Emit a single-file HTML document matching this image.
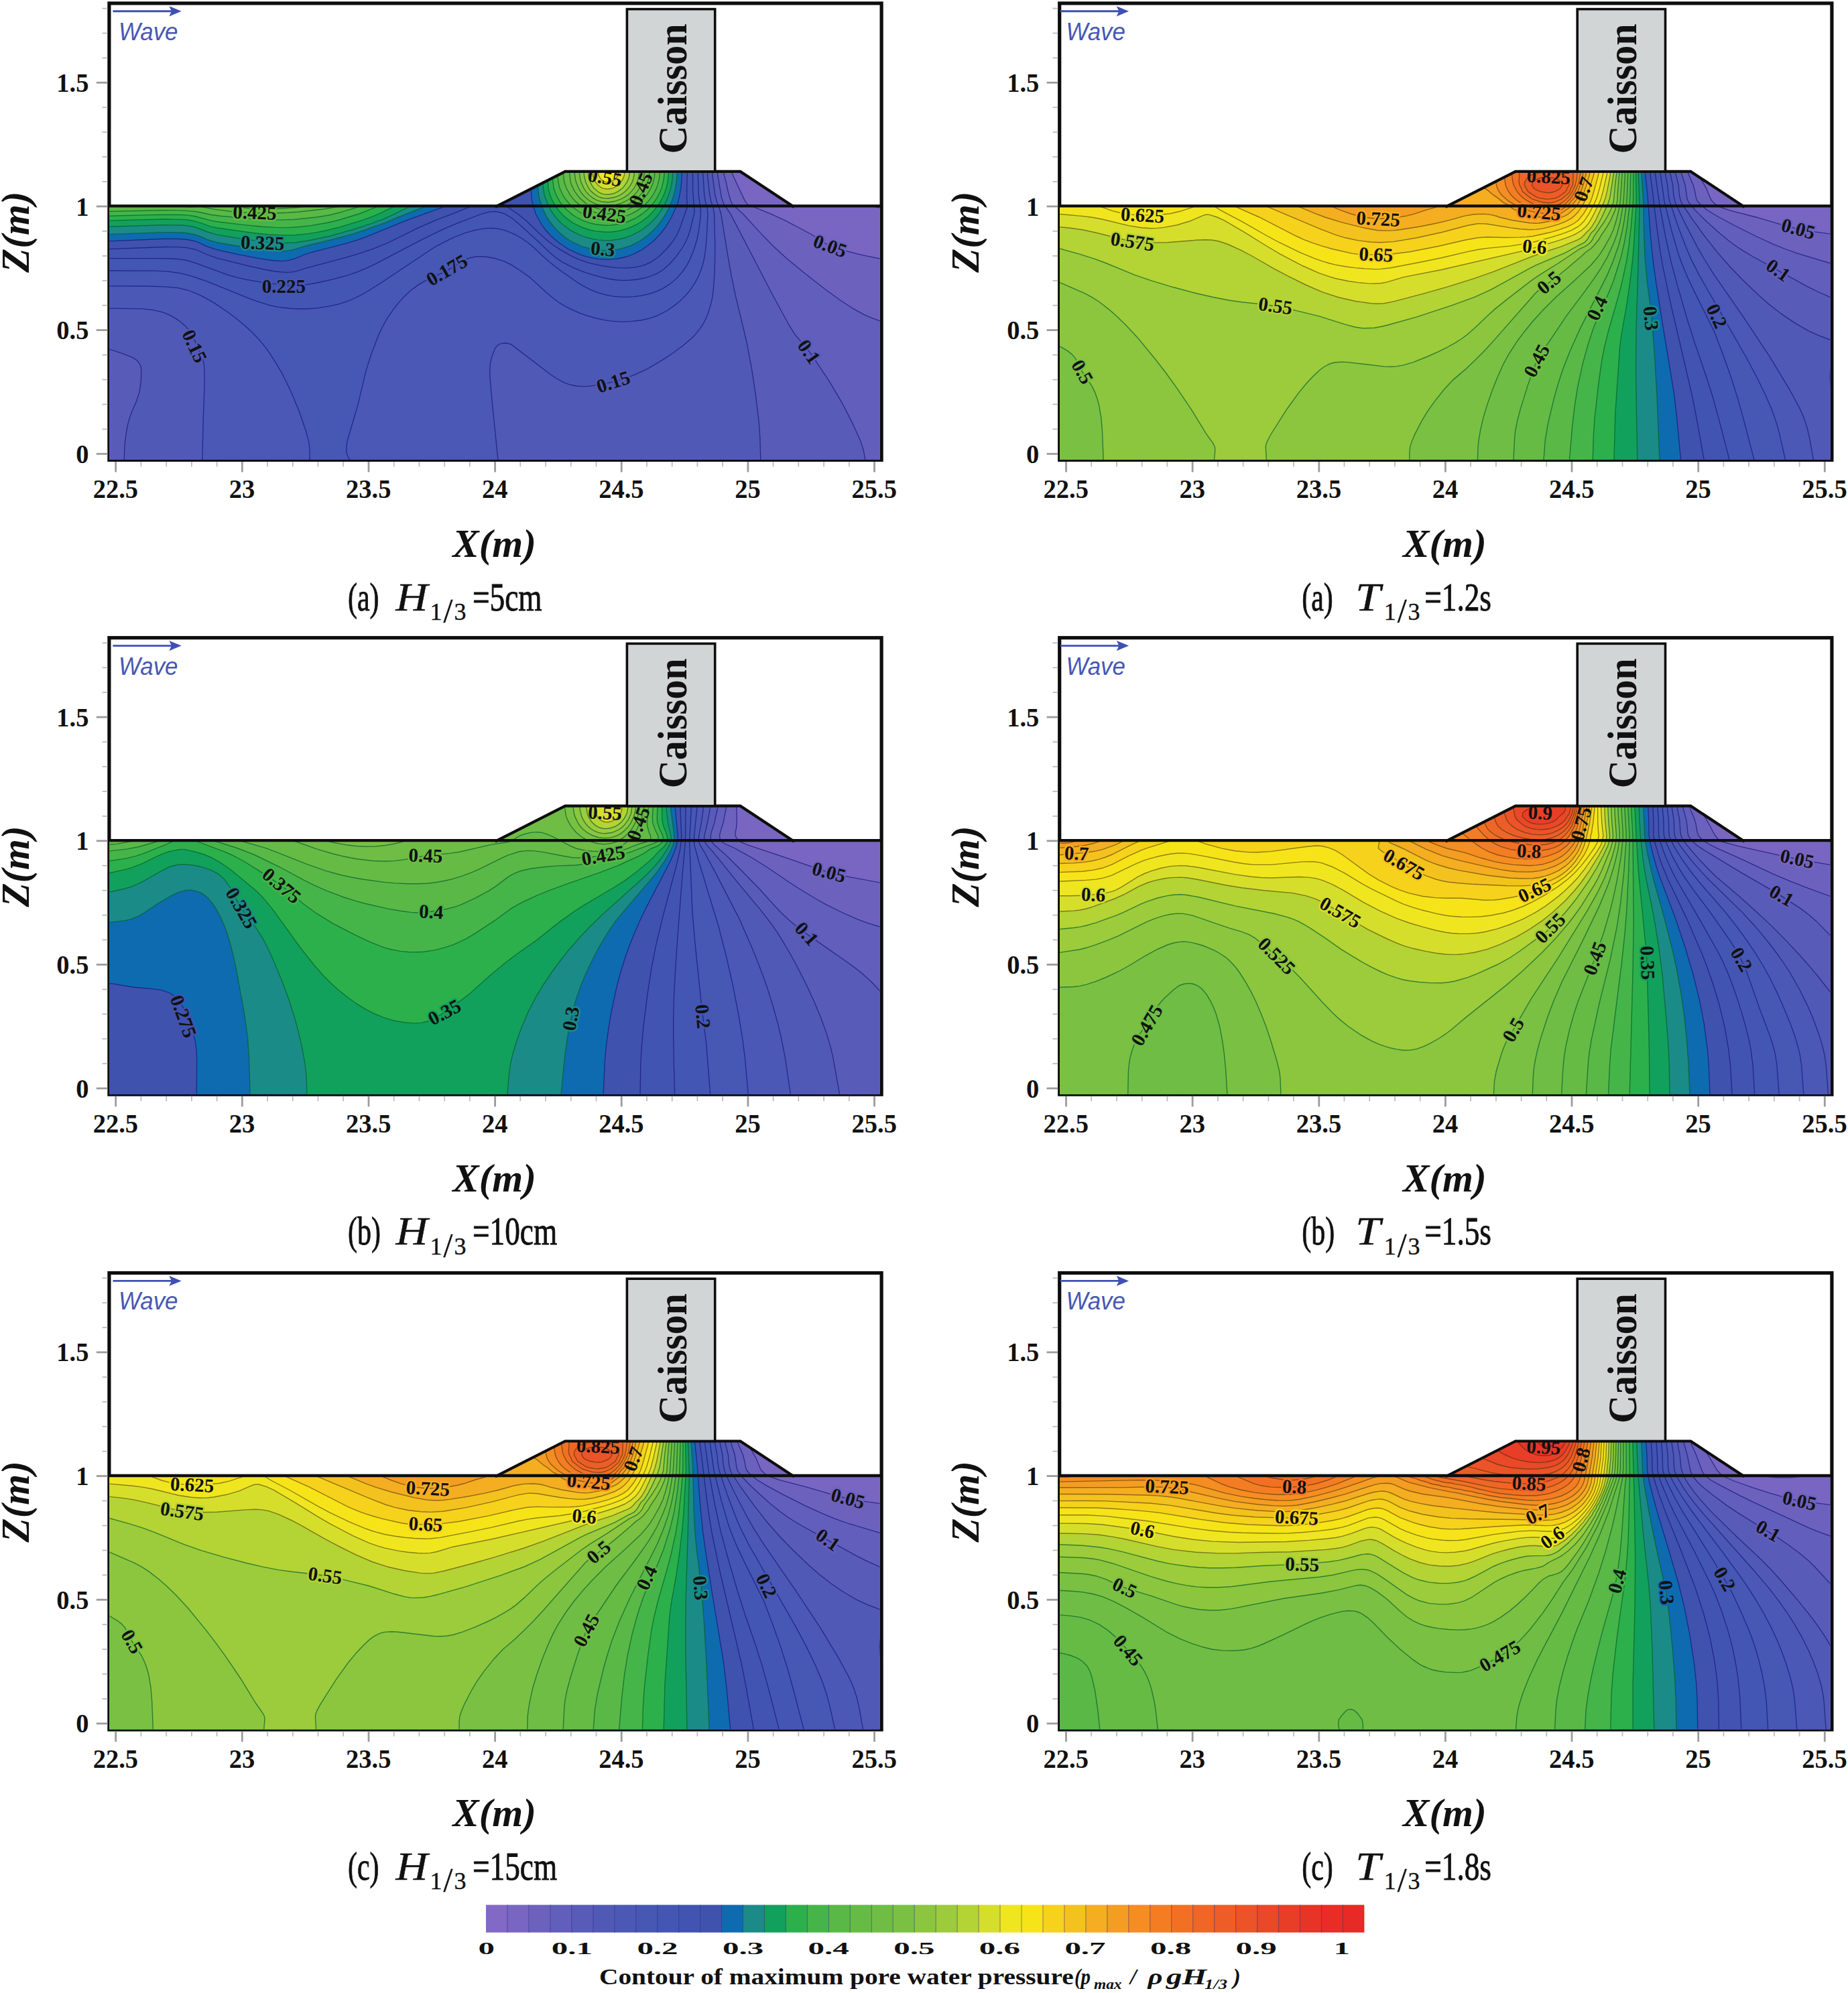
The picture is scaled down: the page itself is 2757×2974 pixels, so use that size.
<!DOCTYPE html><html><head><meta charset="utf-8"><title>Contour of maximum pore water pressure</title>
<style>
html,body{margin:0;padding:0;background:#fff}
svg{display:block}
text{font-family:"Liberation Serif",serif;fill:#111}
.tk{font-weight:bold;font-size:41px}
.ax{font-weight:bold;font-style:italic;font-size:59px}
.cai{font-weight:bold;font-size:62px}
.wv{font-family:"Liberation Sans",sans-serif;font-style:italic;font-size:36px;fill:#4657b3}
.cl{font-weight:bold;font-size:29px;fill:#111;paint-order:stroke;stroke-width:5px;stroke-linejoin:round}
.cap{font-size:60px;stroke:#111;stroke-width:0.9px}
.capi{font-size:60px;font-style:italic;stroke:#111;stroke-width:0.5px}
.caps{font-size:36px;letter-spacing:4px;stroke:#111;stroke-width:0.4px}
.cbt{font-weight:bold;font-size:24.5px}
.cbl{font-weight:bold;font-size:34px}
.cbi{font-style:italic}
.cbs{font-weight:bold;font-style:italic;font-size:20px}
</style></head><body>
<svg width="2757" height="2974" viewBox="0 0 2757 2974">
<rect width="2757" height="2974" fill="#fff"/>
<g transform="translate(0,0)">
<rect x="162.9" y="4.9" width="1152.2" height="681.5" fill="#fff" stroke="#0d0d0d" stroke-width="5.2"/>
<clipPath id="c0"><path d="M163.4 307.4L741.7 307.4L843.2 255.9L1104.5 255.9L1181.8 307.4L1312.6 307.4L1312.6 686L163.4 686Z"/></clipPath>
<g clip-path="url(#c0)">
<rect x="163.4" y="253.9" width="1149.2" height="434.1" fill="#8169c5"/>
<path d="M159.5 690.2L1317.7 690.2L1317.7 311L1298.4 307.3L1283.9 306.1L1240.5 306.9L1216.4 306.2L1192.2 303.5L1172.9 299.8L1163.3 296.1L1158.5 292.4L1131.1 266.9L1124.7 261.7L1120.8 257.4L1119.3 252.6L159.5 252.6L159.5 690.2Z" fill="#7866c2"/>
<path d="M159.5 690.2L1317.7 690.2L1317.7 386.9L1293.6 382.2L1279.1 378.9L1251.2 371.5L1240.5 367.9L1228.9 362L1215.1 352.5L1206.8 347.7L1170.6 328.7L1149.9 319.2L1115 305L1110.2 297.4L1093.6 262.1L1091.9 257.4L1092.3 252.6L159.5 252.6L159.5 690.2Z" fill="#6c62be"/>
<path d="M159.5 690.2L1317.7 690.2L1317.7 480.8L1298.4 473.6L1288.8 469.4L1274.3 461.4L1255 449L1230.8 431.5L1197.1 405L1172.9 384.9L1153.6 367.2L1134.3 347.4L1108.5 319.2L1092.8 304.9L1090.3 300.2L1086.2 285.9L1083.2 271.6L1080.6 262.1L1079.9 257.4L1080.1 252.6L159.5 252.6L159.5 690.2Z" fill="#625ebb"/>
<path d="M159.5 690.2L1291.6 690.2L1288.1 671.2L1283.4 656.9L1270.3 628.4L1255.5 599.8L1238.7 571.3L1213.6 533.3L1203.3 519L1186.6 500L1177.8 486.2L1153.6 441.7L1089.8 319.2L1080.2 304.9L1076.7 295.4L1075.7 290.7L1070.9 262.1L1070.3 257.4L1070.5 252.6L159.5 252.6L159.5 690.2Z" fill="#595bb8"/>
<path d="M185 690.2L1134.9 690.2L1133.8 652.2L1132.1 628.4L1127.5 590.3L1121.8 552.3L1113.8 509.5L1097.7 442.9L1090.9 410.3L1086.1 383.2L1075.7 319.2L1072.9 309.7L1069.1 300.2L1066.8 290.7L1062.9 262.1L1062.5 252.6L159.5 252.6L159.5 520L169.1 522.9L188.5 529.7L197.2 533.3L202.9 536.7L204.5 538L208.2 542.8L210.1 547.5L210.7 552.3L210 571.3L207.7 585.6L203.1 599.8L196.8 614.1L193.3 623.6L190.7 633.1L188.8 642.7L186.2 661.7L185 690.2Z" fill="#5159b6"/>
<path d="M301.7 690.2L743.4 690.2L734.2 599.8L731.3 566.6L730.7 552.3L731.4 542.8L733.8 532.2L739 519L743.4 514.2L748.3 512.6L753.1 512L757.9 512.5L762.9 514.2L820.6 558.3L830.3 564.8L839.9 570.1L849.6 574L859.3 576L868.9 576.6L878.6 576.3L897.9 573.6L912.3 570.3L926.8 566.3L946.1 559.7L965.4 550.7L989.6 536.4L1004 526.8L1018.5 516.2L1033 503.7L1037.8 498.6L1044.4 490.4L1047.7 485.7L1052.9 476.2L1057.1 465.6L1061 452.4L1062.9 442.9L1064.2 433.4L1066.2 404.8L1066.9 366.8L1065.5 319.2L1064 309.7L1060.7 300.2L1058.8 290.7L1055.7 262.1L1055.3 252.6L159.5 252.6L159.5 460.1L212.6 460.9L227.1 462.4L241.5 465.7L246.4 467.3L255.6 471.4L265.7 477.6L275.5 485.7L280 490.4L283.5 495.2L288.8 504.7L301.6 533.3L303.1 538L304.8 547.5L305.2 571.3L303.3 623.6L301.7 690.2Z" fill="#4b58b5"/>
<path d="M463.2 690.2L522 690.2L521.5 685.5L518.9 680.7L517.2 676L516.7 671.2L516.8 666.4L518.5 656.9L532.5 609.4L543.8 561.8L549.1 542.8L557.3 519L562.9 504.7L569.3 490.4L574.3 480.9L583.3 466.7L594.1 452.4L607.5 438.1L618.8 428.6L625.9 423.8L632.4 420.1L664.8 404.8L673.5 400.1L690.3 389.6L698.1 385.8L704.8 383.8L709.6 383L719.3 382.6L724.1 383L739.6 385.8L753.7 390.6L762.7 395.1L777.7 404.8L790.9 414.3L816.7 438.1L828.4 447.6L835.3 452.4L849.6 460.4L863.7 466.7L878.6 471.9L893 475.9L907.5 478.6L922 479.9L941.3 479.7L955.8 478L970.2 474.8L979.9 471.4L994.4 464L1004 457.6L1008.9 454L1018.5 445.4L1028.2 434.9L1033 428.3L1037.8 420.6L1043.3 409.6L1047.5 398.3L1050.6 385.8L1052.3 375.7L1053.7 362L1056 319.2L1054.9 309.7L1052.2 300.2L1050.7 290.7L1048.4 252.6L159.5 252.6L159.5 426.8L217.4 427L246.4 427.8L265.7 429.7L280.1 433L293.3 438.1L303.2 442.9L320.1 452.4L341.2 466.7L353.6 476.2L365 485.7L375.4 495.2L384.6 504.7L392.7 514.2L399.9 523.7L412.4 542.8L420.6 557L427.9 571.3L436.6 590.3L446.3 614.1L456.3 642.7L461.1 661.7L462.1 671.2L461.9 685.5L463.2 690.2Z" fill="#4657b4"/>
<path d="M409.3 457.1L420.1 459L434.6 460.5L449.1 461L463.5 460.7L478 459.2L492.5 456.7L507 453.4L516.6 450.3L526.3 446.4L535.9 441.7L555.2 430.6L613.1 392.6L644.3 371.5L660.7 362L680.7 352.7L695.2 347.3L710.2 343L719.3 341.5L729 340.5L738.6 340.6L753.1 343.7L762.7 347.4L772.4 352.1L786.9 361.5L796.5 369.6L811 383.3L820.6 391.7L835.1 403.1L844.8 410L854.4 416.9L868.9 426.1L878.6 431.2L888.2 435.3L897.9 438.4L907.5 440.8L917.2 442.3L931.6 443.3L941.3 443L955.8 441.4L965.4 439.4L975.1 436.5L984.7 432.5L994.4 427.2L1004 420.2L1013.7 411L1018.8 404.8L1025.1 395.3L1029.9 385.8L1035.6 371.5L1039.9 357.3L1042 347.7L1045.1 324L1045.6 314.4L1042.2 290.7L1041.2 252.6L159.5 252.6L159.5 404L212.6 403.9L236.7 404.3L256 405.7L270.5 408.1L285 411.8L304.3 418.2L381.5 448.9L396 453.8L409.3 457.1Z" fill="#4356b3"/>
<path d="M409.8 423.8L434.6 426.4L444.2 426.3L453.9 425.3L473.2 422L492.5 417.9L511.8 412.9L526.3 408.4L540.7 402.9L555.2 396.2L638.9 352.5L661.4 341.8L685.5 331.9L719.3 319L729 316.4L738.6 315.7L743.4 316.3L748.3 317.6L753.1 319.4L761.4 324L767.8 328.7L778.7 338.2L804.7 362L819.4 376.3L830.3 385.4L839.9 391.7L856.6 400.1L868.9 405.1L888.2 411.3L902.7 415.1L917.2 417.5L926.8 418.3L941.3 418L955.8 416.2L965.4 414L975.1 410.7L984.7 405.7L989.6 402.3L997.6 395.3L1006.4 385.8L1013.7 376.3L1019.8 366.8L1024.7 357.3L1029.8 343L1035.5 319.2L1036 314.4L1033.7 285.9L1033.5 252.6L159.5 252.6L159.5 385.7L236.7 385.7L256 386L270.5 387.2L280.1 389L289.8 391.9L337.7 409.6L352.5 413.8L381.5 419.8L409.8 423.8Z" fill="#4154b1"/>
<path d="M409.2 404.8L424.9 406.4L434.6 406.1L439.4 405.4L458.7 399.5L516.6 384.1L540.7 376.8L556.1 371.5L569.7 366.2L589.6 357.3L622.8 340.7L637.3 334L685.5 314.9L704.8 306.5L719.3 301.3L729 299.4L733.8 299.1L738.6 299.4L743.4 300.6L748.3 302.9L750.5 304.9L753.1 306.2L772.3 319.2L784.4 328.7L804 347.7L815.8 358.3L825.5 365.8L835.1 372.1L854.4 383.1L864.1 387.3L878.6 392.3L902.7 397.5L917.2 399.2L931.6 400L941.3 399.7L955.8 397.2L962 395.3L972.1 390.6L979.1 385.8L984.7 381.3L994.4 371.7L999.2 366L1004 359.8L1008.9 352.5L1013.7 342.1L1025.1 309.7L1025.4 304.9L1024.8 300.2L1024.6 285.9L1025.4 252.6L159.5 252.6L159.5 371.7L246.4 368.5L265.7 368.6L280.1 369.8L289.8 371.8L313.9 381.9L328.4 386.5L376.7 398.3L409.2 404.8Z" fill="#3f52ad"/>
<path d="M387.4 385.8L405.6 388.5L415.3 389.5L424.9 389.4L429.7 388.7L439.4 386.1L453.9 380L463.5 376.8L502.1 367L531.1 358.8L545.6 353.7L564.9 346.2L607.1 328.7L656.6 310.7L670.9 304.9L689.7 295.4L722.8 276.4L733.8 270.9L743.4 267.4L748.3 266.2L757.9 265L762.7 264.9L772.4 266.1L777.2 267.4L785.5 271.6L790.3 276.4L792.3 281.1L793.2 295.4L794.9 304.9L799.3 319.2L807.1 333.5L813.8 343L822.4 352.5L833.4 362L849.6 372.6L864.1 379.3L878.6 383.9L893 386.6L902.7 387.2L917.2 386.7L926.8 385L936.5 382.5L946.1 378.7L955.8 373.7L965.4 367.3L975.1 359.4L979.9 354.6L986.3 347.7L993.5 338.2L1001.8 324L1010.5 304.9L1013.1 295.4L1015.7 281.1L1016.7 271.6L1017.7 252.6L159.5 252.6L159.5 360.1L246.4 356.4L265.7 356.4L277.7 357.3L285 358.5L294.6 361.2L309.1 367.8L323.6 372.7L357.4 380.1L387.4 385.8Z" fill="#0e6bb0"/>
<path d="M384.9 371.5L415.3 374.6L424.9 374.6L434.6 373.2L456.7 366.8L482.8 360.7L511.8 353.3L540.7 344.5L574.5 332.3L594.2 324L642.1 305.3L666.2 292.3L700 270.7L714.5 262.5L729 256.5L738.6 253.9L746.6 252.6L159.5 252.6L159.5 349.8L236.7 346.9L256 346.6L275.3 347.3L289.8 349.7L299.4 353L309.1 357.3L323.6 361.6L357.4 367.5L384.9 371.5ZM882 371.5L893 373.2L902.7 373.8L917.2 372.9L926.8 371.1L941.3 366.3L950.9 361.6L960.6 355.5L970.2 347.8L979.9 338L987.2 328.7L994.4 317.2L1000.3 304.9L1005.3 290.7L1007.7 281.1L1009.2 271.6L1010.5 252.6L764.9 252.6L777.2 255.2L786.9 259.3L791.7 262.2L796.5 266.3L800.6 271.6L802.4 276.4L803.1 285.9L804.5 295.4L808.9 309.7L813.3 319.2L818.9 328.7L825.5 337.6L830.3 343L839.9 351.8L844.8 355.4L854.4 361.5L868.9 367.9L882 371.5Z" fill="#1b8b88"/>
<path d="M412.3 362L424.9 362.5L439.4 362L463.5 358.4L492.5 352.2L502.1 349.3L509.4 347.7L516.6 345.2L526.3 342.9L531.1 340.9L540.7 338.3L545.6 336.2L555.2 333.4L560 331.2L569.7 327.8L589 319.4L593.8 316.7L632.4 298L652.2 285.9L687.3 262.1L704.2 252.6L159.5 252.6L159.5 338.4L241.5 335.7L260.8 335.7L275.3 336.3L289.8 338.7L313.9 347.7L328.4 351L376.7 358.5L396 360.7L412.3 362ZM887.7 357.3L897.9 358.5L907.5 358.8L917.2 358L931.6 355L941.3 351.6L950.9 347L960.6 341L970.2 333.1L978.9 324L984.7 316.5L989.6 308.8L994.4 299.4L999.2 286.3L1001.7 276.4L1003.1 266.9L1003.9 252.6L794.4 252.6L801.3 258.2L804.7 262.1L807.8 266.9L809.7 271.6L811.2 285.9L812.2 290.7L815.2 300.2L817.2 304.9L822.2 314.4L830.3 325.6L839.9 335.2L844.8 339.1L854.4 345.4L868.9 352.2L878.6 355.3L887.7 357.3Z" fill="#12a15c"/>
<path d="M378.4 347.7L400.8 350L420.1 351L439.4 350.8L453.9 349.5L473.2 346.6L492.5 342.6L507 338.9L535.9 330.2L553.7 324L565.2 319.2L613.5 295.4L632.4 284.1L666.2 260.4L678.2 252.6L159.5 252.6L159.5 329.2L246.4 327L275.3 327.6L284.3 328.7L289.8 329.9L299.4 332.7L313.9 337.9L323.6 340L352.5 344.4L378.4 347.7ZM879.7 343L893 345.6L902.7 346.3L912.3 346L922 344.8L931.6 342.4L941.3 339L950.9 334.4L960.6 328.1L970.2 320L975.5 314.4L982.7 304.9L988.2 295.4L992.2 285.9L995.1 276.4L996.8 266.9L997.6 252.6L808.2 252.6L811.9 257.4L814.6 262.1L816.4 266.9L817.4 271.6L818.1 281.1L820.5 290.7L822.4 295.4L827.1 304.9L833.8 314.4L839.9 321.1L844.8 325.4L854.4 332.3L859.3 335L868.9 339.5L879.7 343Z" fill="#2cb04c"/>
<path d="M391.5 338.2L410.4 339.4L424.9 339.7L444.2 338.8L458.7 337.2L478 334.3L497.3 330.4L516.6 325.1L535.9 319L560 309.6L603.5 287.8L622 276.4L655.5 252.6L159.5 252.6L159.5 322.3L241.5 320.3L275.3 320.7L289.8 322.5L313.9 328.9L323.6 330.8L362.2 335.4L391.5 338.2ZM882.6 333.5L893 335.5L902.7 336.3L912.3 336L922 334.7L931.6 332.3L941.3 328.8L950.9 323.9L960.6 317.3L969 309.7L975.1 302.7L980 295.4L984.7 286.3L986.8 281.1L989.6 271.3L990.8 262.1L991.2 252.6L819.2 252.6L821.7 257.4L823.4 262.1L824.4 266.9L825.5 277.3L827.7 285.9L831.9 295.4L838.1 304.9L846.8 314.4L852.5 319.2L859.3 323.8L868.9 328.8L873.7 330.8L882.6 333.5Z" fill="#46b549"/>
<path d="M347.4 324L386.3 326.9L405.6 327.9L424.9 328.1L439.4 327.5L458.7 325.7L478 323.3L492.5 320.7L516.6 314.4L535.9 308.5L545.6 305.2L556.7 300.2L584 285.9L598.7 277.3L614.4 266.9L634.2 252.6L159.5 252.6L159.5 315.6L241.5 313.9L270.5 314.1L289.8 315.3L318.8 321L347.4 324ZM882 324L893 326.5L902.7 327.3L912.3 327.1L922 325.7L931.6 323.2L941.3 319.4L946.1 317L955.8 310.8L960.6 306.8L967.3 300.2L974.3 290.7L977 285.9L979.9 279.5L982.4 271.6L984 262.1L984.4 252.6L829.2 252.6L831.9 262.1L832.9 271.6L835.1 281.1L839.5 290.7L844.8 298.7L850.1 304.9L855.3 309.7L861.6 314.4L873.7 321L882 324Z" fill="#5ab847"/>
<path d="M336.2 314.4L352.5 316.1L371.8 317.4L405.6 318L424.9 317.5L444.2 316.2L468.4 313.6L482.8 312L502.1 308.7L511.8 307.5L520.3 304.9L535.9 298.8L545.6 294.5L560 287L586.1 271.6L613.5 252.6L159.5 252.6L159.5 308L246.4 307.2L260.8 307.4L285 308.7L294.6 308L299.4 308.4L318.8 312.1L336.2 314.4ZM880.7 314.4L888.2 317L893 318.1L902.7 318.9L912.3 318.7L922 317.3L926.8 316.1L936.5 312.7L946.1 307.7L955.8 300.6L960.6 295.9L965.4 290.1L970.2 282.3L973 276.4L975.8 266.9L976.5 262.1L976.9 252.6L839 252.6L840.1 257.4L841.8 271.6L843.2 276.4L847.5 285.9L850.4 290.7L854 295.4L858.3 300.2L863.7 304.9L873.7 311.5L880.7 314.4Z" fill="#66bb45"/>
<path d="M357 309.7L371.8 310.9L396 311.9L410.4 311.7L429.7 310.6L444.2 309.5L463.5 307.1L507 298.8L521.4 294.3L531.1 290.2L545.6 282.9L569.7 268.5L592.8 252.6L159.5 252.6L159.5 300L246.4 300.3L280.1 301.5L299.4 301.2L309.1 302.4L338.1 307.4L357 309.7ZM886.6 309.7L893 311.6L902.7 312.9L907.5 312.9L917.2 311.9L922 310.9L931.6 307.7L937.6 304.9L945.2 300.2L951 295.4L955.6 290.7L959.3 285.9L962.3 281.1L966.4 271.6L967.7 266.9L968.5 262.1L969.1 252.6L848.3 252.6L849.5 257.4L851.2 271.6L852.8 276.4L857.5 285.9L864.1 294.7L869.9 300.2L878.6 306.1L886.6 309.7Z" fill="#6fbd45"/>
<path d="M377.7 304.9L400.8 306.1L420.1 305L439.4 303.3L463.5 299.7L497.3 291.6L514.7 285.9L531.1 278.3L550.9 266.9L572.1 252.6L159.5 252.6L159.5 291.5L299.4 294.2L313.9 295.8L352.5 302.2L377.7 304.9ZM890.5 304.9L897.9 306.8L902.7 307.3L907.5 307.4L917.2 306.2L922.3 304.9L931.6 301.2L941 295.4L946.4 290.7L950.6 285.9L956.5 276.4L959.9 266.9L961.4 252.6L856.5 252.6L858.3 266.9L859.4 271.6L861.1 276.4L866.1 285.9L869.7 290.7L874.4 295.4L878.6 298.8L883.4 301.8L890.5 304.9Z" fill="#7ac043"/>
<path d="M894.9 300.2L902.7 301.6L907.5 301.7L917.2 300.3L926.8 296.9L931.6 294.3L936.7 290.7L941.9 285.9L945.7 281.1L948.6 276.4L950.8 271.6L953.2 262.1L953.9 252.6L863.9 252.6L865.6 266.9L866.8 271.6L868.7 276.4L873.7 285.2L878.6 290.6L883.4 294.7L888.2 297.7L894.9 300.2ZM357.1 295.4L386.3 298.6L405.6 299L434.6 296.5L444.2 295.1L458.7 292.3L487.7 284.5L497.8 281.1L509.7 276.4L528.4 266.9L550.8 252.6L159.5 252.6L159.5 282.7L299.4 287L318.8 289.1L357.1 295.4Z" fill="#8cc63f"/>
<path d="M899.4 295.4L907.5 296L917.2 294.3L922 292.6L925.9 290.7L932.6 285.9L937.3 281.1L943.2 271.6L945.9 262.1L946.5 252.6L870.7 252.6L871.5 262.1L873.6 271.6L878.4 281.1L882.3 285.9L888.2 290.9L893 293.6L899.4 295.4ZM387.3 290.7L405.6 290.9L424.9 289.4L444.2 286.3L463.5 281.6L480.2 276.4L497.3 269.6L512.5 262.1L528.4 252.6L159.5 252.6L159.5 273.5L198.1 275.3L280.1 278.2L299.4 279.3L323.6 282L367 288.6L387.3 290.7Z" fill="#9ccb3c"/>
<path d="M891.9 285.9L897.9 289.1L902.7 290.1L907.5 290.2L912.3 289.5L917.2 288.1L922 285.8L928.3 281.1L932.4 276.4L935.4 271.6L937.6 266.9L938.8 262.1L939.4 257.4L939.3 252.6L877.4 252.6L878 262.1L878.8 266.9L880.5 271.6L883.4 277.1L886.3 281.1L891.9 285.9ZM381.3 281.1L396 281.8L410.4 281.3L424.9 279.7L442.9 276.4L458.7 272.1L473.8 266.9L487.7 261L503.9 252.6L159.5 252.6L159.5 263.8L198.1 266.1L294.6 270.7L318.8 273.1L362.2 279.1L381.3 281.1Z" fill="#b4d334"/>
<path d="M900.5 281.1L902.7 281.8L907.5 282L912.3 281.3L917.2 279.4L922 276.2L926.4 271.6L929.4 266.9L931.2 262.1L931.6 259.5L931.9 257.4L931.6 252.6L884.7 252.6L884.4 257.4L884.9 262.1L886.3 266.9L888.2 271L893 277.1L897.9 280.3L900.5 281.1ZM341.8 266.9L367 269.8L386.3 271.1L400.8 271.1L415.3 270L429.7 267.7L444.2 264.2L458.7 259.5L475.3 252.6L159.5 252.6L159.5 253.6L183.6 255.3L294.6 261.9L318.8 264.1L341.8 266.9Z" fill="#d6de2c"/>
<path d="M905.4 271.6L907.5 271.8L912.3 270.7L918.3 266.9L922 261.9L923 257.4L922.1 252.6L893.5 252.6L892.4 257.4L893 261.7L896 266.9L897.9 268.8L902.7 271.4L905.4 271.6ZM349.3 257.4L376.7 259.3L396 259.3L415.3 257.4L424.9 255.6L436.9 252.6L299.4 252.6L349.3 257.4Z" fill="#f0e620"/>
<path d="M1317.7 311L1298.4 307.3L1283.9 306.1L1240.5 306.9L1216.4 306.2L1192.2 303.5L1172.9 299.8L1163.3 296.1L1158.5 292.4L1131.1 266.9L1124.7 261.7L1120.8 257.4L1119.3 252.6M1317.7 386.9L1293.6 382.2L1279.1 378.9L1251.2 371.5L1240.5 367.9L1228.9 362L1215.1 352.5L1206.8 347.7L1170.6 328.7L1149.9 319.2L1115 305L1110.2 297.4L1093.6 262.1L1091.9 257.4L1092.3 252.6M1317.7 480.8L1298.4 473.6L1288.8 469.4L1274.3 461.4L1255 449L1230.8 431.5L1197.1 405L1172.9 384.9L1153.6 367.2L1134.3 347.4L1108.5 319.2L1092.8 304.9L1090.3 300.2L1086.2 285.9L1083.2 271.6L1080.6 262.1L1079.9 257.4L1080.1 252.6M1291.6 690.2L1288.1 671.2L1283.4 656.9L1270.3 628.4L1255.5 599.8L1238.7 571.3L1213.6 533.3L1203.3 519L1186.6 500L1177.8 486.2L1153.6 441.7L1089.8 319.2L1080.2 304.9L1076.7 295.4L1075.7 290.7L1070.9 262.1L1070.3 257.4L1070.5 252.6M1134.9 690.2L1133.8 652.2L1132.1 628.4L1127.5 590.3L1121.8 552.3L1113.8 509.5L1097.7 442.9L1090.9 410.3L1086.1 383.2L1075.7 319.2L1072.9 309.7L1069.1 300.2L1066.8 290.7L1062.9 262.1L1062.5 252.6M159.5 520L183.6 527.9L198.1 533.7L204.5 538L208.2 542.8L210.1 547.5L210.7 552.3L210.4 566.6L209.4 576.1L207.7 585.6L203.1 599.8L196.8 614.1L193.3 623.6L190.7 633.1L188.8 642.7L186.2 661.7L185 690.2M743.4 690.2L734.2 599.8L731.3 566.6L730.7 552.3L731.4 542.8L733.8 532.2L739 519L743.4 514.2L748.3 512.6L753.1 512L757.9 512.5L762.9 514.2L820.6 558.3L830.3 564.8L839.9 570.1L849.6 574L859.3 576L868.9 576.6L878.6 576.3L897.9 573.6L912.3 570.3L926.8 566.3L946.1 559.7L965.4 550.7L989.6 536.4L1004 526.8L1018.5 516.2L1033 503.7L1037.8 498.6L1044.4 490.4L1047.7 485.7L1052.9 476.2L1057.1 465.6L1061 452.4L1062.9 442.9L1064.2 433.4L1066.2 404.8L1066.9 366.8L1065.5 319.2L1064 309.7L1060.7 300.2L1058.8 290.7L1055.7 262.1L1055.3 252.6M159.5 460.1L212.6 460.9L227.1 462.4L241.5 465.7L246.4 467.3L255.6 471.4L265.7 477.6L275.5 485.7L280 490.4L283.5 495.2L288.8 504.7L301.6 533.3L303.1 538L304.8 547.5L305.2 571.3L303.3 623.6L301.7 690.2M522 690.2L521.5 685.5L518.9 680.7L517.2 676L516.7 671.2L517.5 661.7L519.8 652.2L533.8 604.6L546.3 552.3L553.9 528.5L564.9 500L571.7 485.7L577.1 476.2L586.7 461.9L594.1 452.4L602.6 442.9L612.8 433.4L622.8 425.9L632.4 420.1L664.8 404.8L695.2 387.1L700 385.1L709.6 383L719.3 382.6L724.1 383L739.6 385.8L753.1 390.3L762.7 395.1L777.7 404.8L790.9 414.3L816.7 438.1L828.4 447.6L835.1 452.2L843.3 457.1L852.7 461.9L864.1 466.8L873.7 470.4L888.2 474.7L902.7 477.8L912.3 479.2L926.8 480.1L941.3 479.7L955.8 478L970.2 474.8L979.9 471.4L994.4 464L1004 457.6L1013.7 449.9L1023.3 440.5L1029.3 433.4L1037.8 420.6L1042.6 411.1L1047.5 398.3L1050.6 385.8L1052.8 371.5L1054.4 352.5L1056 319.2L1054.9 309.7L1052.2 300.2L1050.7 290.7L1048.4 252.6M159.5 426.8L217.4 427L246.4 427.8L265.7 429.7L280.1 433L293.3 438.1L303.2 442.9L320.1 452.4L341.2 466.7L353.6 476.2L365 485.7L375.4 495.2L384.6 504.7L392.7 514.2L399.9 523.7L412.4 542.8L420.6 557L427.9 571.3L436.6 590.3L446.3 614.1L456.3 642.7L461.1 661.7L462.1 671.2L461.9 685.5L463.2 690.2M159.5 404L231.9 404.1L251.2 405.2L265.7 407.1L275.3 409.1L285 411.8L306.9 419.1L371.8 445.3L386.3 450.6L400.8 455.2L415.3 458.3L434.6 460.5L453.9 461L473.2 459.8L492.5 456.7L507 453.4L521.4 448.5L535.9 441.7L550.4 433.5L569.7 421.3L644.3 371.5L652 366.8L670.4 357.3L681.2 352.5L693.8 347.7L709.6 343.1L724.1 340.9L733.8 340.3L743.4 341.4L753.1 343.7L767.6 349.6L777.2 355L787.5 362L796.5 369.6L811 383.3L820.6 391.7L835.1 403.1L859.3 420L868.9 426.1L878.6 431.2L888.2 435.3L897.9 438.4L907.5 440.8L917.2 442.3L926.8 443.1L936.5 443.2L946.1 442.7L955.8 441.4L970.2 438.1L979.9 434.7L989.6 430.1L999.2 423.9L1008.9 415.9L1018.5 405.2L1025.1 395.3L1029.9 385.8L1035.6 371.5L1039.9 357.3L1042.6 343.7L1045.1 324L1045.6 314.4L1042.2 290.7L1041.2 252.6M159.5 385.7L236.7 385.7L256 386L270.5 387.2L280.1 389L289.8 391.9L338.1 409.7L352.5 413.8L367 417.1L396 422.1L429.7 426.2L439.4 426.5L453.9 425.3L473.2 422L497.3 416.7L516.6 411.5L531.1 406.7L545.6 400.7L560 393.8L629.7 357.3L661.4 341.8L685.5 331.9L719.3 319L729 316.4L738.6 315.7L743.4 316.3L748.3 317.6L753.1 319.4L761.4 324L767.8 328.7L778.7 338.2L804.7 362L819.4 376.3L830.3 385.4L839.9 391.7L854.4 399.1L868.9 405.1L883.4 409.9L897.9 413.9L907.5 416L917.2 417.5L926.8 418.3L936.5 418.3L950.9 417L960.6 415.2L970.2 412.5L979.9 408.4L989.6 402.3L999.2 393.7L1008.9 382.7L1018.5 369L1023.3 360.3L1026.7 352.5L1029.8 343L1035.5 319.2L1036 314.4L1033.7 285.9L1033.5 252.6M159.5 371.7L246.4 368.5L265.7 368.6L280.1 369.8L289.8 371.8L294.6 373.5L309.1 380L323.6 385.1L371.8 397.2L396 402.5L410.4 405L424.9 406.4L434.6 406.1L441.8 404.8L458.7 399.5L516.6 384.1L535.9 378.3L555.2 371.9L579.4 362L622.8 340.7L650.1 328.7L680.7 316.9L714.5 302.8L724.1 300.2L733.8 299.1L738.6 299.4L743.4 300.6L748.3 302.9L750.5 304.9L753.1 306.2L772.3 319.2L784.4 328.7L804 347.7L815.8 358.3L825.5 365.8L835.1 372.1L854.4 383.1L864.1 387.3L878.6 392.3L897.9 396.7L912.3 398.8L922 399.6L936.5 399.9L946.1 399.1L955.8 397.2L962 395.3L972.1 390.6L979.1 385.8L985 381L994.5 371.5L1002.4 362L1008.9 352.5L1013.7 342.1L1025.1 309.7L1025.4 304.9L1024.8 300.2L1024.6 285.9L1025.4 252.6M159.5 360.1L241.5 356.5L260.8 356.3L275.3 357L285 358.5L294.6 361.2L309.1 367.8L323.6 372.7L357.4 380.1L386.3 385.6L405.6 388.5L420.1 389.6L429.7 388.7L439.4 386.1L453.9 380L463.5 376.8L516.6 363.1L531.1 358.8L545.6 353.7L607.1 328.7L656.6 310.7L670.9 304.9L689.7 295.4L722.8 276.4L733.8 270.9L743.4 267.4L748.3 266.2L757.9 265L762.7 264.9L772.4 266.1L777.2 267.4L785.5 271.6L790.3 276.4L792.3 281.1L793.2 295.4L794.9 304.9L799.3 319.2L807.1 333.5L813.8 343L822.4 352.5L833.4 362L847.6 371.5L859.3 377.2L868.9 381.1L878.6 383.9L893 386.6L907.5 387.2L917.2 386.7L926.8 385L936.5 382.5L946.1 378.7L955.8 373.7L965.4 367.3L975.1 359.4L984.7 349.5L993.5 338.2L1001.8 324L1010.5 304.9L1013.1 295.4L1015.7 281.1L1016.7 271.6L1017.7 252.6" fill="none" stroke="#181a7c" stroke-width="1.3" stroke-opacity="0.75"/>
<path d="M159.5 349.8L236.7 346.9L256 346.6L275.3 347.3L289.8 349.7L299.4 353L309.1 357.3L313.9 359L323.6 361.6L333.2 363.5L371.8 369.7L400.8 373.4L420.1 374.8L429.7 374.1L439.4 372.1L456.7 366.8L492.5 358.3L526.3 349.1L540.7 344.5L574.5 332.3L594.2 324L642.9 304.9L666.2 292.3L700 270.7L715.2 262.1L729 256.5L738.6 253.9L746.6 252.6M764.9 252.6L777.2 255.2L786.9 259.3L791.7 262.2L796.5 266.3L800.6 271.6L802.4 276.4L803.1 285.9L804.5 295.4L807.3 304.9L811 314.4L815.8 323.8L820.6 331.3L826.1 338.2L835.1 347.6L844.8 355.4L854.4 361.5L868.9 367.9L883.4 371.8L893 373.2L902.7 373.8L912.3 373.4L922 372.1L931.6 369.7L941.3 366.3L955.8 358.8L964.7 352.5L975.1 343.3L979.9 338L987.2 328.7L993.3 319.2L998.2 309.7L1002.2 300.2L1005.3 290.7L1007.7 281.1L1009.2 271.6L1010.5 252.6M159.5 338.4L241.5 335.7L270.5 336L280.1 336.9L289.8 338.7L299.4 342L309.1 346L323.6 350.1L352.5 355L381.5 359.1L405.6 361.6L424.9 362.5L439.4 362L458.7 359.2L492.5 352.2L502.1 349.3L509.4 347.7L516.6 345.2L526 343L531.1 340.9L540.7 338.3L545.6 336.2L555.2 333.4L560 331.2L569.7 327.8L589.4 319.2L593.8 316.7L628.4 300.2L637.1 295.4L652.2 285.9L687.3 262.1L704.2 252.6M794.4 252.6L801.3 258.2L804.7 262.1L807.8 266.9L809.7 271.6L811.2 285.9L812.2 290.7L817.2 304.9L820.6 311.8L825.3 319.2L830.3 325.6L835.1 330.8L839.9 335.2L849.6 342.5L854.4 345.4L864.1 350.3L873.7 353.9L883.4 356.5L893 358.1L902.7 358.8L912.3 358.5L922 357.3L931.6 355L941.3 351.6L950.9 347L960.6 341L970.2 333.1L975.1 328.3L979.9 322.8L986.1 314.4L991.6 304.9L996 295.4L999.3 285.9L1001.7 276.4L1003.1 266.9L1003.9 252.6M159.5 329.2L246.4 327L275.3 327.6L284.3 328.7L289.8 329.9L299.4 332.7L313.9 337.9L323.6 340L376.7 347.5L400.8 350L420.1 351L439.4 350.8L458.7 348.9L473.2 346.6L487.7 343.7L507 338.9L540.7 328.6L555.2 323.4L565.2 319.2L604.2 300.2L622 290.7L636.9 281.1L663.8 262.1L678.2 252.6M808.2 252.6L811.9 257.4L814.6 262.1L815.8 265.2L817.4 271.6L818.1 281.1L819.1 285.9L820.6 291.1L824.5 300.2L830.3 309.8L835.1 316L839.9 321.1L844.8 325.4L854.4 332.3L859.3 335L868.9 339.5L878.6 342.7L888.2 344.9L902.7 346.3L912.3 346L922 344.8L931.6 342.4L941.3 339L950.9 334.4L955.8 331.5L965.4 324.4L970.2 320L975.5 314.4L982.7 304.9L985.6 300.2L990.4 290.7L993.8 281.1L996.1 271.6L997.2 262.1L997.6 252.6M159.5 322.3L236.7 320.4L270.5 320.5L280.1 321.1L289.8 322.5L313.9 328.9L323.6 330.8L362.2 335.4L391.1 338.2L410.4 339.4L429.7 339.6L444.2 338.8L463.5 336.6L487.7 332.5L504.1 328.7L535.9 319L559.8 309.7L593.8 293L608.3 285.1L622.8 275.9L655.5 252.6M819.2 252.6L821.7 257.4L823.4 262.1L824.4 266.9L826.2 281.1L829.6 290.7L835.1 300.8L839.9 307.3L844.8 312.5L854.4 320.6L859.6 324L868.9 328.8L878.6 332.4L888.2 334.8L902.7 336.3L912.3 336L922 334.7L936.5 330.8L946.1 326.5L950.9 323.9L958 319.2L965.4 313.2L970.2 308.4L976.9 300.2L980 295.4L984.9 285.9L986.8 281.1L989.6 271.3L990.8 262.1L991.2 252.6M159.5 315.6L246.4 313.8L265.7 313.9L280.1 314.6L294.6 316L313.9 320.2L328.4 322.2L367 325.6L405.6 327.9L420.1 328.1L439.4 327.5L473.2 324L492.5 320.7L511.8 315.7L540.7 307L550.4 303.1L575.2 290.7L593.8 280.3L608.3 271.1L634.2 252.6M829.2 252.6L831.9 262.1L832.9 271.6L835.1 281.1L839.5 290.7L842.4 295.4L850.1 304.9L855.3 309.7L864.1 316L869.9 319.2L878.6 322.9L893 326.5L907.5 327.3L922 325.7L929.1 324L936.5 321.4L941.8 319.2L950.9 314.1L957.2 309.7L962.6 304.9L967.3 300.2L971.1 295.4L975.1 289.4L979.2 281.1L981 276.4L983.4 266.9L984.4 257.4L984.4 252.6M159.5 308L246.4 307.2L260.8 307.4L285 308.7L294.6 308L299.4 308.4L318.8 312.1L342.9 315.2L367 317.1L391.1 318L410.4 318L429.7 317.3L444.2 316.2L482.8 312L502.1 308.7L511.8 307.5L520.3 304.9L540.7 296.7L560 287L578.5 276.4L593.4 266.9L613.5 252.6M839 252.6L840.1 257.4L841.8 271.6L844.8 280.3L850.4 290.7L854 295.4L858.3 300.2L863.7 304.9L868.9 308.6L878.6 313.7L888.2 317L893 318.1L907.5 319L922 317.3L926.8 316.1L936.5 312.7L946.1 307.7L956.2 300.2L961.1 295.4L965.4 290.1L970.2 282.3L973 276.4L975.8 266.9L976.5 262.1L976.9 252.6M159.5 300L246.4 300.3L280.1 301.5L299.4 301.2L309.1 302.4L338.1 307.4L352.5 309.2L371.8 310.9L391.1 311.8L410.4 311.7L444.2 309.5L463.5 307.1L500.5 300.2L511.8 297.6L521.4 294.3L539.9 285.9L557 276.4L572.3 266.9L592.8 252.6M848.3 252.6L849.5 257.4L851.2 271.6L852.8 276.4L857.5 285.9L864.7 295.4L873.7 303.1L883.4 308.5L893 311.6L897.9 312.5L907.5 312.9L917.2 311.9L922 310.9L931.6 307.7L941.3 302.8L951 295.4L955.6 290.7L959.3 285.9L964.6 276.4L967.7 266.9L968.5 262.1L969.1 252.6M159.5 291.5L299.4 294.2L313.9 295.8L352.5 302.2L377.7 304.9L400.8 306.1L429.7 304.2L449.1 302.1L463.5 299.7L497.3 291.6L511.8 287L525.5 281.1L540.7 273L558.3 262.1L572.1 252.6M856.5 252.6L858.3 266.9L859.4 271.6L863.3 281.1L866.1 285.9L869.7 290.7L874.4 295.4L878.6 298.8L883.4 301.8L888.2 304.1L897.9 306.8L907.5 307.4L917.2 306.2L926.8 303.4L936.5 298.5L941.3 295.2L946.4 290.7L950.6 285.9L953.9 281.1L958.5 271.6L960.7 262.1L961.4 252.6M159.5 282.7L299.4 287L313.9 288.5L357.1 295.4L376.7 297.7L396 299.1L415.3 298.4L439.4 295.8L453.9 293.3L473.2 288.7L492.5 283L507 277.6L519.6 271.6L535.9 262.4L550.8 252.6M863.9 252.6L865.6 266.9L866.8 271.6L871.1 281.1L874.2 285.9L878.6 290.6L883.4 294.7L888.2 297.7L893 299.7L897.9 301L907.5 301.7L917.2 300.3L926.8 296.9L931.6 294.3L936.5 290.9L941.9 285.9L946.1 280.4L950.8 271.6L953.2 262.1L953.9 252.6M159.5 273.5L193.3 275.2L294.6 279L318.8 281.4L357.4 287.3L376.7 289.8L396 291L410.4 290.7L424.9 289.4L444.2 286.3L458.7 282.9L473.2 278.7L487.7 273.6L502.1 267.4L512.5 262.1L528.4 252.6M870.7 252.6L871.5 262.1L873.6 271.6L878.4 281.1L882.3 285.9L888.2 290.9L893 293.6L897.9 295.2L902.7 295.9L907.5 296L917.2 294.3L922 292.6L926.8 290.1L931.6 286.7L936.5 282.1L941.3 275.1L943.2 271.6L944.8 266.9L945.9 262.1L946.5 252.6M159.5 263.8L198.1 266.1L294.6 270.7L318.8 273.1L376.7 280.7L391.1 281.7L405.6 281.6L415.3 280.9L429.7 279L444.2 276.1L458.7 272.1L473.2 267.1L482.8 263.1L495.1 257.4L503.9 252.6M877.4 252.6L877.4 257.4L878.8 266.9L880.5 271.6L882.9 276.4L886.3 281.1L893 286.7L897.9 289.1L902.7 290.1L907.5 290.2L912.3 289.5L917.2 288.1L921.7 285.9L928.3 281.1L931.6 277.4L935.4 271.6L937.6 266.9L938.8 262.1L939.4 257.4L939.3 252.6" fill="none" stroke="#06602a" stroke-width="1.4" stroke-opacity="0.7"/>
<path d="M159.5 253.6L202.9 256.6L289.8 261.5L318.8 264.1L371.8 270.2L396 271.2L415.3 270L434.6 266.6L453.9 261.2L464.3 257.4L475.3 252.6M884.7 252.6L884.4 257.4L884.9 262.1L886.3 266.9L888.6 271.6L893 277.1L897.9 280.3L902.7 281.8L907.5 282L912.3 281.3L917.2 279.4L922 276.2L926.4 271.6L929.4 266.9L931.2 262.1L931.9 257.4L931.6 252.6M299.4 252.6L362.2 258.5L386.3 259.5L400.8 259L410.4 258.1L424.9 255.6L436.9 252.6M893.5 252.6L892.4 257.4L893 261.7L896 266.9L897.9 268.8L902.7 271.4L907.5 271.8L912.3 270.7L917.2 267.9L921.9 262.1L923 257.4L922.1 252.6" fill="none" stroke="#3a2c08" stroke-width="1.4" stroke-opacity="0.55"/>
<text class="cl" transform="translate(380,317.3) rotate(2)" text-anchor="middle" y="9.5" stroke="#66bb45">0.425</text>
<text class="cl" transform="translate(391.7,362.7) rotate(2)" text-anchor="middle" y="9.5" stroke="#1b8b88">0.325</text>
<text class="cl" transform="translate(423.3,427.3) rotate(0)" text-anchor="middle" y="9.5" stroke="#4356b3">0.225</text>
<text class="cl" transform="translate(666.7,403.3) rotate(-30)" text-anchor="middle" y="9.5" stroke="#4657b4">0.175</text>
<text class="cl" transform="translate(290,516.7) rotate(65)" text-anchor="middle" y="9.5" stroke="#5159b6">0.15</text>
<text class="cl" transform="translate(901.7,319.3) rotate(8)" text-anchor="middle" y="9.5" stroke="#5ab847">0.425</text>
<text class="cl" transform="translate(899.3,371.7) rotate(5)" text-anchor="middle" y="9.5" stroke="#1b8b88">0.3</text>
<text class="cl" transform="translate(915,570) rotate(-18)" text-anchor="middle" y="9.5" stroke="#5159b6">0.15</text>
<text class="cl" transform="translate(1206.7,525) rotate(55)" text-anchor="middle" y="9.5" stroke="#595bb8">0.1</text>
<text class="cl" transform="translate(1238.3,367.3) rotate(20)" text-anchor="middle" y="9.5" stroke="#6c62be">0.05</text>
<text class="cl" transform="translate(902.5,265) rotate(10)" text-anchor="middle" y="9.5" stroke="none">0.55</text>
<text class="cl" transform="translate(956.2,282.5) rotate(-68)" text-anchor="middle" y="9.5" stroke="none">0.45</text>
</g>
<path d="M162.9 307.4H1315.1" stroke="#0d0d0d" stroke-width="4.3" fill="none"/>
<path d="M738.7 308.9L843.2 255.9L1104.5 255.9L1184.8 308.9" stroke="#0d0d0d" stroke-width="4.2" fill="none" stroke-linejoin="miter"/>
<rect x="935.4" y="13.6" width="131.3" height="242.3" fill="#d2d5d5" stroke="#0d0d0d" stroke-width="3.6"/>
<text class="cai" transform="translate(1023.5,132.5) rotate(-90)" text-anchor="middle" textLength="194" lengthAdjust="spacingAndGlyphs">Caisson</text>
<path d="M143.8 677.3H160.4" stroke="#9c9c9c" stroke-width="2.8"/><path d="M152.6 640.4H160.4" stroke="#bdbdbd" stroke-width="1.8"/><path d="M152.6 603.4H160.4" stroke="#bdbdbd" stroke-width="1.8"/><path d="M152.6 566.5H160.4" stroke="#bdbdbd" stroke-width="1.8"/><path d="M152.6 529.6H160.4" stroke="#bdbdbd" stroke-width="1.8"/><path d="M143.8 492.6H160.4" stroke="#9c9c9c" stroke-width="2.8"/><path d="M152.6 455.7H160.4" stroke="#bdbdbd" stroke-width="1.8"/><path d="M152.6 418.8H160.4" stroke="#bdbdbd" stroke-width="1.8"/><path d="M152.6 381.9H160.4" stroke="#bdbdbd" stroke-width="1.8"/><path d="M152.6 344.9H160.4" stroke="#bdbdbd" stroke-width="1.8"/><path d="M143.8 308H160.4" stroke="#9c9c9c" stroke-width="2.8"/><path d="M152.6 271.1H160.4" stroke="#bdbdbd" stroke-width="1.8"/><path d="M152.6 234.1H160.4" stroke="#bdbdbd" stroke-width="1.8"/><path d="M152.6 197.2H160.4" stroke="#bdbdbd" stroke-width="1.8"/><path d="M152.6 160.3H160.4" stroke="#bdbdbd" stroke-width="1.8"/><path d="M143.8 123.3H160.4" stroke="#9c9c9c" stroke-width="2.8"/><path d="M152.6 86.4H160.4" stroke="#bdbdbd" stroke-width="1.8"/><path d="M152.6 49.5H160.4" stroke="#bdbdbd" stroke-width="1.8"/><path d="M152.6 12.6H160.4" stroke="#bdbdbd" stroke-width="1.8"/><path d="M172.7 689V704.5" stroke="#9c9c9c" stroke-width="2.8"/><path d="M210.4 689V696.5" stroke="#bdbdbd" stroke-width="1.8"/><path d="M248.2 689V696.5" stroke="#bdbdbd" stroke-width="1.8"/><path d="M285.9 689V696.5" stroke="#bdbdbd" stroke-width="1.8"/><path d="M323.6 689V696.5" stroke="#bdbdbd" stroke-width="1.8"/><path d="M361.3 689V704.5" stroke="#9c9c9c" stroke-width="2.8"/><path d="M399.1 689V696.5" stroke="#bdbdbd" stroke-width="1.8"/><path d="M436.8 689V696.5" stroke="#bdbdbd" stroke-width="1.8"/><path d="M474.5 689V696.5" stroke="#bdbdbd" stroke-width="1.8"/><path d="M512.2 689V696.5" stroke="#bdbdbd" stroke-width="1.8"/><path d="M550 689V704.5" stroke="#9c9c9c" stroke-width="2.8"/><path d="M587.7 689V696.5" stroke="#bdbdbd" stroke-width="1.8"/><path d="M625.4 689V696.5" stroke="#bdbdbd" stroke-width="1.8"/><path d="M663.2 689V696.5" stroke="#bdbdbd" stroke-width="1.8"/><path d="M700.9 689V696.5" stroke="#bdbdbd" stroke-width="1.8"/><path d="M738.6 689V704.5" stroke="#9c9c9c" stroke-width="2.8"/><path d="M776.3 689V696.5" stroke="#bdbdbd" stroke-width="1.8"/><path d="M814.1 689V696.5" stroke="#bdbdbd" stroke-width="1.8"/><path d="M851.8 689V696.5" stroke="#bdbdbd" stroke-width="1.8"/><path d="M889.5 689V696.5" stroke="#bdbdbd" stroke-width="1.8"/><path d="M927.2 689V704.5" stroke="#9c9c9c" stroke-width="2.8"/><path d="M965 689V696.5" stroke="#bdbdbd" stroke-width="1.8"/><path d="M1002.7 689V696.5" stroke="#bdbdbd" stroke-width="1.8"/><path d="M1040.4 689V696.5" stroke="#bdbdbd" stroke-width="1.8"/><path d="M1078.1 689V696.5" stroke="#bdbdbd" stroke-width="1.8"/><path d="M1115.9 689V704.5" stroke="#9c9c9c" stroke-width="2.8"/><path d="M1153.6 689V696.5" stroke="#bdbdbd" stroke-width="1.8"/><path d="M1191.3 689V696.5" stroke="#bdbdbd" stroke-width="1.8"/><path d="M1229.1 689V696.5" stroke="#bdbdbd" stroke-width="1.8"/><path d="M1266.8 689V696.5" stroke="#bdbdbd" stroke-width="1.8"/><path d="M1304.5 689V704.5" stroke="#9c9c9c" stroke-width="2.8"/>
<text class="tk" transform="translate(132.5,690.8) scale(0.94,1)" text-anchor="end">0</text>
<text class="tk" transform="translate(132.5,506.1) scale(0.94,1)" text-anchor="end">0.5</text>
<text class="tk" transform="translate(132.5,321.5) scale(0.94,1)" text-anchor="end">1</text>
<text class="tk" transform="translate(132.5,136.8) scale(0.94,1)" text-anchor="end">1.5</text>
<text class="tk" transform="translate(172.4,743.4) scale(0.94,1)" text-anchor="middle">22.5</text>
<text class="tk" transform="translate(361,743.4) scale(0.94,1)" text-anchor="middle">23</text>
<text class="tk" transform="translate(549.7,743.4) scale(0.94,1)" text-anchor="middle">23.5</text>
<text class="tk" transform="translate(738.3,743.4) scale(0.94,1)" text-anchor="middle">24</text>
<text class="tk" transform="translate(926.9,743.4) scale(0.94,1)" text-anchor="middle">24.5</text>
<text class="tk" transform="translate(1115.6,743.4) scale(0.94,1)" text-anchor="middle">25</text>
<text class="tk" transform="translate(1304.2,743.4) scale(0.94,1)" text-anchor="middle">25.5</text>
<text class="ax" x="737.6" y="830.9" text-anchor="middle">X(m)</text>
<text class="ax" transform="translate(42.5,346.2) rotate(-90)" text-anchor="middle">Z(m)</text>
<path d="M168.4 16.8H259.4" stroke="#3f50b2" stroke-width="2.9" fill="none"/><path d="M270.7 16.8L252.4 9.2L255.9 16.8L252.4 24.4Z" fill="#3f50b2"/>
<text class="wv" x="177" y="59.8" textLength="88.5" lengthAdjust="spacingAndGlyphs">Wave</text>
</g>
<g transform="translate(519,910.6)"><text class="cap" transform="translate(0,0) scale(0.70,1)">(a)</text><text class="capi" transform="translate(71.4,0) scale(1.1,1)">H</text><text class="caps" x="122.5" y="14.2">1<tspan style="font-size:50px" dy="3" dx="-2">/</tspan><tspan dy="-3" dx="-2">3</tspan></text><text class="cap" transform="translate(186,0) scale(0.755,1)">=5cm</text></g>
<g transform="translate(1417.8,0)">
<rect x="162.9" y="4.9" width="1152.2" height="681.5" fill="#fff" stroke="#0d0d0d" stroke-width="5.2"/>
<clipPath id="c1"><path d="M163.4 307.4L741.7 307.4L843.2 255.9L1104.5 255.9L1181.8 307.4L1312.6 307.4L1312.6 686L163.4 686Z"/></clipPath>
<g clip-path="url(#c1)">
<rect x="163.4" y="253.9" width="1149.2" height="434.1" fill="#8169c5"/>
<path d="M159.5 690.2L1317.7 690.2L1317.7 309.1L1303.2 306.6L1293.6 305.8L1250.2 306.5L1226 305.6L1197.1 303.1L1179 300.2L1171.2 295.4L1163.1 285.9L1139.2 261L1136.1 257.4L1133.5 252.6L159.5 252.6L159.5 690.2Z" fill="#7866c2"/>
<path d="M159.5 690.2L1317.7 690.2L1317.7 349.7L1283.9 345.1L1259.8 340.4L1240.5 335.3L1201.9 324L1163.3 314.1L1148.8 309.1L1141.5 304.9L1136.5 300.2L1134.3 296.9L1127.8 281.1L1122.4 271.6L1113.4 257.4L1112.4 252.6L159.5 252.6L159.5 690.2Z" fill="#6c62be"/>
<path d="M159.5 690.2L1317.7 690.2L1317.7 394.3L1264.6 378.4L1245.3 371.5L1226 363.6L1201.9 352.5L1168.1 335.5L1144 322.5L1129.5 313.7L1119.9 306L1114.6 300.2L1112.6 295.4L1110.9 285.9L1108.4 276.4L1100.5 257.8L1099.8 252.6L159.5 252.6L159.5 690.2Z" fill="#625ebb"/>
<path d="M159.5 690.2L1317.7 690.2L1317.7 445.7L1293.6 435L1279.1 427.8L1197.1 382.7L1182.6 374.1L1172.9 367.7L1163.3 360.7L1148.8 348.9L1129.5 331.7L1115 317.6L1105.4 307.1L1100.6 300.2L1099 295.4L1096.3 276.4L1090.9 259.6L1089.8 252.6L159.5 252.6L159.5 690.2Z" fill="#595bb8"/>
<path d="M159.5 690.2L1317.7 690.2L1317.7 596.5L1313.3 576.1L1312.2 561.8L1312.9 553.4L1314 547.5L1317.7 535.7L1317.7 508.9L1293.6 499.8L1279.1 493.1L1259.8 481.9L1240.5 468.9L1221.2 453.9L1206.7 441.2L1182.6 418.2L1163.3 398.2L1144 376.2L1124.7 351.6L1105.4 324.9L1092.2 304.9L1089.9 300.2L1088.5 295.4L1087.6 290.7L1086.4 276.4L1081.6 257.4L1081.2 252.6L159.5 252.6L159.5 690.2Z" fill="#5159b6"/>
<path d="M159.5 690.2L1288.4 690.2L1281.5 652.2L1278.2 637.9L1273.4 623.6L1267.2 609.4L1251.8 580.8L1223.1 533.3L1185.3 476.2L1139.2 409.6L1124.7 386.5L1115 369.6L1095.7 332.6L1086.1 312.5L1081.2 301.2L1079 290.7L1077.9 276.4L1074.8 262.1L1073.4 252.6L159.5 252.6L159.5 690.2Z" fill="#4b58b5"/>
<path d="M159.5 690.2L1246.6 690.2L1237 647.4L1233.1 633.1L1226.6 614.1L1216.5 590.3L1202.6 561.8L1187.4 533.3L1116.7 409.6L1105.4 387.1L1098.6 371.5L1086.1 339L1073 300.2L1071.3 290.7L1069.9 276.4L1067.2 262.1L1066 252.6L159.5 252.6L159.5 690.2Z" fill="#4657b4"/>
<path d="M159.5 690.2L1200.2 690.2L1184.1 628.4L1174.9 595.1L1164.3 561.8L1152.5 528.5L1139.9 495.2L1111.5 438.1L1100.5 415.3L1090.9 392.3L1086.1 378.7L1076.4 345.6L1065.1 300.2L1058.5 252.6L159.5 252.6L159.5 690.2Z" fill="#4356b3"/>
<path d="M159.5 690.2L1163.3 690.2L1146.1 623.6L1136.8 590.3L1127.7 561.8L1110.2 510.6L1100.5 480.2L1086.1 430.9L1075.2 390.6L1066.8 352.2L1058 304.9L1051.4 257.4L1051.2 252.6L159.5 252.6L159.5 690.2Z" fill="#4154b1"/>
<path d="M159.5 690.2L1125.1 690.2L1113.2 623.6L1106.7 590.3L1074.5 452.4L1062.5 395.3L1058.5 371.5L1053.9 338.2L1046.5 276.4L1044.4 262.1L1044 252.6L159.5 252.6L159.5 690.2Z" fill="#3f52ad"/>
<path d="M159.5 690.2L1090.1 690.2L1083.9 623.6L1079.4 585.6L1061.9 479.4L1053.2 423.8L1048.5 390.6L1044.7 352.5L1040.1 290.7L1037.1 262.1L1036.8 257.4L1037.3 252.6L159.5 252.6L159.5 690.2Z" fill="#0e6bb0"/>
<path d="M159.5 690.2L1058.3 690.2L1054.1 590.3L1050.2 523.7L1046.8 480.9L1044.3 457.1L1039.4 419.1L1036.3 385.8L1035.1 357.3L1033.6 295.4L1031 257.4L1031.6 252.6L159.5 252.6L159.5 690.2Z" fill="#1b8b88"/>
<path d="M159.5 690.2L1025 690.2L1022.8 566.6L1022.8 533.3L1023.2 490.4L1026.2 395.3L1028.3 304.9L1026.5 257.4L1027 252.6L159.5 252.6L159.5 690.2Z" fill="#12a15c"/>
<path d="M159.5 690.2L990.1 690.2L991.9 618.9L998.7 519L1001 500L1008.7 457.1L1013.6 423.8L1017.5 390.6L1019.6 366.8L1023.5 300.2L1022.7 262.1L1022.9 252.6L159.5 252.6L159.5 690.2Z" fill="#2cb04c"/>
<path d="M159.5 690.2L958.3 690.2L959.4 652.2L961.3 623.6L967.2 571.3L971.9 538L975.6 519L981.4 495.2L996.4 442.9L1001.4 423.8L1008.6 390.6L1012.3 366.8L1016 333.5L1018.7 300.2L1019 252.6L159.5 252.6L159.5 690.2Z" fill="#46b549"/>
<path d="M159.5 690.2L923.3 690.2L927.7 637.9L931.6 604.6L936.1 576.1L943.4 542.8L951.3 514.2L959.1 490.4L964.9 476.2L981.7 438.1L989.6 418.5L999.9 385.8L1005.6 362L1009.6 338.2L1013.5 304.9L1014.2 290.7L1015.1 252.6L159.5 252.6L159.5 690.2Z" fill="#5ab847"/>
<path d="M159.5 690.2L884.9 690.2L887.4 656.9L891.4 633.1L900.4 595.1L905.7 576.1L913.3 552.3L924.5 523.7L939.5 490.4L980.4 409.6L989.6 387.6L996.8 366.8L1000.7 352.5L1002.8 343L1005.4 328.7L1008.6 304.9L1009.4 295.4L1011 252.6L159.5 252.6L159.5 690.2Z" fill="#66bb45"/>
<path d="M159.5 690.2L840 690.2L841.9 652.2L843 642.7L845.7 628.4L850.8 609.4L861.1 576.1L869.3 552.3L875.2 538L877.6 533.3L883.5 523.7L893 510.4L919.1 471.4L946.1 435.4L960.6 415.3L970.2 401L979.9 384.2L989.9 362L994.4 349.8L998.8 333.5L1003.7 304.9L1004.6 295.4L1006.9 252.6L159.5 252.6L159.5 690.2Z" fill="#6fbd45"/>
<path d="M159.5 690.2L786.5 690.2L787.2 666.4L788.3 656.9L790.7 642.7L795 623.6L800.7 604.6L809.1 580.8L816.7 561.8L825.3 542.8L833.1 528.5L844.8 510.4L856.1 495.2L868.9 479.5L883.4 463.6L903.9 442.9L931.6 418.2L955.8 395.5L965.4 384.3L970.2 377.7L975.1 369.9L984.7 352.8L986.7 347.7L989.2 343L990.4 338.2L992.2 333.5L996 319.2L999 304.9L999.5 300.2L1002.7 252.6L159.5 252.6L159.5 690.2Z" fill="#7ac043"/>
<path d="M228.5 690.2L685.1 690.2L685 676L685.9 666.4L689.1 656.9L693.3 647.4L703.1 628.4L711.7 614.1L721.7 599.8L736.9 580.8L750.2 566.6L767.6 551.9L782 538.2L796.5 523.7L811 507.9L872.4 438.1L878.6 432.4L897.9 418.2L917.2 403L941.3 382.5L948 376.3L955.8 370.7L959.9 366.8L967.6 357.3L970.1 352.5L979.7 338.2L984.7 329.6L991.4 314.4L994.9 300.2L996 281.1L998.5 252.6L159.5 252.6L159.5 514.6L175.1 523.7L181.2 528.5L185.6 533.3L188.5 538L195.3 552.3L211.2 576.1L215.8 585.6L219.2 595.1L221.8 604.6L225 623.6L226.6 642.7L228.5 690.2Z" fill="#8cc63f"/>
<path d="M393.3 690.2L471.8 690.2L470.4 666.4L471.5 661.7L473.2 657.5L478 648.5L492.5 625.2L512.9 595.1L523.9 580.8L532 571.3L540.9 561.8L551 552.3L557.3 547.5L564.9 543.5L569.7 541.8L574.5 540.8L584.2 540.1L593.8 540.6L637.3 545.9L651.7 547.1L661.4 547L675.9 544.9L685.5 542.2L695.2 538.9L709.6 533L729 524.4L748.7 514.2L757.9 508.7L767.6 502L782 489.8L801.1 471.4L811.7 461.9L829.3 447.6L864.1 420.7L880 409.6L907.5 392.5L938.8 371.5L946.1 368.2L950.9 365.3L954.6 362L958.3 357.3L960.6 352L970.6 338.2L979.7 324L984.7 314.4L986.6 309.7L989.6 300.2L991.7 276.4L994.2 257.4L994.2 252.6L159.5 252.6L159.5 419.9L201.3 438.1L212.6 444.3L222.2 450.5L236.9 461.9L247.8 471.4L262.5 485.7L280.1 504.7L307.4 538L322 557L335.8 576.1L358.5 609.4L381.8 647.4L392 661.7L394.4 666.4L395 671.2L393.3 690.2Z" fill="#9ccb3c"/>
<path d="M594.2 485.7L608.3 488.9L618 489.8L627.6 489.6L642.1 487.5L695.2 473.1L724.1 463.8L762.7 450.7L782 443.4L801.3 434.7L873.7 395.6L884.9 390.6L917.2 377.3L936.5 366.5L945.9 362L950.4 357.3L956 347.7L961 343L967 333.5L972 324L980.8 304.9L983.8 295.4L984.7 290.7L989.6 258.8L989.8 252.6L159.5 252.6L159.5 370L193.3 379.3L212.6 385.3L226.9 390.6L265.7 406.5L285 413.8L313.9 423.2L347.7 432.7L386.3 442.2L413 447.6L434.6 450.7L473.2 454.9L487.7 457.2L502.1 460.1L550.4 471.9L594.2 485.7Z" fill="#b4d334"/>
<path d="M624.3 452.4L632.4 453.1L642.1 453.2L656.6 451.1L706 438.1L753.1 424.6L782 415.4L801.3 408.7L872.2 381L885.2 376.3L912.3 367.6L922 363.9L937.1 357.3L941.3 354.8L943.7 352.5L947.9 347.7L953.1 343L957 338.2L962.7 328.7L973.7 304.9L977.3 295.4L979.9 284.7L984.3 262.1L985 257.4L985 252.6L159.5 252.6L159.5 338.4L178.8 340.3L197.9 343L217.4 347.3L260.8 358L275.3 360.5L285 361.5L299.4 362.1L323.6 361.7L367 358.3L381.5 357.7L391.1 358.3L400.8 360L415.3 365L434.6 373.9L449.1 381.5L492.5 406.1L521.4 420.8L545.6 432L564.9 439.3L584.2 444.9L603.5 449.2L624.3 452.4Z" fill="#d6de2c"/>
<path d="M591.8 419.1L608.3 421.6L622.8 422.9L637.3 423.2L646.9 422.1L675.9 413.6L733.8 402.2L854.4 374.4L873.7 369.1L902.7 360.4L926.8 352L936.5 347.3L946.1 340.1L951.9 333.5L957.7 324L969.3 300.2L971 295.4L974.8 281.1L979 262.1L979.9 257.4L980 252.6L159.5 252.6L159.5 319.2L198.1 322.6L212.6 324.5L227.1 327.2L265.7 336.6L285 339.7L299.4 340.7L309.1 340.4L318.8 339.4L338.1 335.7L357.4 330L376.7 321.6L381.5 320.3L386.3 320.4L397.8 324L408.2 328.7L440.5 347.7L482.8 373.8L502.1 384.6L526.3 397L545.6 405.7L560 411.2L574.5 415.5L591.8 419.1Z" fill="#f0e620"/>
<path d="M608 400.1L627.6 401.4L637.3 401.6L646.9 401L656.6 399.8L724.1 386.6L786.9 372.5L801.3 370.4L835.1 367.1L859.3 363.4L873.7 360.2L897.9 353.7L912.3 349.2L922 345.7L931.6 341.2L936.5 338.2L941.3 334.3L946.4 328.7L952.7 319.2L960.6 304.2L964.3 295.4L969.8 276.4L974.3 257.4L974.5 252.6L159.5 252.6L159.5 296.9L198.1 302.4L212.6 305.1L222.2 307.6L240.9 314.4L256 318.3L270.5 320.2L285 321L309.1 320.7L328.4 318.7L342.9 315.3L376.7 304.2L381.5 303.6L386.3 304.2L391.1 306.2L404.3 314.4L434.6 330.4L482.8 357.7L500.5 366.8L526.3 378.7L545.6 386.5L564.9 392.7L584.2 396.9L608 400.1Z" fill="#f6e418"/>
<path d="M589.9 376.3L608.3 379.6L618 380.3L642.1 380L666.2 378.3L685.5 375.7L708.2 371.5L731.7 366.8L767.6 358.3L786.9 354.7L801.3 353.8L830.3 354.5L859.3 353.6L878.6 350.7L893 347.3L908.2 343L922 337.9L931.6 332.6L936.8 328.7L944.6 319.2L950.4 309.7L955.8 299.2L960 285.9L966.5 262.1L968.1 252.6L159.5 252.6L159.5 271.2L202.9 279.3L251.2 289.4L265.7 291.1L318.8 294.1L333.2 293.9L362.2 291.3L371.8 290.8L381.5 291.3L391.1 293.1L400.8 296.4L424.9 308.1L460.7 324L479.8 333.5L506.9 347.7L526.8 357.3L538.8 362L555.2 367.4L574.5 372.7L589.9 376.3Z" fill="#f7d21c"/>
<path d="M599.5 357.3L613.1 359.6L632.4 361.5L646.9 361.7L661.4 360.6L685.5 356.8L714.5 350.9L738.6 345.4L767.6 337.5L786.9 333.8L791.7 333.6L801.3 334.2L835.1 339.9L849.6 341.8L864.1 342.8L878.6 341.9L897.9 337.6L912.3 332.9L922 328.5L928.9 324L933.8 319.2L937.9 314.4L944.1 304.9L948.9 295.4L959.5 262.1L961.6 252.6L210 252.6L241.5 258.6L270.5 263.2L309.1 267.7L367 272.6L381.5 274.6L396 277.8L405.6 280.7L420.1 286.1L564.9 346.9L581.1 352.5L599.5 357.3Z" fill="#f4c21e"/>
<path d="M632.4 343L642.1 344.1L656.6 344.3L666.2 343.4L680.7 341.4L699.7 338.2L723.5 333.5L744 328.7L767.6 322.1L777.2 320.4L786.9 319.5L796.5 319.4L806.2 320.4L815.8 322.7L818.6 324L838.7 328.7L864.1 332.8L873.7 333.3L878.6 333L888.2 331.5L897.9 329.3L907.5 326.3L917.2 322.1L922.2 319.2L932.5 309.7L939.2 300.2L941.7 295.4L945.7 285.9L949 276.4L953.1 262.1L955.2 252.6L376.9 252.6L391.1 256L405.6 260.1L429.7 268.6L453.9 278.8L516.6 307.2L545.6 319.2L558.6 324L579.3 330.5L598.7 335.7L618 340.3L632.4 343Z" fill="#f5ad22"/>
<path d="M616.6 324L632.4 326.2L642.1 326.5L651.7 326.2L666.2 324.6L680.7 322.1L690.3 319.8L709.6 313.4L723.5 309.7L729 305.8L733.8 296.6L738.6 290.4L743.4 285.7L748.3 282L753.1 279.1L762.7 275.2L772.4 273.5L777.2 273.4L782 274L786.9 275.2L791.7 277.2L801.3 283.6L809.7 290.7L816.6 295.4L825.5 302.6L830.6 304.9L839.9 312.1L845.4 314.4L849.6 316.9L864.1 321.7L873.7 323.3L883.4 323.9L897.9 322.6L902.7 321.4L912.3 317.7L917.2 314.6L926.8 307.1L932.5 300.2L936 295.4L940.7 285.9L944.1 276.4L945.5 271.6L946.3 266.9L947.9 262.1L949.3 252.6L452 252.6L478 264.8L529.8 290.7L561 304.9L584.2 314.4L593.8 317.9L603.5 320.8L616.6 324Z" fill="#f49d22"/>
<path d="M861.7 314.4L873.7 317.2L883.4 318.4L893 318.3L897.9 317.8L902.7 316.8L909.3 314.4L912.3 312.7L922 305.8L926.1 300.2L931 295.4L933.3 290.7L936.2 285.9L941.5 271.6L943.5 262.1L944.4 252.6L792.9 252.6L801.3 257.3L806.2 261L811 266L813.7 271.6L816 281.1L818.7 285.9L822.1 290.7L830.3 298.1L832.9 300.2L839.9 304.2L844.8 307.5L849.6 310L861.7 314.4ZM618.5 300.2L632.4 301.8L646.9 301.1L656.6 299.3L671 294.8L680 290.7L687.7 285.9L695.2 279.9L708.6 266.9L714.2 262.1L720.8 257.4L729.1 252.6L516.4 252.6L551.4 271.6L579.6 285.9L602 295.4L618.5 300.2Z" fill="#f58d22"/>
<path d="M865.8 309.7L873.7 311.7L883.4 313.4L893 313.8L897.9 313.4L902.7 312.4L907.5 310.6L917.1 304.9L926.2 295.4L932 285.9L936.2 276.4L937.6 271.6L940.1 257.4L939.8 252.6L819.9 252.6L825.5 262.1L826.9 266.9L828.4 276.4L830.3 281.1L832.8 285.9L836.3 290.7L840.9 295.4L849.6 301.9L854.5 304.9L865.8 309.7Z" fill="#f47d23"/>
<path d="M871.8 304.9L883.4 307.9L893 308.6L897.9 308.3L902.7 307.1L907.5 305.4L912.3 302.7L917.2 299L922 294.3L926.8 288L932.4 276.4L934.4 266.9L935.5 257.4L934.5 252.6L835.3 252.6L837.9 262.1L839.1 271.6L840.5 276.4L845.5 285.9L849.7 290.7L854.4 295.1L859.3 298.7L864.1 301.6L871.8 304.9Z" fill="#f27024"/>
<path d="M877 300.2L883.4 302L888.2 302.7L897.9 302.4L902.7 301.2L912.3 296.8L922 288.5L924 285.9L925.6 281.1L928.5 276.4L929 271.6L929.2 257.4L926.8 252.7L849.9 252.6L848.6 257.4L849 262.1L848.2 271.6L849.3 276.4L851.9 281.1L853.5 285.9L865.6 295.4L868.9 297.4L877 300.2Z" fill="#ef6626"/>
<path d="M878.4 295.4L888.2 297L893 297.1L902.7 295.7L907.5 293.6L918.4 285.9L920.2 281.1L923.1 276.4L922.8 271.6L922 269.4L917.2 262.1L912.3 259.7L907.5 258.9L897.9 257.5L888.2 257.1L883.4 257.3L873.7 259L868.9 260.4L864.1 262.7L859.7 266.9L856.9 271.6L856.5 276.4L861.8 285.9L873.7 293.7L878.4 295.4Z" fill="#ee5d27"/>
<path d="M880.2 285.9L888.2 287.3L893 287.7L897.9 287L902.7 285.3L907.5 283L910 281.1L912.3 277.6L912.9 276.4L911.6 271.6L905.2 266.9L897.9 265.2L888.2 264.4L883.4 264.8L875.7 266.9L868.5 271.6L867.6 276.4L870.7 281.1L873.7 283.2L880.2 285.9Z" fill="#ec5328"/>
<path d="M1317.7 309.1L1303.2 306.6L1293.6 305.8L1250.2 306.5L1226 305.6L1197.1 303.1L1179 300.2L1171.2 295.4L1163.1 285.9L1139.2 261L1136.1 257.4L1133.5 252.6M1317.7 349.7L1283.9 345.1L1259.8 340.4L1240.5 335.3L1201.9 324L1163.3 314.1L1148.8 309.1L1141.5 304.9L1136.5 300.2L1134.3 296.9L1127.8 281.1L1122.4 271.6L1113.4 257.4L1112.4 252.6M1317.7 394.3L1264.6 378.4L1245.3 371.5L1226 363.6L1201.9 352.5L1168.1 335.5L1144 322.5L1129.5 313.7L1119.9 306L1114.6 300.2L1112.6 295.4L1110.9 285.9L1108.4 276.4L1100.5 257.8L1099.8 252.6M1317.7 445.7L1293.6 435L1279.1 427.8L1197.1 382.7L1182.6 374.1L1172.9 367.7L1163.3 360.7L1148.8 348.9L1129.5 331.7L1115 317.6L1105.4 307.1L1100.6 300.2L1099 295.4L1096.3 276.4L1090.9 259.6L1089.8 252.6M1317.7 596.5L1313.3 576.1L1312.2 561.8L1312.9 553.4L1314 547.5L1317.7 535.7M1317.7 508.9L1293.6 499.8L1279.1 493.1L1259.8 481.9L1240.5 468.9L1221.2 453.9L1206.7 441.2L1182.6 418.2L1163.3 398.2L1144 376.2L1124.7 351.6L1105.4 324.9L1092.2 304.9L1089.9 300.2L1088.5 295.4L1087.6 290.7L1086.4 276.4L1081.6 257.4L1081.2 252.6M1288.4 690.2L1281.5 652.2L1278.2 637.9L1273.4 623.6L1267.2 609.4L1251.8 580.8L1223.1 533.3L1185.3 476.2L1139.2 409.6L1124.7 386.5L1115 369.6L1095.7 332.6L1086.1 312.5L1081.2 301.2L1079 290.7L1077.9 276.4L1074.8 262.1L1073.4 252.6M1246.6 690.2L1237 647.4L1233.1 633.1L1226.6 614.1L1216.5 590.3L1202.6 561.8L1187.4 533.3L1116.7 409.6L1105.4 387.1L1098.6 371.5L1086.1 339L1073 300.2L1071.3 290.7L1069.9 276.4L1067.2 262.1L1066 252.6M1200.2 690.2L1184.1 628.4L1174.9 595.1L1164.3 561.8L1152.5 528.5L1139.9 495.2L1111.5 438.1L1100.5 415.3L1090.9 392.3L1086.1 378.7L1076.4 345.6L1065.1 300.2L1058.5 252.6M1163.3 690.2L1146.1 623.6L1136.8 590.3L1127.7 561.8L1110.2 510.6L1100.5 480.2L1086.1 430.9L1075.2 390.6L1066.8 352.2L1058 304.9L1051.4 257.4L1051.2 252.6M1125.1 690.2L1113.2 623.6L1106.7 590.3L1074.5 452.4L1062.5 395.3L1058.5 371.5L1053.9 338.2L1046.5 276.4L1044.4 262.1L1044 252.6M1090.1 690.2L1083.9 623.6L1079.4 585.6L1061.9 479.4L1053.2 423.8L1048.5 390.6L1044.7 352.5L1040.1 290.7L1037.1 262.1L1036.8 257.4L1037.3 252.6" fill="none" stroke="#181a7c" stroke-width="1.3" stroke-opacity="0.75"/>
<path d="M1058.3 690.2L1054.1 590.3L1050.2 523.7L1046.8 480.9L1044.3 457.1L1039.4 419.1L1036.3 385.8L1035.1 357.3L1033.6 295.4L1031 257.4L1031.6 252.6M1025 690.2L1022.8 566.6L1022.8 533.3L1023.2 490.4L1026.2 395.3L1028.3 304.9L1026.5 257.4L1027 252.6M990.1 690.2L991.9 618.9L998.7 519L1001 500L1008.7 457.1L1013.6 423.8L1017.5 390.6L1019.6 366.8L1023.5 300.2L1022.7 262.1L1022.9 252.6M958.3 690.2L959.4 652.2L961.3 623.6L967.2 571.3L971.9 538L975.6 519L981.4 495.2L996.4 442.9L1001.4 423.8L1008.6 390.6L1012.3 366.8L1016 333.5L1018.7 300.2L1019 252.6M923.3 690.2L927.7 637.9L931.6 604.6L936.1 576.1L943.4 542.8L951.3 514.2L959.1 490.4L964.9 476.2L981.7 438.1L989.6 418.5L999.9 385.8L1005.6 362L1009.6 338.2L1013.5 304.9L1014.2 290.7L1015.1 252.6M884.9 690.2L887.4 656.9L891.4 633.1L900.4 595.1L905.7 576.1L913.3 552.3L924.5 523.7L939.5 490.4L980.4 409.6L989.6 387.6L996.8 366.8L1000.7 352.5L1002.8 343L1005.4 328.7L1008.6 304.9L1009.4 295.4L1011 252.6M840 690.2L841.9 652.2L843 642.7L845.7 628.4L850.8 609.4L861.1 576.1L869.3 552.3L875.2 538L877.6 533.3L883.5 523.7L893 510.4L919.1 471.4L946.1 435.4L960.6 415.3L970.2 401L979.9 384.2L989.9 362L994.4 349.8L998.8 333.5L1003.7 304.9L1004.6 295.4L1006.9 252.6M786.5 690.2L787.2 666.4L788.3 656.9L790.7 642.7L795 623.6L800.7 604.6L809.1 580.8L816.7 561.8L825.3 542.8L833.1 528.5L844.8 510.4L856.1 495.2L868.9 479.5L883.4 463.6L903.9 442.9L931.6 418.2L955.8 395.5L965.4 384.3L970.2 377.7L975.1 369.9L984.7 352.8L986.7 347.7L989.2 343L990.4 338.2L992.2 333.5L996 319.2L999 304.9L999.5 300.2L1002.7 252.6M685.1 690.2L685 676L685.9 666.4L689.1 656.9L693.3 647.4L703.1 628.4L711.7 614.1L721.7 599.8L736.9 580.8L750.2 566.6L767.6 551.9L782 538.2L796.5 523.7L811 507.9L872.4 438.1L878.6 432.4L897.9 418.2L917.2 403L941.3 382.5L948 376.3L955.8 370.7L959.9 366.8L967.6 357.3L970.1 352.5L979.7 338.2L984.7 329.6L991.4 314.4L994.9 300.2L996 281.1L998.5 252.6M159.5 514.6L175.1 523.7L181.2 528.5L185.6 533.3L188.5 538L195.3 552.3L211.2 576.1L215.8 585.6L219.2 595.1L221.8 604.6L225 623.6L226.6 642.7L228.5 690.2M471.8 690.2L470.4 666.4L471.5 661.7L473.2 657.5L478 648.5L502.1 610.5L520.1 585.6L532 571.3L540.9 561.8L551 552.3L557.3 547.5L564.9 543.5L569.7 541.8L574.5 540.8L584.2 540.1L593.8 540.6L646.9 546.9L656.6 547.2L666.2 546.6L675.9 544.9L690.3 540.6L709.6 533L729 524.4L739.9 519L753.1 511.6L762.7 505.5L770.2 500L782 489.8L801.1 471.4L811.7 461.9L829.3 447.6L866.2 419.1L880 409.6L907.5 392.5L938.8 371.5L946.1 368.2L950.9 365.3L954.6 362L958.3 357.3L960.3 352.5L973.8 333.5L979.7 324L984.7 314.4L986.6 309.7L989.6 300.2L991.7 276.4L994.2 257.4L994.2 252.6M159.5 419.9L201.3 438.1L212.6 444.3L222.2 450.5L236.9 461.9L247.8 471.4L262.5 485.7L280.1 504.7L307.4 538L322 557L335.8 576.1L358.5 609.4L381.8 647.4L392 661.7L394.4 666.4L395 671.2L393.3 690.2M159.5 370L193.3 379.3L214 385.8L231.9 392.5L275.3 410.3L299.4 418.7L333.2 428.8L367 437.7L391.1 443.3L415.3 448L434.6 450.7L473.2 454.9L487.7 457.2L502.1 460.1L550.4 471.9L589 484.2L603.5 488L613.1 489.5L618 489.8L632.4 489.2L642.1 487.5L651.7 485.2L695.2 473.1L748.3 455.7L782 443.4L806.2 432.3L864.9 400.1L874.3 395.3L917.2 377.3L936.5 366.5L945.9 362L950.4 357.3L956 347.7L961 343L967 333.5L972 324L980.8 304.9L983.8 295.4L984.7 290.7L989.6 258.8L989.8 252.6" fill="none" stroke="#06602a" stroke-width="1.4" stroke-opacity="0.7"/>
<path d="M159.5 338.4L178.8 340.3L197.9 343L217.4 347.3L260.8 358L275.3 360.5L285 361.5L299.4 362.1L323.6 361.7L367 358.3L381.5 357.7L391.1 358.3L400.8 360L415.3 365L434.6 373.9L449.1 381.5L482.8 400.8L502.1 411.1L531.1 425.5L555.2 435.9L579.3 443.7L603.5 449.2L627.6 452.8L637.3 453.3L646.9 452.8L661.4 449.9L706 438.1L739.6 428.6L782 415.4L811 405.1L872.2 381L885.2 376.3L912.3 367.6L936.5 357.6L941.3 354.8L946.1 350.1L947.9 347.7L953.1 343L957 338.2L962.7 328.7L973.7 304.9L977.3 295.4L979.9 284.7L984.3 262.1L985 257.4L985 252.6M159.5 319.2L198.1 322.6L212.6 324.5L227.1 327.2L265.7 336.6L285 339.7L299.4 340.7L309.1 340.4L318.8 339.4L338.1 335.7L357.4 330L376.7 321.6L381.5 320.3L386.3 320.4L397.8 324L408.2 328.7L440.5 347.7L473.2 368L492.5 379.3L526.3 397L550.4 407.7L564.9 412.7L574.5 415.5L593.8 419.5L608.3 421.6L622.8 422.9L632.4 423.3L642.1 422.8L651.7 420.9L675.9 413.6L733.8 402.2L854.4 374.4L873.7 369.1L907.5 358.9L922 353.9L931.6 349.9L941.3 344L948 338.2L950.9 334.8L955.1 328.7L960.2 319.2L969.3 300.2L971 295.4L974.8 281.1L979 262.1L979.9 257.4L980 252.6M159.5 296.9L198.1 302.4L212.6 305.1L222.2 307.6L240.9 314.4L256 318.3L270.5 320.2L285 321L309.1 320.7L328.4 318.7L342.9 315.3L376.7 304.2L381.5 303.6L386.3 304.2L391.1 306.2L404.3 314.4L434.6 330.4L473.4 352.5L491.1 362L521.4 376.6L543.7 385.8L555.2 389.9L564.9 392.7L574.5 395.1L589 397.7L603.5 399.6L618 400.9L632.4 401.6L642.1 401.4L656.6 399.8L704.8 390.5L733.8 384.5L772.4 375.4L786.9 372.5L801.3 370.4L835.1 367.1L859.3 363.4L873.7 360.2L897.9 353.7L912.3 349.2L926.8 343.7L936.5 338.2L941.3 334.3L946.1 329.1L952.7 319.2L960.2 304.9L964.3 295.4L968.5 281.1L974.3 257.4L974.5 252.6M159.5 271.2L202.9 279.3L246.4 288.6L260.8 290.7L318.8 294.1L333.2 293.9L362.2 291.3L371.8 290.8L381.5 291.3L391.1 293.1L400.8 296.4L424.9 308.1L460.7 324L516.4 352.5L526.8 357.3L540.7 362.7L555.2 367.4L569.7 371.5L598.7 378.1L613.1 380.1L637.3 380.1L661.4 378.8L685.5 375.7L729 367.3L767.6 358.3L786.9 354.7L801.3 353.8L825.5 354.5L849.6 354.1L859.3 353.6L868.9 352.5L893 347.3L907.5 343.2L921.3 338.2L930.3 333.5L936.8 328.7L944.6 319.2L950.4 309.7L955.4 300.2L958.6 290.7L966.5 262.1L968.1 252.6M210 252.6L241.5 258.6L270.5 263.2L309.1 267.7L367 272.6L381.5 274.6L396 277.8L405.6 280.7L420.1 286.1L550.4 341.1L574.5 350.4L589 354.8L608.3 358.9L627.6 361.2L642.1 361.8L661.4 360.6L695.2 355L733.8 346.5L772.4 336.3L786.9 333.8L791.7 333.6L801.3 334.2L835.1 339.9L849.6 341.8L864.1 342.8L873.7 342.4L883.4 341.1L897.9 337.6L907.5 334.6L917.2 330.9L926.8 325.6L931.6 321.5L936.5 316.3L941.1 309.7L944.1 304.9L948.9 295.4L959.5 262.1L961.6 252.6M376.9 252.6L391.1 256L405.6 260.1L429.7 268.6L453.9 278.8L516.6 307.2L545.6 319.2L560 324.5L584.2 331.9L618 340.3L637.3 343.7L651.7 344.4L661.4 343.9L671 342.8L699.7 338.2L723.5 333.5L743.4 328.9L767.6 322.1L782 319.8L796.5 319.4L806.2 320.4L815.8 322.7L818.6 324L838.7 328.7L864.1 332.8L873.7 333.3L878.6 333L893 330.5L902.7 327.9L917.2 322.1L922 319.3L931.6 310.7L936.5 304.1L941.7 295.4L945.7 285.9L949 276.4L953.1 262.1L955.2 252.6M452 252.6L478 264.8L539.7 295.4L561 304.9L584.2 314.4L598.7 319.5L616.6 324L632.4 326.2L642.1 326.5L661.4 325.2L680.7 322.1L692.4 319.2L709.6 313.4L724.1 309.4L729 305.8L733.8 296.6L738.4 290.7L743.4 285.7L748.3 282L753.1 279.1L759.1 276.4L767.6 274.1L772.4 273.5L782 274L786.9 275.2L791.7 277.2L801.3 283.6L809.7 290.7L816.6 295.4L825.5 302.6L830.6 304.9L839.9 312.1L845.4 314.4L849.6 316.9L864.1 321.7L868.9 322.7L878.6 323.8L888.2 323.7L897.9 322.6L902.7 321.4L912.3 317.7L923.8 309.7L928.7 304.9L936 295.4L940.7 285.9L944.1 276.4L945.5 271.6L946.3 266.9L947.9 262.1L949.3 252.6M516.4 252.6L560.4 276.4L579.6 285.9L593.8 292.2L603.5 295.9L618 300.1L627.6 301.5L637.3 301.9L646.9 301.1L656.6 299.3L669.4 295.4L680 290.7L687.7 285.9L693.7 281.1L708.6 266.9L714.5 261.9L720.8 257.4L729.1 252.6M792.9 252.6L801.3 257.3L806.2 261L811 266L813.7 271.6L816 281.1L818.7 285.9L822.1 290.7L832.9 300.2L849 309.7L859.3 313.7L873.7 317.2L883.4 318.4L888.2 318.5L897.9 317.8L907.5 315.3L912.3 312.7L922.9 304.9L926.1 300.2L931 295.4L933.3 290.7L936.2 285.9L941.5 271.6L943.5 262.1L944.4 252.6M819.9 252.6L825.5 262.1L826.9 266.9L828.4 276.4L830.3 281.1L832.8 285.9L836.3 290.7L840.9 295.4L847 300.2L854.4 304.9L865.8 309.7L873.7 311.7L883.4 313.4L893 313.8L902.7 312.4L907.5 310.6L912.3 308L917.2 304.8L926.8 294.6L932 285.9L936.2 276.4L937.6 271.6L939.4 262.1L940.1 257.4L939.8 252.6M835.3 252.6L837.9 262.1L839.1 271.6L840.5 276.4L845.5 285.9L849.7 290.7L854.4 295.1L859.3 298.7L868.9 303.8L873.7 305.6L883.4 307.9L893 308.6L897.9 308.3L902.7 307.1L908.4 304.9L912.3 302.7L917.2 299L922 294.3L924.9 290.7L928.1 285.9L932.4 276.4L934.4 266.9L935.5 257.4L934.5 252.6M849.9 252.6L848.6 257.4L849 262.1L848.2 271.6L849.3 276.4L851.9 281.1L853.5 285.9L865.6 295.4L868.9 297.4L883.4 302L893 302.8L897.9 302.4L902.7 301.2L912.3 296.8L922 288.5L924 285.9L925.6 281.1L928.5 276.4L929 271.6L929.2 257.4L926.8 252.6M878.4 295.4L888.2 297L893 297.1L902.7 295.7L907.5 293.6L918.4 285.9L920.2 281.1L923.1 276.4L922.8 271.6L922 269.4L917.2 262.1L912.3 259.7L907.5 258.9L897.9 257.5L888.2 257.1L883.4 257.3L873.7 259L868.9 260.4L864.1 262.7L859.7 266.9L856.9 271.6L856.5 276.4L861.8 285.9L873.7 293.7L878.4 295.4M880.2 285.9L888.2 287.3L893 287.7L897.9 287L902.7 285.3L907.5 283L910 281.1L912.3 277.6L912.9 276.4L911.6 271.6L905.2 266.9L897.9 265.2L888.2 264.4L883.4 264.8L875.7 266.9L868.5 271.6L867.6 276.4L870.7 281.1L873.7 283.2L880.2 285.9" fill="none" stroke="#3a2c08" stroke-width="1.4" stroke-opacity="0.55"/>
<text class="cl" transform="translate(286.7,321.3) rotate(3)" text-anchor="middle" y="9.5" stroke="#f0e620">0.625</text>
<text class="cl" transform="translate(271.7,360.7) rotate(8)" text-anchor="middle" y="9.5" stroke="#b4d334">0.575</text>
<text class="cl" transform="translate(638.3,326.7) rotate(3)" text-anchor="middle" y="9.5" stroke="#f5ad22">0.725</text>
<text class="cl" transform="translate(635,380) rotate(3)" text-anchor="middle" y="9.5" stroke="#f7d21c">0.65</text>
<text class="cl" transform="translate(485,456.7) rotate(8)" text-anchor="middle" y="9.5" stroke="#b4d334">0.55</text>
<text class="cl" transform="translate(196.7,555) rotate(60)" text-anchor="middle" y="9.5" stroke="#7ac043">0.5</text>
<text class="cl" transform="translate(878.3,316.7) rotate(5)" text-anchor="middle" y="9.5" stroke="#f58d22">0.725</text>
<text class="cl" transform="translate(871.7,368.3) rotate(5)" text-anchor="middle" y="9.5" stroke="#f0e620">0.6</text>
<text class="cl" transform="translate(893.3,421.7) rotate(-40)" text-anchor="middle" y="9.5" stroke="#7ac043">0.5</text>
<text class="cl" transform="translate(965,460) rotate(-65)" text-anchor="middle" y="9.5" stroke="#5ab847">0.4</text>
<text class="cl" transform="translate(1045,475) rotate(85)" text-anchor="middle" y="9.5" stroke="#1b8b88">0.3</text>
<text class="cl" transform="translate(1143.3,471.7) rotate(65)" text-anchor="middle" y="9.5" stroke="#4657b4">0.2</text>
<text class="cl" transform="translate(1235,403.3) rotate(35)" text-anchor="middle" y="9.5" stroke="#625ebb">0.1</text>
<text class="cl" transform="translate(1265,341.7) rotate(15)" text-anchor="middle" y="9.5" stroke="#6c62be">0.05</text>
<text class="cl" transform="translate(875,538.3) rotate(-62)" text-anchor="middle" y="9.5" stroke="#6fbd45">0.45</text>
<text class="cl" transform="translate(892.5,263.8) rotate(3)" text-anchor="middle" y="9.5" stroke="none">0.825</text>
<text class="cl" transform="translate(945,282.5) rotate(-70)" text-anchor="middle" y="9.5" stroke="none">0.7</text>
</g>
<path d="M162.9 307.4H1315.1" stroke="#0d0d0d" stroke-width="4.3" fill="none"/>
<path d="M738.7 308.9L843.2 255.9L1104.5 255.9L1184.8 308.9" stroke="#0d0d0d" stroke-width="4.2" fill="none" stroke-linejoin="miter"/>
<rect x="935.4" y="13.6" width="131.3" height="242.3" fill="#d2d5d5" stroke="#0d0d0d" stroke-width="3.6"/>
<text class="cai" transform="translate(1023.5,132.5) rotate(-90)" text-anchor="middle" textLength="194" lengthAdjust="spacingAndGlyphs">Caisson</text>
<path d="M143.8 677.3H160.4" stroke="#9c9c9c" stroke-width="2.8"/><path d="M152.6 640.4H160.4" stroke="#bdbdbd" stroke-width="1.8"/><path d="M152.6 603.4H160.4" stroke="#bdbdbd" stroke-width="1.8"/><path d="M152.6 566.5H160.4" stroke="#bdbdbd" stroke-width="1.8"/><path d="M152.6 529.6H160.4" stroke="#bdbdbd" stroke-width="1.8"/><path d="M143.8 492.6H160.4" stroke="#9c9c9c" stroke-width="2.8"/><path d="M152.6 455.7H160.4" stroke="#bdbdbd" stroke-width="1.8"/><path d="M152.6 418.8H160.4" stroke="#bdbdbd" stroke-width="1.8"/><path d="M152.6 381.9H160.4" stroke="#bdbdbd" stroke-width="1.8"/><path d="M152.6 344.9H160.4" stroke="#bdbdbd" stroke-width="1.8"/><path d="M143.8 308H160.4" stroke="#9c9c9c" stroke-width="2.8"/><path d="M152.6 271.1H160.4" stroke="#bdbdbd" stroke-width="1.8"/><path d="M152.6 234.1H160.4" stroke="#bdbdbd" stroke-width="1.8"/><path d="M152.6 197.2H160.4" stroke="#bdbdbd" stroke-width="1.8"/><path d="M152.6 160.3H160.4" stroke="#bdbdbd" stroke-width="1.8"/><path d="M143.8 123.3H160.4" stroke="#9c9c9c" stroke-width="2.8"/><path d="M152.6 86.4H160.4" stroke="#bdbdbd" stroke-width="1.8"/><path d="M152.6 49.5H160.4" stroke="#bdbdbd" stroke-width="1.8"/><path d="M152.6 12.6H160.4" stroke="#bdbdbd" stroke-width="1.8"/><path d="M172.7 689V704.5" stroke="#9c9c9c" stroke-width="2.8"/><path d="M210.4 689V696.5" stroke="#bdbdbd" stroke-width="1.8"/><path d="M248.2 689V696.5" stroke="#bdbdbd" stroke-width="1.8"/><path d="M285.9 689V696.5" stroke="#bdbdbd" stroke-width="1.8"/><path d="M323.6 689V696.5" stroke="#bdbdbd" stroke-width="1.8"/><path d="M361.3 689V704.5" stroke="#9c9c9c" stroke-width="2.8"/><path d="M399.1 689V696.5" stroke="#bdbdbd" stroke-width="1.8"/><path d="M436.8 689V696.5" stroke="#bdbdbd" stroke-width="1.8"/><path d="M474.5 689V696.5" stroke="#bdbdbd" stroke-width="1.8"/><path d="M512.2 689V696.5" stroke="#bdbdbd" stroke-width="1.8"/><path d="M550 689V704.5" stroke="#9c9c9c" stroke-width="2.8"/><path d="M587.7 689V696.5" stroke="#bdbdbd" stroke-width="1.8"/><path d="M625.4 689V696.5" stroke="#bdbdbd" stroke-width="1.8"/><path d="M663.2 689V696.5" stroke="#bdbdbd" stroke-width="1.8"/><path d="M700.9 689V696.5" stroke="#bdbdbd" stroke-width="1.8"/><path d="M738.6 689V704.5" stroke="#9c9c9c" stroke-width="2.8"/><path d="M776.3 689V696.5" stroke="#bdbdbd" stroke-width="1.8"/><path d="M814.1 689V696.5" stroke="#bdbdbd" stroke-width="1.8"/><path d="M851.8 689V696.5" stroke="#bdbdbd" stroke-width="1.8"/><path d="M889.5 689V696.5" stroke="#bdbdbd" stroke-width="1.8"/><path d="M927.2 689V704.5" stroke="#9c9c9c" stroke-width="2.8"/><path d="M965 689V696.5" stroke="#bdbdbd" stroke-width="1.8"/><path d="M1002.7 689V696.5" stroke="#bdbdbd" stroke-width="1.8"/><path d="M1040.4 689V696.5" stroke="#bdbdbd" stroke-width="1.8"/><path d="M1078.1 689V696.5" stroke="#bdbdbd" stroke-width="1.8"/><path d="M1115.9 689V704.5" stroke="#9c9c9c" stroke-width="2.8"/><path d="M1153.6 689V696.5" stroke="#bdbdbd" stroke-width="1.8"/><path d="M1191.3 689V696.5" stroke="#bdbdbd" stroke-width="1.8"/><path d="M1229.1 689V696.5" stroke="#bdbdbd" stroke-width="1.8"/><path d="M1266.8 689V696.5" stroke="#bdbdbd" stroke-width="1.8"/><path d="M1304.5 689V704.5" stroke="#9c9c9c" stroke-width="2.8"/>
<text class="tk" transform="translate(132.5,690.8) scale(0.94,1)" text-anchor="end">0</text>
<text class="tk" transform="translate(132.5,506.1) scale(0.94,1)" text-anchor="end">0.5</text>
<text class="tk" transform="translate(132.5,321.5) scale(0.94,1)" text-anchor="end">1</text>
<text class="tk" transform="translate(132.5,136.8) scale(0.94,1)" text-anchor="end">1.5</text>
<text class="tk" transform="translate(172.4,743.4) scale(0.94,1)" text-anchor="middle">22.5</text>
<text class="tk" transform="translate(361,743.4) scale(0.94,1)" text-anchor="middle">23</text>
<text class="tk" transform="translate(549.7,743.4) scale(0.94,1)" text-anchor="middle">23.5</text>
<text class="tk" transform="translate(738.3,743.4) scale(0.94,1)" text-anchor="middle">24</text>
<text class="tk" transform="translate(926.9,743.4) scale(0.94,1)" text-anchor="middle">24.5</text>
<text class="tk" transform="translate(1115.6,743.4) scale(0.94,1)" text-anchor="middle">25</text>
<text class="tk" transform="translate(1304.2,743.4) scale(0.94,1)" text-anchor="middle">25.5</text>
<text class="ax" x="737.6" y="830.9" text-anchor="middle">X(m)</text>
<text class="ax" transform="translate(42.5,346.2) rotate(-90)" text-anchor="middle">Z(m)</text>
<path d="M164 16.8H255" stroke="#3f50b2" stroke-width="2.9" fill="none"/><path d="M266.3 16.8L248 9.2L251.5 16.8L248 24.4Z" fill="#3f50b2"/>
<text class="wv" x="172.6" y="59.8" textLength="88.5" lengthAdjust="spacingAndGlyphs">Wave</text>
</g>
<g transform="translate(1936.8,910.6)"><text class="cap" transform="translate(5.4,0) scale(0.70,1)">(a)</text><text class="capi" transform="translate(85.5,0) scale(1.12,1)">T</text><text class="caps" x="127.9" y="14.2">1<tspan style="font-size:50px" dy="3" dx="-2">/</tspan><tspan dy="-3" dx="-2">3</tspan></text><text class="cap" transform="translate(188.4,0) scale(0.755,1)">=1.2s</text></g>
<g transform="translate(0,946.8)">
<rect x="162.9" y="4.9" width="1152.2" height="681.5" fill="#fff" stroke="#0d0d0d" stroke-width="5.2"/>
<clipPath id="c2"><path d="M163.4 307.4L741.7 307.4L843.2 255.9L1104.5 255.9L1181.8 307.4L1312.6 307.4L1312.6 686L163.4 686Z"/></clipPath>
<g clip-path="url(#c2)">
<rect x="163.4" y="253.9" width="1149.2" height="434.1" fill="#8169c5"/>
<path d="M159.5 690.2L1317.7 690.2L1317.7 303.6L1303.2 301.7L1288.8 301.5L1245.3 305.7L1221.2 306.4L1206.7 305.7L1197.1 304.7L1187.4 303L1177.8 300.7L1172.9 298.6L1168 295.4L1163.3 290.3L1143.6 271.6L1138.4 266.9L1132.1 262.1L1128.4 257.4L1128.2 252.6L159.5 252.6L159.5 690.2Z" fill="#7866c2"/>
<path d="M159.5 690.2L1317.7 690.2L1317.7 371.2L1264.6 361.4L1250.2 358.3L1235.7 354.6L1216.4 348.4L1173.8 333.5L1116.2 314.4L1105.4 309.8L1099.8 304.9L1097.1 300.2L1097.1 295.4L1098.2 290.7L1099.3 281.1L1098.8 257.4L1099.9 252.6L159.5 252.6L159.5 690.2Z" fill="#6c62be"/>
<path d="M159.5 690.2L1317.7 690.2L1317.7 437.6L1293.6 430.3L1279.1 424.9L1255 414.2L1230.8 402.1L1216.4 393.9L1192.2 379.2L1177.8 369.9L1145 347.7L1122.3 333.5L1096.9 319.2L1081.2 312.2L1077.3 309.7L1074.2 304.9L1073.5 300.2L1074.5 295.4L1079 281.1L1084.6 252.6L159.5 252.6L159.5 690.2Z" fill="#625ebb"/>
<path d="M159.5 690.2L1317.7 690.2L1317.7 537.3L1300.6 519L1285 504.7L1266.1 490.4L1206.7 449.1L1187.4 434.6L1177.8 426.7L1168.1 417.8L1158.5 408L1134.1 381L1106.5 352.5L1082.5 328.7L1066.2 314.4L1061.9 309.3L1060.4 304.9L1060.1 300.2L1061.2 295.4L1065.8 281.1L1072 252.6L159.5 252.6L159.5 690.2Z" fill="#595bb8"/>
<path d="M159.5 690.2L1253.4 690.2L1242.2 628.4L1238.7 614.1L1233 595.1L1224.4 571.3L1214.5 547.5L1203.5 523.7L1189.1 495.2L1178.7 476.2L1167.5 457.1L1158.5 442.9L1148.4 428.6L1133.5 409.6L1105.4 376.1L1063.4 324L1054.6 314.4L1051.7 309.7L1050.7 304.9L1050.8 300.2L1055.4 281.1L1060.7 252.6L159.5 252.6L159.5 690.2Z" fill="#5159b6"/>
<path d="M159.5 690.2L1180 690.2L1171.6 633.1L1165.1 599.8L1160.5 580.8L1153.9 557L1146.6 533.3L1140.1 514.2L1131.2 490.4L1121.6 466.7L1102.7 423.8L1068.4 357.3L1050.4 324L1044.5 314.4L1042.9 309.7L1042.5 304.9L1042.7 300.2L1046.3 281.1L1050.4 252.6L159.5 252.6L159.5 690.2Z" fill="#4b58b5"/>
<path d="M159.5 690.2L1116.7 690.2L1111.5 633.1L1108 604.6L1101.8 566.6L1092.4 519L1082.5 476.2L1071.4 433.4L1042.6 338.9L1036 314.4L1035.4 309.7L1035.6 300.2L1040.6 252.6L159.5 252.6L159.5 690.2Z" fill="#4657b4"/>
<path d="M159.5 690.2L1060 690.2L1053.6 609.4L1046.9 557L1036.6 457.1L1032.9 414.3L1028.6 309.7L1031.6 252.6L159.5 252.6L159.5 690.2Z" fill="#4356b3"/>
<path d="M159.5 690.2L1006.7 690.2L1005.3 637.9L1004.7 599.8L1004.7 571.3L1005.4 542.8L1007.4 504.7L1010.2 461.9L1017 371.5L1022 314.4L1022.6 300.2L1023.2 252.6L159.5 252.6L159.5 690.2Z" fill="#4154b1"/>
<path d="M159.5 690.2L955 690.2L955.8 642.7L957 618.9L959.9 585.6L965.8 538L972.4 495.2L979.1 461.9L988.2 423.8L1008.9 345.6L1014 324L1016.2 309.7L1016.7 300.2L1015 262.1L1015.1 252.6L159.5 252.6L159.5 690.2Z" fill="#3f52ad"/>
<path d="M293.2 690.2L900 690.2L902.2 637.9L904.9 609.4L908.2 585.6L911.4 566.6L915.2 547.5L920.6 523.7L927 500L933 480.9L939.9 461.9L947.7 442.9L956.1 423.8L963 409.6L1000.1 338.2L1004.3 328.7L1008.9 316.3L1011.1 304.9L1011.1 300.2L1007.2 257.4L1007.4 252.6L159.5 252.6L159.5 520.1L169.1 521.3L198.1 526.2L231.9 529.4L241.5 530.9L251.2 534.2L256 536.7L260.8 540.5L265.7 545.5L270.5 552.1L273.5 557L280.1 570.5L288.2 595.1L291.7 609.4L292.9 618.9L293.7 633.1L293.2 690.2Z" fill="#0e6bb0"/>
<path d="M373.4 690.2L836.6 690.2L842.7 628.4L848.2 590.3L851.1 576.1L855.8 557L861.5 538L866.6 523.7L874.5 504.7L886 480.9L896.4 461.9L908 442.9L917.8 428.6L925.3 419.1L970.2 366.6L979.9 354.8L991.6 338.2L999.6 324L1004 314.4L1006.1 304.9L1005.3 295.4L1000.2 257.4L1000.3 252.6L159.5 252.6L159.5 430.2L183.6 427.3L193.3 425.3L198.1 423.8L207.8 419.5L212.6 416.7L237.9 400.1L256 389.5L263.7 385.8L270.5 383.2L275.3 382L280.1 381.4L285 381.4L294.6 383.3L299.4 385.3L304.3 388.3L309.1 392.3L316 400.1L322.5 409.6L328.4 420.4L333.2 430.8L337.8 442.9L342.3 457.1L347.4 476.2L354.5 509.5L364.7 566.6L368.2 590.3L370.6 614.1L371.8 637.9L373.4 690.2Z" fill="#1b8b88"/>
<path d="M458.5 690.2L756.6 690.2L759.3 656.9L761.2 642.7L764.3 628.4L769.8 609.4L778.4 585.6L788.7 561.8L798.5 542.8L809.9 523.7L822.7 504.7L836.6 485.7L847.9 471.4L864.5 452.4L877.9 438.1L897.3 419.1L960.6 362.3L970.2 352.8L979.9 342.2L986.7 333.5L994.4 322.1L998.8 314.4L1000.6 309.7L1001.2 304.9L1000.9 300.2L996.6 281.1L994.2 262.1L993.8 252.6L159.5 252.6L159.5 385.2L183.6 379.9L198.1 375.6L212.6 368.9L236.7 355.1L251.2 347.7L260.8 344.3L270.5 343.1L280.1 343.3L294.6 345.4L304.3 347.8L313.9 351.4L323.6 356.1L328.4 359.6L335.9 366.8L339.4 371.5L342.5 376.3L355.3 400.1L361 409.6L382.2 438.1L388.5 447.6L393.9 457.1L401.2 471.4L409.8 490.4L423.3 523.7L431.9 547.5L438 566.6L444.6 590.3L450.1 614.1L453.8 633.1L456 647.4L457.2 661.7L457.9 685.5L458.5 690.2Z" fill="#12a15c"/>
<path d="M587.7 576.1L598.7 578.4L608.3 579.6L618 580.1L627.6 579.6L637.3 577.5L642.1 575.8L646.9 573.5L656.6 567.9L675.9 554.8L695.2 540.5L709.6 528.3L730.2 509.5L753.1 490.4L772 476.2L801.3 455.6L828.9 433.4L841.6 423.8L869.6 404.8L926.8 370.9L939.6 362L950.9 353.2L965.4 341.1L975.1 332.3L982.5 324L989.6 317.7L992.4 314.4L995.4 309.7L995.8 304.9L995.1 300.2L993.6 295.4L989.7 285.9L987.7 276.4L987.5 252.6L159.5 252.6L159.5 356.8L188.5 350.3L198.1 347.3L212.6 341.5L236.7 329.8L246.4 325.8L252.1 324L265.7 321.2L270.5 320.6L275.3 320.8L294.6 325.2L305.6 328.7L318.8 334.6L328.4 340L342.9 349.9L380.5 381L390.5 390.6L398.7 400.1L413.5 419.1L444.2 462.2L463.5 487.1L482.8 509.4L492.5 519.1L502.1 528L521.4 543.6L531.1 550.4L545.6 559.3L555.2 564.3L564.9 568.7L579.3 573.9L587.7 576.1Z" fill="#2cb04c"/>
<path d="M590.3 471.4L603.5 473.3L613.1 474L622.8 474L632.4 473.4L642.1 472.2L656.6 469.2L675.9 463L690.3 456.6L704.8 448.5L733.8 429.7L761.6 409.6L769.4 404.8L782 398.2L801.3 389.4L821.7 381L847.6 371.5L893 355.9L922 344.8L950.9 331.7L960.6 326.5L971.8 319.2L979.9 316.2L984.7 313.3L988.3 309.7L989.6 304.9L988.6 300.2L986.8 295.4L984.2 290.7L981 281.1L980.3 276.4L980.3 271.6L981.3 252.6L159.5 252.6L159.5 338.4L188.5 334.1L202.9 330.6L212.6 327.4L241.5 315.9L251.2 311.8L265.7 304.6L270.5 303.6L275.3 303.4L283.7 304.9L334.6 324L345.4 328.7L363.5 338.2L386.5 352.5L415.1 371.5L427.7 381L449.1 399.2L468.4 413.6L487.7 426L507 436.7L531.1 449L560 462.2L574.5 467.5L590.3 471.4Z" fill="#46b549"/>
<path d="M610.5 414.3L622.8 415.2L637.3 414.4L666.2 409.7L675.9 407.3L685.5 404.1L704.8 395.4L724.1 385.2L738.9 376.3L757.9 361.8L767.6 356.3L777.2 352.7L791.7 349.5L811 346.9L830.3 345.3L859.3 344.2L883.4 340.8L907.5 335.2L922 330.9L941.3 324.4L975.1 311.9L979.8 309.7L982.1 304.9L981.7 300.2L977.1 290.7L973.8 281.1L973.3 271.6L974.8 252.6L159.5 252.6L159.5 323.5L188.5 320.3L207.8 316.7L236.7 308.2L241.5 306.2L256 298.9L265.7 295.9L275.3 294.8L285 295.6L289.8 296.6L299.4 299.6L318.8 307.7L355.2 319.2L379.5 328.7L418.7 347.7L463.5 371.8L478 378.5L502.1 388.2L526.3 396.4L550.4 403L584.2 410.2L610.5 414.3Z" fill="#5ab847"/>
<path d="M597 371.5L618 372L637.3 371.4L656.6 368.9L675.9 364.6L690.3 360.1L704.8 354.6L719.3 348L748.5 333.5L759.3 328.7L772.4 324.4L777.2 323.5L791.7 322.6L801.3 323.3L849.6 332.2L854.4 332.9L864.1 333.2L878.6 332.5L897.9 330.3L907.5 328.4L922 324.4L936.5 319.4L941.3 317L955.8 311.7L964.3 309.7L970.9 304.9L970.4 300.2L968.3 295.4L965.8 285.9L965.4 281.1L965.7 271.6L968 252.6L159.5 252.6L159.5 313.4L174 312.6L198.1 308.3L207.8 306.2L227.1 300.7L251.2 290.7L260.8 287.9L265.7 287L275.3 286.1L289.8 286.9L304.3 290.2L333.2 300.6L382.3 314.4L397.6 319.2L410.7 324L458.7 343.1L482.8 351.5L497.3 355.9L521.4 361.7L545.6 366L574.5 369.8L597 371.5Z" fill="#66bb45"/>
<path d="M563.7 338.2L579.3 338.4L593.8 337.3L632.4 330.5L646.9 328.8L671 326.6L685.5 324.5L733.8 313.3L758.1 309.7L762.7 307.9L772.4 301.9L777.2 299.6L786.9 296.6L796.5 295.1L806.2 295.2L815.8 297.8L825.5 302L848.5 314.4L859.3 319.2L864.1 320.5L873.7 322.4L888.2 323.7L897.9 323.3L907.5 322L918.1 319.2L929 314.4L941.3 304.3L947.7 295.4L955 281.1L957.9 271.6L960.7 257.4L961.1 252.6L159.5 252.6L159.5 304.1L169.1 303.9L174 303.3L198.1 297.7L217.4 291.9L241.5 283L256 278.9L270.5 276.7L280.1 276.3L289.8 276.6L299.4 277.8L309.1 279.6L347.7 290.5L371.8 296.2L391.1 300L434.6 307.1L443.5 309.7L463.5 317.1L478 322L511.8 330.9L535.9 335.5L550.4 337.2L563.7 338.2Z" fill="#6fbd45"/>
<path d="M520.2 314.4L535.9 316.1L550.4 316.5L564.9 315.8L579.3 314L589 312.2L622.8 303.5L675.9 292.2L699.8 285.9L719.3 279.5L764.5 262.1L775.3 257.4L783.5 252.6L159.5 252.6L159.5 292.3L174 290.8L188.5 287.6L202.9 283.4L236.7 272.4L251.2 268.8L270.5 265.9L280.1 265.4L294.6 265.6L304.3 266.4L318.8 268.5L371.8 279.4L420.1 286.8L434.6 289.5L444.2 291.9L453.9 294.9L478 305.1L487.7 308.3L520.2 314.4ZM883.2 309.7L888.2 311.2L897.9 312.8L907.5 312.5L917.2 310.3L922 308.3L931.6 301.9L936.5 297.3L942.1 290.7L947.8 281.1L949.8 276.4L952.6 266.9L953.6 262.1L954.4 252.6L840 252.6L842.5 257.4L844.7 271.6L846.5 276.4L851.7 285.9L859.3 295L865.2 300.2L868.9 302.9L873.7 305.7L878.6 308.1L883.2 309.7Z" fill="#7ac043"/>
<path d="M884.5 300.2L893 302.9L897.9 303.6L907.5 303.6L912.3 302.8L917.2 301.4L922 299.3L926.8 296.5L931.6 292.8L936.5 287.8L941.2 281.1L943.7 276.4L945.6 271.6L947.9 262.1L948.3 252.6L854.4 252.6L856.4 266.9L857.7 271.6L862.2 281.1L865.5 285.9L869.9 290.7L875.7 295.4L884.5 300.2ZM502.9 290.7L521.4 293.3L535.9 294L550.4 293.3L569.7 290.5L589 285.6L632 271.6L657.8 262.1L679.9 252.6L159.5 252.6L159.5 277.8L170.3 276.4L183.6 273.7L231.9 260.4L251.2 256.3L260.8 254.8L275.3 253.4L299.4 253L313.9 253.8L333.2 255.9L429.7 270.6L444.2 273.5L458.7 277.2L487.7 286.6L502.9 290.7Z" fill="#8cc63f"/>
<path d="M892.4 295.4L897.9 296.6L902.7 296.9L912.3 295.7L917.2 294.1L922 291.8L926.8 288.6L931.6 284.3L934.3 281.1L937.4 276.4L939.8 271.6L941.4 266.9L942.4 262.1L942.9 257.4L942.6 252.6L864.8 252.6L865.4 262.1L866.3 266.9L868.9 274.1L872.9 281.1L876.9 285.9L882.5 290.7L888.2 293.8L892.4 295.4ZM499.6 262.1L511.8 263.5L521.4 264.1L531.1 264L540.7 263.4L550.6 262.1L564.9 259.2L587.2 252.6L445 252.6L499.6 262.1ZM159.5 257.4L159.5 261.2L178.8 258L202.3 252.6L159.5 252.6L159.5 257.4Z" fill="#9ccb3c"/>
<path d="M889.8 285.9L893 287.6L897.9 289.2L902.7 289.8L907.5 289.5L912.3 288.5L917.2 286.7L922 284L926.8 280.1L930 276.4L933.1 271.6L935.2 266.9L937 257.4L935.9 252.6L875.5 252.6L874.8 257.4L875.3 262.1L876.2 266.9L877.8 271.6L880.4 276.4L883.4 280.5L889.8 285.9Z" fill="#b4d334"/>
<path d="M895.3 276.4L897.9 278L902.7 279.7L907.5 279.9L912.3 278.9L917.8 276.4L923 271.6L926.1 266.9L926.8 265L927.6 262.1L927.5 257.4L924.4 252.6L892.4 252.6L889.6 257.4L888.6 262.1L889.2 266.9L891.2 271.6L895.3 276.4Z" fill="#d6de2c"/>
<path d="M1317.7 303.6L1303.2 301.7L1288.8 301.5L1245.3 305.7L1221.2 306.4L1206.7 305.7L1197.1 304.7L1187.4 303L1177.8 300.7L1172.9 298.6L1168 295.4L1163.3 290.3L1143.6 271.6L1138.4 266.9L1132.1 262.1L1128.4 257.4L1128.2 252.6M1317.7 371.2L1264.6 361.4L1250.2 358.3L1235.7 354.6L1216.4 348.4L1173.8 333.5L1116.2 314.4L1105.4 309.8L1099.8 304.9L1097.1 300.2L1097.1 295.4L1098.2 290.7L1099.3 281.1L1098.8 257.4L1099.9 252.6M1317.7 437.6L1293.6 430.3L1279.1 424.9L1255 414.2L1230.8 402.1L1216.4 393.9L1192.2 379.2L1177.8 369.9L1145 347.7L1122.3 333.5L1096.9 319.2L1081.2 312.2L1077.3 309.7L1074.2 304.9L1073.5 300.2L1074.5 295.4L1079 281.1L1084.6 252.6M1317.7 537.3L1300.6 519L1285 504.7L1266.1 490.4L1206.7 449.1L1187.4 434.6L1177.8 426.7L1168.1 417.8L1158.5 408L1134.1 381L1106.5 352.5L1082.5 328.7L1066.2 314.4L1061.9 309.3L1060.4 304.9L1060.1 300.2L1061.2 295.4L1065.8 281.1L1072 252.6M1253.4 690.2L1242.2 628.4L1238.7 614.1L1233 595.1L1224.4 571.3L1214.5 547.5L1203.5 523.7L1189.1 495.2L1178.7 476.2L1167.5 457.1L1158.5 442.9L1148.4 428.6L1133.5 409.6L1105.4 376.1L1063.4 324L1054.6 314.4L1051.7 309.7L1050.7 304.9L1050.8 300.2L1055.4 281.1L1060.7 252.6M1180 690.2L1171.6 633.1L1165.1 599.8L1160.5 580.8L1153.9 557L1146.6 533.3L1140.1 514.2L1131.2 490.4L1121.6 466.7L1102.7 423.8L1068.4 357.3L1050.4 324L1044.5 314.4L1042.9 309.7L1042.5 304.9L1042.7 300.2L1046.3 281.1L1050.4 252.6M1116.7 690.2L1111.5 633.1L1108 604.6L1101.8 566.6L1092.4 519L1082.5 476.2L1071.4 433.4L1042.6 338.9L1036 314.4L1035.4 309.7L1035.6 300.2L1040.6 252.6M1060 690.2L1053.6 609.4L1046.9 557L1036.6 457.1L1032.9 414.3L1028.6 309.7L1031.6 252.6M1006.7 690.2L1005.3 637.9L1004.7 599.8L1004.7 571.3L1005.4 542.8L1007.4 504.7L1010.2 461.9L1017 371.5L1022 314.4L1022.6 300.2L1023.2 252.6M955 690.2L955.8 642.7L957 618.9L959.9 585.6L965.8 538L972.4 495.2L979.1 461.9L988.2 423.8L1008.9 345.6L1014 324L1016.2 309.7L1016.7 300.2L1015 262.1L1015.1 252.6M900 690.2L902.2 637.9L904.9 609.4L908.2 585.6L911.4 566.6L915.2 547.5L920.6 523.7L927 500L933 480.9L939.9 461.9L947.7 442.9L956.1 423.8L963 409.6L1000.1 338.2L1004.3 328.7L1008.9 316.3L1011.1 304.9L1011.1 300.2L1007.2 257.4L1007.4 252.6M159.5 520.1L169.1 521.3L198.1 526.2L231.9 529.4L241.5 530.9L251.2 534.2L256 536.7L260.8 540.5L265.7 545.5L270.5 552.1L273.5 557L280.1 570.5L288.2 595.1L291.7 609.4L292.9 618.9L293.7 633.1L293.2 690.2" fill="none" stroke="#181a7c" stroke-width="1.3" stroke-opacity="0.75"/>
<path d="M836.6 690.2L842.7 628.4L848.2 590.3L851.1 576.1L855.8 557L861.5 538L866.6 523.7L874.5 504.7L886 480.9L896.4 461.9L908 442.9L917.8 428.6L925.3 419.1L970.2 366.6L979.9 354.8L991.6 338.2L999.6 324L1004 314.4L1006.1 304.9L1005.3 295.4L1000.2 257.4L1000.3 252.6M159.5 430.2L183.6 427.3L193.3 425.3L198.1 423.8L207.8 419.5L212.6 416.7L237.9 400.1L256 389.5L265.7 384.9L275.3 382L280.1 381.4L285 381.4L294.6 383.3L299.4 385.3L304.3 388.3L309.1 392.3L313.9 397.3L318.8 403.7L323.6 411.4L328.4 420.4L334.3 433.4L338.1 443.7L343.6 461.9L348.5 480.9L352.6 500L364.7 566.6L369.3 599.8L371.4 628.4L373.4 690.2M756.6 690.2L759.3 656.9L761.2 642.7L764.3 628.4L769.8 609.4L778.4 585.6L788.7 561.8L798.5 542.8L809.9 523.7L822.7 504.7L836.6 485.7L847.9 471.4L864.5 452.4L877.9 438.1L897.3 419.1L960.6 362.3L970.2 352.8L979.9 342.2L986.7 333.5L994.4 322.1L998.8 314.4L1000.6 309.7L1001.2 304.9L1000.9 300.2L996.6 281.1L994.2 262.1L993.8 252.6M159.5 385.2L183.6 379.9L198.1 375.6L212.6 368.9L236.7 355.1L251 347.7L256 345.7L265.7 343.5L275.3 343.1L285 343.8L294.6 345.4L304.3 347.8L313.9 351.4L323.6 356.1L328.4 359.6L333.2 364L335.9 366.8L342.5 376.3L355.3 400.1L361 409.6L382.2 438.1L391.3 452.4L398.8 466.7L405.6 480.9L421.5 519L430.2 542.8L438 566.6L444.6 590.3L450.1 614.1L453.8 633.1L456 647.4L457.2 661.7L457.9 685.5L458.5 690.2M159.5 356.8L188.5 350.3L198.1 347.3L212.6 341.5L236.7 329.8L246.4 325.8L252.1 324L265.7 321.2L270.5 320.6L275.3 320.8L289.8 324L304.3 328.2L313.9 332.2L328.4 340L342.9 349.9L380.5 381L390.5 390.6L398.7 400.1L409.9 414.3L449.1 468.7L468.4 493L482.8 509.4L492.5 519.1L502.1 528L516.6 540L531.1 550.4L545.6 559.3L560 566.5L574.5 572.3L589 576.4L603.5 579L618 580.1L627.6 579.6L637.3 577.5L646.9 573.5L656.6 567.9L675.9 554.8L700 536.6L730.2 509.5L753.1 490.4L772 476.2L801.3 455.6L835.2 428.6L855.2 414.3L869.6 404.8L917.2 376.7L931.6 367.6L950.9 353.2L970.2 336.9L975.1 332.3L982.5 324L989.6 317.7L992.4 314.4L995.4 309.7L995.8 304.9L995.1 300.2L993.6 295.4L989.7 285.9L987.7 276.4L987.5 252.6M159.5 338.4L188.5 334.1L202.9 330.6L212.6 327.4L241.5 315.9L251.2 311.8L265.7 304.6L270.5 303.6L275.3 303.4L283.7 304.9L334.6 324L345.4 328.7L363.5 338.2L386.5 352.5L415.1 371.5L427.7 381L453.9 403L473.2 416.9L497.3 431.5L531.1 449L550.4 458L564.9 464.1L574.5 467.5L584.2 470.2L598.7 472.8L608.3 473.7L622.8 474L632.4 473.4L646.9 471.3L661.4 467.9L675.9 463L685.5 458.9L695.2 454L709.6 445.5L738.6 426.4L761.6 409.6L769.4 404.8L782 398.2L801.3 389.4L821.7 381L847.6 371.5L893 355.9L922 344.8L950.9 331.7L960.6 326.5L971.8 319.2L979.9 316.2L983 314.4L988.3 309.7L989.6 304.9L988.6 300.2L986.8 295.4L984.2 290.7L981 281.1L980.3 276.4L980.3 271.6L981.3 252.6M159.5 323.5L188.5 320.3L207.8 316.7L236.7 308.2L241.5 306.2L256 298.9L265.7 295.9L275.3 294.8L285 295.6L289.8 296.6L299.4 299.6L318.8 307.7L355.2 319.2L379.5 328.7L418.7 347.7L453.9 366.9L468.4 374.1L487.7 382.6L511.8 391.7L531.1 397.8L545.6 401.7L579.3 409.3L598.7 412.7L613.1 414.6L622.8 415.2L632.4 415L666.2 409.7L680.7 405.8L690.3 402.1L709.6 393L729 382.5L738.9 376.3L757.9 361.8L767.6 356.3L777.2 352.7L791.7 349.5L811 346.9L830.3 345.3L859.3 344.2L883.4 340.8L907.5 335.2L922 330.9L941.3 324.4L975.1 311.9L979.8 309.7L982.1 304.9L981.7 300.2L977.1 290.7L973.8 281.1L973.3 271.6L974.8 252.6M159.5 313.4L174 312.6L198.1 308.3L207.8 306.2L227.1 300.7L251.2 290.7L260.8 287.9L265.7 287L275.3 286.1L289.8 286.9L304.3 290.2L333.2 300.6L396 318.6L410.7 324L458.7 343.1L485.9 352.5L507 358.4L521.4 361.7L540.7 365.2L574.5 369.8L589 371.1L608.3 371.9L622.8 372L637.3 371.4L651.7 369.7L666.2 367L675.9 364.6L690.3 360.1L704.8 354.6L714.5 350.3L748.5 333.5L757.9 329.3L774.3 324L786.9 322.6L796.5 322.8L811 324.8L839.9 330.5L854.4 332.9L864.1 333.2L878.6 332.5L897.9 330.3L912.3 327.2L936.5 319.4L941.3 317L955.8 311.7L964.3 309.7L970.9 304.9L970.4 300.2L968.3 295.4L965.8 285.9L965.4 281.1L965.7 271.6L968 252.6M159.5 304.1L169.1 303.9L174 303.3L198.1 297.7L217.4 291.9L241.5 283L256 278.9L270.5 276.7L285 276.4L294.6 277.1L309.1 279.6L348.5 290.7L376.7 297.2L434.6 307.1L443.5 309.7L473.2 320.4L497.3 327.4L511.8 330.9L531.1 334.7L555.2 337.7L574.5 338.5L589 337.8L603.5 335.8L632.4 330.5L646.9 328.8L671 326.6L685.5 324.5L733.8 313.3L758.1 309.7L762.7 307.9L775.9 300.2L782 297.9L791.7 295.6L801.3 294.8L807.5 295.4L815.8 297.8L825.5 302L848.5 314.4L859.3 319.2L873.7 322.4L883.4 323.4L893 323.7L907.5 322L917.2 319.5L922 317.7L929 314.4L940.8 304.9L947.7 295.4L955 281.1L957.9 271.6L960.7 257.4L961.1 252.6M159.5 292.3L174 290.8L188.5 287.6L202.9 283.4L236.7 272.4L251.2 268.8L270.5 265.9L280.1 265.4L294.6 265.6L304.3 266.4L318.8 268.5L371.8 279.4L420.1 286.8L434.6 289.5L444.2 291.9L453.9 294.9L482.8 306.9L497.3 310.4L516.6 313.9L531.1 315.7L545.6 316.5L560 316.2L574.5 314.7L589 312.2L618 304.6L671 293.4L695.2 287.3L719.3 279.5L764.5 262.1L775.3 257.4L783.5 252.6M840 252.6L842.5 257.4L843.7 266.9L844.7 271.6L846.5 276.4L851.7 285.9L859.6 295.4L868.9 302.9L878.6 308.1L888.2 311.2L893 312.2L902.7 312.9L912.3 311.6L917.2 310.3L922 308.3L931.6 301.9L936.5 297.3L942.1 290.7L947.8 281.1L949.8 276.4L951.4 271.6L953.6 262.1L954.4 252.6M159.5 277.8L170.3 276.4L183.6 273.7L231.9 260.4L251.2 256.3L260.8 254.8L275.3 253.4L289.8 252.8L304.3 253.2L318.8 254.3L338.1 256.6L429.7 270.6L453.9 275.9L492.5 288L507 291.5L526.3 293.7L545.6 293.7L555.2 292.8L569.7 290.5L593.8 284.1L617.9 276.4L645.4 266.9L661.4 260.7L679.9 252.6M854.4 252.6L856.4 266.9L857.7 271.6L862.2 281.1L865.5 285.9L868.9 289.7L875.7 295.4L883.4 299.7L893 302.9L902.7 303.8L912.3 302.8L917.2 301.4L922 299.3L926.8 296.5L931.6 292.8L936.5 287.8L941.3 281L945.6 271.6L947.9 262.1L948.3 252.6M159.5 261.2L178.8 258L202.3 252.6M445 252.6L497.3 261.8L511.8 263.5L526.3 264.1L540.7 263.4L555.2 261.3L569.7 258L587.2 252.6M864.8 252.6L865.4 262.1L867.8 271.6L870 276.4L872.9 281.1L876.9 285.9L882.5 290.7L888.2 293.8L893 295.6L897.9 296.6L902.7 296.9L912.3 295.7L917.2 294.1L923.9 290.7L926.8 288.6L931.6 284.3L937.4 276.4L941.3 267.4L942.9 257.4L942.6 252.6M875.5 252.6L874.8 257.4L876.2 266.9L878.6 273.1L883.4 280.5L888.2 284.8L893 287.6L897.9 289.2L902.7 289.8L907.5 289.5L912.3 288.5L917.2 286.7L922 284L926.8 280.1L931.6 274.1L935.2 266.9L937 257.4L935.9 252.6" fill="none" stroke="#06602a" stroke-width="1.4" stroke-opacity="0.7"/>
<path d="M892.4 252.6L889.6 257.4L888.6 262.1L889.2 266.9L891.2 271.6L895.3 276.4L897.9 278L902.7 279.7L907.5 279.9L912.3 278.9L917.8 276.4L922 272.8L926.1 266.9L927.6 262.1L927.5 257.4L924.4 252.6" fill="none" stroke="#3a2c08" stroke-width="1.4" stroke-opacity="0.55"/>
<text class="cl" transform="translate(635,330) rotate(2)" text-anchor="middle" y="9.5" stroke="#6fbd45">0.45</text>
<text class="cl" transform="translate(643.3,414) rotate(3)" text-anchor="middle" y="9.5" stroke="#46b549">0.4</text>
<text class="cl" transform="translate(420,375) rotate(40)" text-anchor="middle" y="9.5" stroke="#46b549">0.375</text>
<text class="cl" transform="translate(360,408.3) rotate(60)" text-anchor="middle" y="9.5" stroke="#1b8b88">0.325</text>
<text class="cl" transform="translate(663.3,564) rotate(-28)" text-anchor="middle" y="9.5" stroke="#12a15c">0.35</text>
<text class="cl" transform="translate(273.3,570) rotate(70)" text-anchor="middle" y="9.5" stroke="#3f52ad">0.275</text>
<text class="cl" transform="translate(900,330) rotate(-10)" text-anchor="middle" y="9.5" stroke="#5ab847">0.425</text>
<text class="cl" transform="translate(851.7,573.3) rotate(-80)" text-anchor="middle" y="9.5" stroke="#1b8b88">0.3</text>
<text class="cl" transform="translate(1048.3,570) rotate(85)" text-anchor="middle" y="9.5" stroke="#4356b3">0.2</text>
<text class="cl" transform="translate(1203.3,446.7) rotate(48)" text-anchor="middle" y="9.5" stroke="#595bb8">0.1</text>
<text class="cl" transform="translate(1236.7,355) rotate(15)" text-anchor="middle" y="9.5" stroke="#6c62be">0.05</text>
<text class="cl" transform="translate(902.5,266.2) rotate(3)" text-anchor="middle" y="9.5" stroke="none">0.55</text>
<text class="cl" transform="translate(952.5,282.5) rotate(-70)" text-anchor="middle" y="9.5" stroke="none">0.45</text>
</g>
<path d="M162.9 307.4H1315.1" stroke="#0d0d0d" stroke-width="4.3" fill="none"/>
<path d="M738.7 308.9L843.2 255.9L1104.5 255.9L1184.8 308.9" stroke="#0d0d0d" stroke-width="4.2" fill="none" stroke-linejoin="miter"/>
<rect x="935.4" y="13.6" width="131.3" height="242.3" fill="#d2d5d5" stroke="#0d0d0d" stroke-width="3.6"/>
<text class="cai" transform="translate(1023.5,132.5) rotate(-90)" text-anchor="middle" textLength="194" lengthAdjust="spacingAndGlyphs">Caisson</text>
<path d="M143.8 677.3H160.4" stroke="#9c9c9c" stroke-width="2.8"/><path d="M152.6 640.4H160.4" stroke="#bdbdbd" stroke-width="1.8"/><path d="M152.6 603.4H160.4" stroke="#bdbdbd" stroke-width="1.8"/><path d="M152.6 566.5H160.4" stroke="#bdbdbd" stroke-width="1.8"/><path d="M152.6 529.6H160.4" stroke="#bdbdbd" stroke-width="1.8"/><path d="M143.8 492.6H160.4" stroke="#9c9c9c" stroke-width="2.8"/><path d="M152.6 455.7H160.4" stroke="#bdbdbd" stroke-width="1.8"/><path d="M152.6 418.8H160.4" stroke="#bdbdbd" stroke-width="1.8"/><path d="M152.6 381.9H160.4" stroke="#bdbdbd" stroke-width="1.8"/><path d="M152.6 344.9H160.4" stroke="#bdbdbd" stroke-width="1.8"/><path d="M143.8 308H160.4" stroke="#9c9c9c" stroke-width="2.8"/><path d="M152.6 271.1H160.4" stroke="#bdbdbd" stroke-width="1.8"/><path d="M152.6 234.1H160.4" stroke="#bdbdbd" stroke-width="1.8"/><path d="M152.6 197.2H160.4" stroke="#bdbdbd" stroke-width="1.8"/><path d="M152.6 160.3H160.4" stroke="#bdbdbd" stroke-width="1.8"/><path d="M143.8 123.3H160.4" stroke="#9c9c9c" stroke-width="2.8"/><path d="M152.6 86.4H160.4" stroke="#bdbdbd" stroke-width="1.8"/><path d="M152.6 49.5H160.4" stroke="#bdbdbd" stroke-width="1.8"/><path d="M152.6 12.6H160.4" stroke="#bdbdbd" stroke-width="1.8"/><path d="M172.7 689V704.5" stroke="#9c9c9c" stroke-width="2.8"/><path d="M210.4 689V696.5" stroke="#bdbdbd" stroke-width="1.8"/><path d="M248.2 689V696.5" stroke="#bdbdbd" stroke-width="1.8"/><path d="M285.9 689V696.5" stroke="#bdbdbd" stroke-width="1.8"/><path d="M323.6 689V696.5" stroke="#bdbdbd" stroke-width="1.8"/><path d="M361.3 689V704.5" stroke="#9c9c9c" stroke-width="2.8"/><path d="M399.1 689V696.5" stroke="#bdbdbd" stroke-width="1.8"/><path d="M436.8 689V696.5" stroke="#bdbdbd" stroke-width="1.8"/><path d="M474.5 689V696.5" stroke="#bdbdbd" stroke-width="1.8"/><path d="M512.2 689V696.5" stroke="#bdbdbd" stroke-width="1.8"/><path d="M550 689V704.5" stroke="#9c9c9c" stroke-width="2.8"/><path d="M587.7 689V696.5" stroke="#bdbdbd" stroke-width="1.8"/><path d="M625.4 689V696.5" stroke="#bdbdbd" stroke-width="1.8"/><path d="M663.2 689V696.5" stroke="#bdbdbd" stroke-width="1.8"/><path d="M700.9 689V696.5" stroke="#bdbdbd" stroke-width="1.8"/><path d="M738.6 689V704.5" stroke="#9c9c9c" stroke-width="2.8"/><path d="M776.3 689V696.5" stroke="#bdbdbd" stroke-width="1.8"/><path d="M814.1 689V696.5" stroke="#bdbdbd" stroke-width="1.8"/><path d="M851.8 689V696.5" stroke="#bdbdbd" stroke-width="1.8"/><path d="M889.5 689V696.5" stroke="#bdbdbd" stroke-width="1.8"/><path d="M927.2 689V704.5" stroke="#9c9c9c" stroke-width="2.8"/><path d="M965 689V696.5" stroke="#bdbdbd" stroke-width="1.8"/><path d="M1002.7 689V696.5" stroke="#bdbdbd" stroke-width="1.8"/><path d="M1040.4 689V696.5" stroke="#bdbdbd" stroke-width="1.8"/><path d="M1078.1 689V696.5" stroke="#bdbdbd" stroke-width="1.8"/><path d="M1115.9 689V704.5" stroke="#9c9c9c" stroke-width="2.8"/><path d="M1153.6 689V696.5" stroke="#bdbdbd" stroke-width="1.8"/><path d="M1191.3 689V696.5" stroke="#bdbdbd" stroke-width="1.8"/><path d="M1229.1 689V696.5" stroke="#bdbdbd" stroke-width="1.8"/><path d="M1266.8 689V696.5" stroke="#bdbdbd" stroke-width="1.8"/><path d="M1304.5 689V704.5" stroke="#9c9c9c" stroke-width="2.8"/>
<text class="tk" transform="translate(132.5,690.8) scale(0.94,1)" text-anchor="end">0</text>
<text class="tk" transform="translate(132.5,506.1) scale(0.94,1)" text-anchor="end">0.5</text>
<text class="tk" transform="translate(132.5,321.5) scale(0.94,1)" text-anchor="end">1</text>
<text class="tk" transform="translate(132.5,136.8) scale(0.94,1)" text-anchor="end">1.5</text>
<text class="tk" transform="translate(172.4,743.4) scale(0.94,1)" text-anchor="middle">22.5</text>
<text class="tk" transform="translate(361,743.4) scale(0.94,1)" text-anchor="middle">23</text>
<text class="tk" transform="translate(549.7,743.4) scale(0.94,1)" text-anchor="middle">23.5</text>
<text class="tk" transform="translate(738.3,743.4) scale(0.94,1)" text-anchor="middle">24</text>
<text class="tk" transform="translate(926.9,743.4) scale(0.94,1)" text-anchor="middle">24.5</text>
<text class="tk" transform="translate(1115.6,743.4) scale(0.94,1)" text-anchor="middle">25</text>
<text class="tk" transform="translate(1304.2,743.4) scale(0.94,1)" text-anchor="middle">25.5</text>
<text class="ax" x="737.6" y="830.9" text-anchor="middle">X(m)</text>
<text class="ax" transform="translate(42.5,346.2) rotate(-90)" text-anchor="middle">Z(m)</text>
<path d="M168.4 16.8H259.4" stroke="#3f50b2" stroke-width="2.9" fill="none"/><path d="M270.7 16.8L252.4 9.2L255.9 16.8L252.4 24.4Z" fill="#3f50b2"/>
<text class="wv" x="177" y="59.8" textLength="88.5" lengthAdjust="spacingAndGlyphs">Wave</text>
</g>
<g transform="translate(519,1857.4)"><text class="cap" transform="translate(0,0) scale(0.70,1)">(b)</text><text class="capi" transform="translate(71.4,0) scale(1.1,1)">H</text><text class="caps" x="122.5" y="14.2">1<tspan style="font-size:50px" dy="3" dx="-2">/</tspan><tspan dy="-3" dx="-2">3</tspan></text><text class="cap" transform="translate(186,0) scale(0.755,1)">=10cm</text></g>
<g transform="translate(1417.8,946.8)">
<rect x="162.9" y="4.9" width="1152.2" height="681.5" fill="#fff" stroke="#0d0d0d" stroke-width="5.2"/>
<clipPath id="c3"><path d="M163.4 307.4L741.7 307.4L843.2 255.9L1104.5 255.9L1181.8 307.4L1312.6 307.4L1312.6 686L163.4 686Z"/></clipPath>
<g clip-path="url(#c3)">
<rect x="163.4" y="253.9" width="1149.2" height="434.1" fill="#8169c5"/>
<path d="M159.5 690.2L1317.7 690.2L1317.7 310L1303.2 307.3L1293.6 306.3L1216.4 303.9L1192.2 302.1L1180.5 300.2L1177.8 299L1172.7 295.4L1165.4 285.9L1139.2 258.1L1136 252.6L159.5 252.6L159.5 690.2Z" fill="#7866c2"/>
<path d="M159.5 690.2L1317.7 690.2L1317.7 344.6L1269.5 336.2L1245.3 331.4L1177.8 316.3L1152.3 309.7L1145.1 304.9L1141.3 300.2L1138.3 295.4L1133.5 285.9L1128.1 276.4L1115.9 257.4L1114.9 252.6L159.5 252.6L159.5 690.2Z" fill="#6c62be"/>
<path d="M159.5 690.2L1317.7 690.2L1317.7 392.5L1274.3 376.5L1249.8 366.8L1227.4 357.3L1176.7 333.5L1144 319L1134.7 314.4L1126.5 309.7L1120.3 304.9L1116.2 300.2L1114.4 295.4L1111.9 281.1L1108.8 271.6L1104.5 262.1L1102.9 257.4L1102.4 252.6L159.5 252.6L159.5 690.2Z" fill="#625ebb"/>
<path d="M159.5 690.2L1317.7 690.2L1317.7 454.2L1292.7 428.6L1282 419.1L1269.5 409.6L1232.8 385.8L1177.8 354.1L1124.7 321.9L1115 315.4L1110.2 311.5L1104 304.9L1101.1 300.2L1100 295.4L1099.3 285.9L1097.9 276.4L1092.8 257.4L1092.4 252.6L159.5 252.6L159.5 690.2Z" fill="#595bb8"/>
<path d="M159.5 690.2L1317.7 690.2L1317.7 540.2L1297.7 514.2L1286.2 500L1265 476.2L1247.1 457.1L1228.4 438.1L1208.4 419.1L1177.8 391.4L1143.1 362L1133.2 352.5L1115 333.3L1100.5 316.4L1095.3 309.7L1092.3 304.9L1090.1 300.2L1089.2 295.4L1087.9 276.4L1084.1 257.4L1083.8 252.6L159.5 252.6L159.5 690.2Z" fill="#5159b6"/>
<path d="M159.5 690.2L1310 690.2L1306.5 642.7L1304.4 628.4L1301.1 614.1L1295.3 595.1L1286.4 571.3L1278.1 552.3L1266.3 528.5L1252.7 504.7L1240.2 485.7L1226.2 466.7L1210.9 447.6L1198.7 433.4L1181.2 414.3L1139.2 373.4L1123.3 357.3L1105.4 336.9L1090.9 318.1L1085.3 309.7L1082.6 304.9L1080.7 300.2L1080 295.4L1079.4 276.4L1076.4 257.8L1076.1 252.6L159.5 252.6L159.5 690.2Z" fill="#4b58b5"/>
<path d="M159.5 690.2L1273.3 690.2L1269.8 642.7L1267.7 628.4L1265.6 618.9L1260.1 599.8L1253.2 580.8L1243.4 557L1232.8 533.3L1223.5 514.2L1213.1 495.2L1201.5 476.2L1188.6 457.1L1174.8 438.1L1156.3 414.3L1119.9 372.6L1105.4 354.7L1090.9 334.3L1081.2 318.8L1074.1 304.9L1072.6 300.2L1072 295.4L1071.6 276.4L1068.9 252.6L159.5 252.6L159.5 690.2Z" fill="#4657b4"/>
<path d="M159.5 690.2L1236.7 690.2L1233.1 642.7L1231 628.4L1228.9 618.9L1223.1 599.8L1206.7 556.6L1188.5 504.7L1182.5 490.4L1177.7 480.9L1172.4 471.4L1163.4 457.1L1133.5 414.3L1108.6 381L1095.7 362.9L1086.1 347.3L1076.4 329.3L1067.7 309.7L1064.8 300.2L1064.3 295.4L1064 276.4L1061.8 252.6L159.5 252.6L159.5 690.2Z" fill="#4356b3"/>
<path d="M159.5 690.2L1200.1 690.2L1197.3 642.7L1194.2 618.9L1191.4 604.6L1186.7 585.6L1181.3 566.6L1173.8 542.8L1167.2 523.7L1159.8 504.7L1153.5 490.4L1146.6 476.2L1117.1 423.8L1081.2 362.2L1074.1 347.7L1066.8 331L1059.1 309.7L1056.8 300.2L1056.5 276.4L1054.8 252.6L159.5 252.6L159.5 690.2Z" fill="#4154b1"/>
<path d="M159.5 690.2L1166.6 690.2L1163.7 642.7L1161 618.9L1155.2 585.6L1147.2 552.3L1137 519L1128.6 495.2L1121.3 476.2L1098.5 423.8L1071.2 366.8L1061.9 344.4L1057.1 330.6L1051 309.7L1049.1 300.2L1049 276.4L1047.8 252.6L159.5 252.6L159.5 690.2Z" fill="#3f52ad"/>
<path d="M159.5 690.2L1133.4 690.2L1131.5 642.7L1129.5 618.9L1124.4 580.8L1118.1 547.5L1108.8 509.5L1096.2 466.7L1081.8 423.8L1058.4 362L1053.8 347.7L1048.3 328.7L1043.9 309.7L1042.3 300.2L1041.9 276.4L1040.8 252.6L159.5 252.6L159.5 690.2Z" fill="#0e6bb0"/>
<path d="M159.5 690.2L1103.3 690.2L1101 637.9L1098.5 604.6L1095.2 571.3L1090.5 538L1083.7 500L1077.4 471.4L1064 419.1L1048 362L1040.4 328.7L1037 309.7L1035.8 300.2L1033.9 252.6L159.5 252.6L159.5 690.2Z" fill="#1b8b88"/>
<path d="M159.5 690.2L1073.3 690.2L1072.4 642.7L1071.1 614.1L1068.3 576.1L1062.3 509.5L1057.6 471.4L1051.6 433.4L1047.2 409.6L1037.5 362L1033.7 338.2L1029.4 300.2L1027.3 257.4L1027.4 252.6L159.5 252.6L159.5 690.2Z" fill="#12a15c"/>
<path d="M159.5 690.2L1043.3 690.2L1042.6 618.9L1039.3 490.4L1037.5 466.7L1026.9 357.3L1023.2 300.2L1021.2 257.4L1021.4 252.6L159.5 252.6L159.5 690.2Z" fill="#2cb04c"/>
<path d="M159.5 690.2L1013.3 690.2L1018.4 495.2L1019.3 428.6L1018.3 304.9L1015.8 257.4L1015.9 252.6L159.5 252.6L159.5 690.2Z" fill="#46b549"/>
<path d="M159.5 690.2L981.6 690.2L983.7 642.7L985.4 618.9L1001.5 490.4L1006.1 447.6L1008.9 414.3L1012.1 347.7L1013.2 309.7L1013.2 300.2L1010.7 252.6L159.5 252.6L159.5 690.2Z" fill="#5ab847"/>
<path d="M159.5 690.2L948.3 690.2L951.7 637.9L953.3 623.6L956.4 604.6L967.7 552.3L984.7 483.8L994.4 436.5L999.2 405.8L1004.7 357.3L1008.2 309.7L1008.2 295.4L1005.7 252.6L159.5 252.6L159.5 690.2Z" fill="#66bb45"/>
<path d="M159.5 690.2L911.6 690.2L913.7 652.2L915.3 633.1L918.3 614.1L923.6 590.3L930.2 566.6L936.5 547.5L960.6 485.9L975.1 443.7L984.7 410.6L989.6 390.6L994.4 367.6L1000.2 333.5L1003.4 304.9L1003.4 295.4L1000.7 252.6L159.5 252.6L159.5 690.2Z" fill="#6fbd45"/>
<path d="M159.5 690.2L264.8 690.2L265.6 652.2L267 637.9L268.9 628.4L271.7 618.9L275.4 609.4L280.2 599.8L292.7 580.8L307.3 557L313.9 548.7L319.3 542.8L333.2 529.9L342 523.7L347.7 521.7L352.5 520.8L357.4 520.6L362.2 521.5L368.2 523.7L374.9 528.5L379.2 533.3L382.8 538L388.4 547.5L392.9 557L396.6 566.6L401.9 585.6L405.5 604.6L408.3 623.6L410.7 647.4L413.3 690.2L868.3 690.2L869.7 656.9L870.6 647.4L873 633.1L876.2 618.9L880.1 604.6L890.8 571.3L899.8 547.5L912.3 518.5L943.3 457.1L968.4 404.8L982 371.5L989.6 347.7L995.5 324L998.5 304.9L998.5 295.4L996.9 276.4L995.7 252.6L159.5 252.6L159.5 690.2Z" fill="#7ac043"/>
<path d="M493.6 690.2L809.7 690.2L810.6 685.5L811.7 666.4L814.3 652.2L821.3 628.4L824.5 618.9L828.5 609.4L867 542.8L907.5 481.4L950.9 411.1L965.4 385.4L975.1 365.2L979.9 353.3L986.8 333.5L990.9 319.2L992.9 309.7L993.7 300.2L991.9 276.4L990.7 252.6L159.5 252.6L159.5 527.1L164.3 526.5L183.6 525.7L193.3 524.6L202.9 522.4L217.4 517.6L231.9 511.7L251.2 502.7L265.7 494.7L289.8 480.1L309.1 469.7L323.6 463.2L333.2 460.2L342.9 458.6L347.7 458.4L352.5 458.6L362.2 460.1L376.7 464.2L393.8 471.4L402.5 476.2L410.4 481.5L415.5 485.7L424.6 495.2L431.7 504.7L440.8 519L448.7 533.3L455.7 547.5L463.9 566.6L471.3 585.6L479.1 609.4L487.6 637.9L490.9 652.2L492.2 661.7L493 685.5L493.6 690.2Z" fill="#8cc63f"/>
<path d="M665.2 618.9L671 619.9L680.7 620.5L690.3 619.6L695.2 618.6L704.8 615.3L714.5 610.8L729 602.7L738.6 596.4L748.3 589L769.2 571.3L825.5 526.6L844.8 510.1L878.6 478.8L893 464.2L907.5 448.4L922 431.2L931.6 418.7L941.3 405L953.7 385.8L965.4 365.3L971.7 352.5L979.9 333.2L986.7 314.4L988.5 304.9L988.5 295.4L986.8 276.4L985.7 252.6L159.5 252.6L159.5 475.1L193.3 470L202.9 467.5L217.4 462.8L236.7 455.5L251.2 449.5L293.4 428.6L305.3 423.8L318.8 419.6L333.2 416.7L342.9 416.2L352.5 417.3L362.2 419.6L415.3 437.8L434.6 443.6L445.1 447.6L453.6 452.4L466.1 461.9L509.7 500L523.8 514.2L545.6 538.5L564.9 559L579.3 573.1L589 581.3L598.7 588.6L608.3 595L627.6 606.1L637.3 610.5L646.9 614.1L656.6 617L665.2 618.9Z" fill="#9ccb3c"/>
<path d="M703.1 519L724.1 520.1L733.8 519.9L743.4 519L753.1 517.2L762.7 514.5L772.4 511.5L786.9 505.8L815.8 492.7L835.1 482.2L849.6 472.5L878.6 451.6L888.2 444.2L897.9 435.5L912.3 420.5L922 409.3L929.5 400.1L943.6 381L959.2 357.3L964.7 347.7L979.3 319.2L982.7 309.7L983.6 304.9L983.8 300.2L981.8 276.4L980.8 252.6L159.5 252.6L159.5 440.1L183.6 437.7L193.3 436.3L202.9 434.2L217.4 430L235.3 423.8L251.2 417.7L285 401.9L294.6 398L313.9 391.9L328.4 389L338.1 388.1L347.7 388.2L357.4 389.3L371.8 392.2L420.1 404L482.8 416.5L497.3 420.1L509.4 423.8L520.6 428.6L529.3 433.4L551.4 447.6L589 473.7L613.1 488.1L637.3 500.9L656.6 509.3L671 514L685.5 517L703.1 519Z" fill="#b4d334"/>
<path d="M729.6 476.2L743.4 477.5L753.1 477.6L772.4 476L786.9 473.4L796.5 471L815.8 464.4L839.9 453.4L854.4 445.7L864.1 439.9L878.6 430.3L888.2 423.1L907.5 406.6L917.2 397.4L926.8 387.2L941.3 369.7L950.9 356.2L959.6 343L970.2 325.2L975.9 314.4L978.7 304.9L979.1 300.2L976.8 276.4L975.8 252.6L159.5 252.6L159.5 413.4L183.6 412.3L193.3 411.2L202.9 409.2L212.6 406.4L246.4 393.7L260.8 387L280.4 376.3L294.6 370.2L306.1 366.8L318.8 364.2L328.4 362.8L342.9 362.3L352.5 363L367 365.2L410.4 373.9L434.6 378L468.4 382L511 385.8L521.4 387.7L532.8 390.6L545.6 394.9L556.9 400.1L618 437.4L637.3 447.4L661.4 458.5L675.9 464.3L690.3 468.5L709.6 472.8L729.6 476.2Z" fill="#d6de2c"/>
<path d="M731.1 442.9L743.4 445.1L753.1 446.2L772.4 446.6L791.7 444.8L811 440.7L835.1 432.7L849.6 426.8L859.3 422.2L868.9 417.1L883.4 408.3L893 401.7L902.7 394.3L918.2 381L926.8 372.8L936.5 362.4L946.1 350.3L955.8 337L964.7 324L970.5 314.4L972.2 309.7L974.1 300.2L972 281.1L970.7 257.4L970.9 252.6L159.5 252.6L159.5 390L178.8 390L198.1 389.4L217.4 387.8L231.9 385.8L241.5 383.3L247.5 381L256.3 376.3L280.1 361.4L289.8 356.7L299.4 353L313.9 348.7L328.4 345.8L342.9 344.8L352.5 345.2L371.8 347.9L424.9 358.1L449.1 361.5L463.5 362.7L478 363.2L511.8 361.8L526.3 361.9L540.7 363.2L550.4 365.3L560 368.6L574.5 375.4L589 383.2L613.1 397.9L622.8 403.2L642.1 413L661.4 421.8L675.9 427.5L690.3 432.2L714.5 439L731.1 442.9Z" fill="#f0e620"/>
<path d="M737.8 419.1L757.9 421.3L782 421.5L791.7 420.9L806.2 419.2L825.5 415.4L844.8 409.5L864.1 401.3L878.6 393.8L888.2 388.1L907.5 375.6L922 364.4L931.6 355.5L938.8 347.7L950.2 333.5L960.3 319.2L965.4 310.3L967.5 300.2L966.8 295.4L965.9 281.1L965.8 257.4L966.3 252.6L159.5 252.6L159.5 368.6L202.9 366.6L217.4 365.3L227.1 363.6L236.7 360.9L241.5 359L274.8 343L289.8 336.9L300.9 333.5L313.9 330.2L328.4 327.5L338.1 326.4L347.7 326.3L357.4 327.1L381.5 331.3L424.9 339.9L439.4 342.2L453.9 343.6L478 343.6L526.3 339.1L535.9 338.8L545.6 339.3L550.4 340.1L560 342.8L574.5 349L589 356.6L613.1 371.3L622.8 376.7L656.6 393.5L675.9 402.3L690.3 407.3L704.8 411.5L724.1 416.3L737.8 419.1Z" fill="#f6e418"/>
<path d="M783.5 395.3L796.5 396.5L806.2 396.5L815.8 395.8L835.1 392.8L854.4 388.6L873.7 383.2L888.2 378L902.7 370.9L917.2 361.3L927.2 352.5L935.7 343L945.6 328.7L950.4 319.2L955 304.9L955.3 300.2L956.9 295.4L957.3 290.7L959 281.1L961.9 252.6L159.5 252.6L159.5 355L198.1 353.5L212.6 351.6L227.1 348.5L241.5 343.1L265.7 330.5L285 321.9L294.6 318.4L323.6 309.3L333.2 306.6L342.9 304.7L352.5 304.1L357.4 304.5L362.2 305.8L381.5 312.8L405.6 319.3L424.9 322.9L444.2 324.8L458.7 325L478 323.8L526.3 317.2L545.6 315.2L550.4 315.4L555.2 316L564.9 318.3L569.7 320.1L577.6 324L584.9 328.7L617.5 352.5L631.6 362L648.4 371.5L661.4 377.5L675.9 383.2L683.7 385.8L695.2 388.8L704.8 390.7L714.5 392L733.8 393.3L762.7 393.4L783.5 395.3Z" fill="#f7d21c"/>
<path d="M764.1 371.5L825.5 374.9L849.6 375.2L864.1 374.7L873.7 373.6L883.4 371.4L896.2 366.8L907.5 361.1L919.6 352.5L926.8 345.4L936.2 333.5L941.8 324L945.7 314.4L948.5 304.9L953.7 281.1L957.9 252.6L159.5 252.6L159.5 341.8L183.6 341.1L198.1 340.1L212.6 337.7L222.2 335.4L231.9 332.2L241.5 328.2L270.5 313.5L289.8 304.9L304.3 300.1L320 295.4L333.2 292.6L342.9 291.5L352.5 291.2L367 292.4L420.1 303.3L434.6 305.1L453.9 306.2L473.2 306L526.3 303.9L550.4 300.7L564.9 300.1L574.5 300.5L584.2 301.8L603.5 306.1L608.3 305.4L613.6 300.2L618 298.8L622.8 298.1L627.6 298.3L632.4 299.7L637.3 303.1L638.7 304.9L640 309.7L638.9 314.4L638.6 319.2L642.1 322.3L644.5 324L654 328.7L680.7 345.8L690.3 350.9L709.6 360L724.1 365.2L733.8 367.7L743.4 369.4L764.1 371.5Z" fill="#f4c21e"/>
<path d="M821.1 362L839.9 363.7L859.3 364.3L868.9 364L878.6 362.7L888.2 360.4L902.7 354.8L907.5 352.4L917.2 345.9L922 341.9L926.8 336.9L931.6 331L936.5 323.5L941.3 312.7L945 300.2L949.4 281.1L953.9 252.6L159.5 252.6L159.5 329.3L202.9 325.4L217.4 323.1L227.1 320.8L246.4 313.8L256 309.2L275.3 298.7L294.6 290.5L308.3 285.9L318.8 283.1L338.1 279.5L352.5 278.3L371.8 278.6L386.3 279.8L420.1 284L439.4 285.9L458.7 287L478 287.3L516.6 286.3L569.7 280.7L589 279.6L603.5 279.7L613.1 280.5L622.8 282.2L632.4 285.3L637.3 287.6L642.1 290.9L646.4 295.4L649.1 300.2L650.5 304.9L651.7 307.2L654.2 309.7L656.6 311.1L674.9 319.2L704.8 334.5L719.3 340.9L738.6 347.1L757.9 351.8L796.5 358.7L821.1 362Z" fill="#f5ad22"/>
<path d="M831.8 352.5L844.8 353.9L859.3 354.3L868.9 354L878.6 352.8L888.2 350.6L902.7 345.4L912.3 340.2L917.2 336.9L922 332.8L929.6 324L932.7 319.2L937.4 309.7L940.8 300.2L943.4 290.7L946.3 276.4L950 252.6L159.5 252.6L159.5 318.5L174 317.9L188.5 316.5L201.7 314.4L212.6 312L241.5 302.5L251.2 298.1L275.3 285.9L294.6 277.9L304.3 274.7L318.8 270.7L328.4 268.6L342.9 266.3L362.2 264.6L381.5 264.3L449.1 267.1L482.8 267.3L511.8 266.2L564.9 262L579.3 261.6L593.8 261.8L608.3 263.2L622.8 265.9L632.4 268.8L642.1 272.9L648.1 276.4L654.5 281.1L659.3 285.9L666.6 295.4L671 300.1L675.9 303.3L704.8 318.2L724.1 326.5L738.6 331.6L757.9 336.8L801.3 346.9L820.6 350.8L831.8 352.5Z" fill="#f49d22"/>
<path d="M834.8 343L849.6 344.4L864.1 344.9L873.7 344.3L883.4 343L893 340.2L902.7 336.4L912.3 330.9L917.2 327.2L922 322.7L928.8 314.4L931.6 309.8L936.2 300.2L940.2 285.9L944.6 262.1L946 252.6L638.7 252.6L651.7 257.9L659.7 262.1L667 266.9L673.1 271.6L678.2 276.4L691.2 290.7L701.1 300.2L707 304.9L715.4 309.7L726.8 314.4L738.6 318.6L767.6 325.5L801.3 336.3L815.8 339.8L834.8 343ZM159.5 309.7L159.5 310.8L169.1 311.4L174 311.3L182.7 309.7L198.7 304.9L213.1 300.2L231.9 293L275.3 272.7L294.6 265.1L318.8 258L333.2 254.8L346.3 252.6L159.5 252.6L159.5 309.7Z" fill="#f58d22"/>
<path d="M838.5 333.5L849.6 334.7L864.1 335.1L873.7 334.3L883.4 332.6L893 330.1L902.7 326.4L912.3 321.1L917.2 317.4L922 312.9L926.8 306.2L930.2 300.2L935.8 285.9L936.4 281.1L940.9 262.1L942.2 252.6L685.9 252.6L700.1 262.1L719.3 276.2L729 282.3L738.6 286.7L753.1 291.4L762.7 295.4L779.7 309.7L786.4 314.4L796.5 320.7L803 324L815.8 328.7L825.5 331.1L838.5 333.5ZM159.5 300.2L159.5 303L169.1 303.8L174 303.3L183.6 300.2L218 285.9L270.5 261.1L292.2 252.6L159.5 252.6L159.5 300.2Z" fill="#f47d23"/>
<path d="M829.7 319.2L839.9 321.5L849.6 322.9L859.3 323.7L873.7 323.5L883.4 322.5L893 320.5L902.7 317.3L908.4 314.4L912.3 312L917.2 308L922 302.3L931.3 285.9L932.3 281.1L935.3 271.6L936 266.9L937.7 262.1L938.9 252.6L734.6 252.6L762.7 268.5L772.4 274.7L777.2 278.4L782 283L788.1 290.7L796.5 299.9L806.2 308.3L811 311.6L815.8 314.2L820.6 316.3L829.7 319.2ZM159.5 290.7L159.5 292.1L169.1 291.3L174 290.3L183.6 287.1L207.9 276.4L256.7 252.6L159.5 252.6L159.5 290.7Z" fill="#f27024"/>
<path d="M838.9 309.7L849.6 311.9L859.3 313.3L868.9 314L878.6 314.2L888.2 313.5L893 312.5L902.7 309.2L907.5 306.8L912.3 303.5L917.2 299.3L922 293.4L927.1 285.9L932.2 271.6L934.7 262.1L935.5 257.4L935.6 252.6L774.2 252.6L784.6 262.1L791.7 270.4L795.2 276.4L799.1 285.9L801.3 289.7L806.2 294.5L813.8 300.2L820.6 303.6L830.3 307.3L838.9 309.7ZM159.5 276.4L159.5 277.6L164.3 276.7L174 274.3L181.7 271.6L198.1 264.7L223.1 252.6L159.5 252.6L159.5 276.4Z" fill="#ef6626"/>
<path d="M861 304.9L868.9 305.9L878.6 306.4L888.2 305.7L897.9 303.5L902.7 301.6L912.3 295.9L917.2 291.7L922 286.4L925.1 281.1L930.7 266.9L932.7 257.4L932.5 252.6L800.6 252.6L806.2 261.1L809.3 266.9L814.3 281.1L817.1 285.9L820.6 289.3L830.1 295.4L839.9 299.7L849.6 302.6L861 304.9ZM159.5 257.4L159.5 260.2L170 257.4L183.4 252.6L159.5 252.6L159.5 257.4Z" fill="#ee5d27"/>
<path d="M856.1 295.4L868.9 298.3L883.4 299L893 297.6L897.9 296.3L907.5 291.9L912.3 288.9L917.2 284.9L922 278.8L927.7 266.9L929.5 257.4L928.8 252.6L821.7 252.6L825.5 262.5L829.8 276.4L833 281.1L838.1 285.9L845.1 290.7L856.1 295.4Z" fill="#ec5328"/>
<path d="M873 290.7L883.4 291.2L893 290L902.7 286.8L907.5 284.5L912.3 281.4L917.2 276.7L923.4 266.9L925.5 257.4L923.9 252.6L841.5 252.6L840.2 257.4L840.5 262.1L842.4 271.6L845.2 276.4L854.4 284.2L859.3 287L864.1 288.8L873 290.7Z" fill="#ea4828"/>
<path d="M865.7 281.1L873.7 282.8L883.4 283L893 281.6L897.9 279.8L903.9 276.4L908.2 271.6L914.2 266.9L917.2 263L917.8 257.4L917.2 256.3L912.3 252.7L902 252.6L897.9 256.1L894.6 257.4L873.7 257.6L868.9 258.2L864.1 259.5L859.3 261.9L854.4 266L853.9 266.9L853.6 271.6L859.3 277.5L865.7 281.1Z" fill="#e83e28"/>
<path d="M1317.7 310L1303.2 307.3L1293.6 306.3L1216.4 303.9L1192.2 302.1L1180.5 300.2L1177.8 299L1172.7 295.4L1165.4 285.9L1139.2 258.1L1136 252.6M1317.7 344.6L1269.5 336.2L1245.3 331.4L1177.8 316.3L1152.3 309.7L1145.1 304.9L1141.3 300.2L1138.3 295.4L1133.5 285.9L1128.1 276.4L1115.9 257.4L1114.9 252.6M1317.7 392.5L1274.3 376.5L1249.8 366.8L1227.4 357.3L1176.7 333.5L1144 319L1134.7 314.4L1126.5 309.7L1120.3 304.9L1116.2 300.2L1114.4 295.4L1111.9 281.1L1108.8 271.6L1104.5 262.1L1102.9 257.4L1102.4 252.6M1317.7 454.2L1292.7 428.6L1282 419.1L1269.5 409.6L1232.8 385.8L1177.8 354.1L1124.7 321.9L1115 315.4L1110.2 311.5L1104 304.9L1101.1 300.2L1100 295.4L1099.3 285.9L1097.9 276.4L1092.8 257.4L1092.4 252.6M1317.7 540.2L1297.7 514.2L1286.2 500L1265 476.2L1247.1 457.1L1228.4 438.1L1208.4 419.1L1177.8 391.4L1143.1 362L1133.2 352.5L1115 333.3L1100.5 316.4L1095.3 309.7L1092.3 304.9L1090.1 300.2L1089.2 295.4L1087.9 276.4L1084.1 257.4L1083.8 252.6M1310 690.2L1306.5 642.7L1304.4 628.4L1301.1 614.1L1295.3 595.1L1286.4 571.3L1278.1 552.3L1266.3 528.5L1252.7 504.7L1240.2 485.7L1226.2 466.7L1210.9 447.6L1198.7 433.4L1181.2 414.3L1139.2 373.4L1123.3 357.3L1105.4 336.9L1090.9 318.1L1085.3 309.7L1082.6 304.9L1080.7 300.2L1080 295.4L1079.4 276.4L1076.4 257.8L1076.1 252.6M1273.3 690.2L1269.8 642.7L1267.7 628.4L1265.6 618.9L1260.1 599.8L1253.2 580.8L1243.4 557L1232.8 533.3L1223.5 514.2L1213.1 495.2L1201.5 476.2L1188.6 457.1L1174.8 438.1L1156.3 414.3L1119.9 372.6L1105.4 354.7L1090.9 334.3L1081.2 318.8L1074.1 304.9L1072.6 300.2L1072 295.4L1071.6 276.4L1068.9 252.6M1236.7 690.2L1233.1 642.7L1231 628.4L1228.9 618.9L1223.1 599.8L1206.7 556.6L1188.5 504.7L1182.5 490.4L1177.7 480.9L1172.4 471.4L1163.4 457.1L1133.5 414.3L1108.6 381L1095.7 362.9L1086.1 347.3L1076.4 329.3L1067.7 309.7L1064.8 300.2L1064.3 295.4L1064 276.4L1061.8 252.6M1200.1 690.2L1197.3 642.7L1194.2 618.9L1191.4 604.6L1186.7 585.6L1181.3 566.6L1173.8 542.8L1167.2 523.7L1159.8 504.7L1153.5 490.4L1146.6 476.2L1117.1 423.8L1081.2 362.2L1074.1 347.7L1066.8 331L1059.1 309.7L1056.8 300.2L1056.5 276.4L1054.8 252.6M1166.6 690.2L1163.7 642.7L1161 618.9L1155.2 585.6L1147.2 552.3L1137 519L1128.6 495.2L1121.3 476.2L1098.5 423.8L1071.2 366.8L1061.9 344.4L1057.1 330.6L1051 309.7L1049.1 300.2L1049 276.4L1047.8 252.6M1133.4 690.2L1131.5 642.7L1129.5 618.9L1124.4 580.8L1118.1 547.5L1108.8 509.5L1096.2 466.7L1081.8 423.8L1058.4 362L1053.8 347.7L1048.3 328.7L1043.9 309.7L1042.3 300.2L1041.9 276.4L1040.8 252.6" fill="none" stroke="#181a7c" stroke-width="1.3" stroke-opacity="0.75"/>
<path d="M1103.3 690.2L1101 637.9L1098.5 604.6L1095.2 571.3L1090.5 538L1083.7 500L1077.4 471.4L1064 419.1L1048 362L1040.4 328.7L1037 309.7L1035.8 300.2L1033.9 252.6M1073.3 690.2L1072.4 642.7L1071.1 614.1L1068.3 576.1L1062.3 509.5L1057.6 471.4L1051.6 433.4L1047.2 409.6L1037.5 362L1033.7 338.2L1029.4 300.2L1027.3 257.4L1027.4 252.6M1043.3 690.2L1042.6 618.9L1039.3 490.4L1037.5 466.7L1026.9 357.3L1023.2 300.2L1021.2 257.4L1021.4 252.6M1013.3 690.2L1018.4 495.2L1019.3 428.6L1018.3 304.9L1015.8 257.4L1015.9 252.6M981.6 690.2L983.7 642.7L985.4 618.9L1001.5 490.4L1006.1 447.6L1008.9 414.3L1012.1 347.7L1013.2 309.7L1013.2 300.2L1010.7 252.6M948.3 690.2L951.7 637.9L953.3 623.6L956.4 604.6L967.7 552.3L984.7 483.8L994.4 436.5L999.2 405.8L1004.7 357.3L1008.2 309.7L1008.2 295.4L1005.7 252.6M911.6 690.2L913.7 652.2L915.3 633.1L918.3 614.1L923.6 590.3L930.2 566.6L936.5 547.5L960.6 485.9L975.1 443.7L984.7 410.6L989.6 390.6L994.4 367.6L1000.2 333.5L1003.4 304.9L1003.4 295.4L1000.7 252.6M264.8 690.2L265.6 652.2L267 637.9L268.9 628.4L271.7 618.9L275.4 609.4L280.2 599.8L292.7 580.8L307.3 557L313.9 548.7L319.3 542.8L333.2 529.9L342 523.7L347.7 521.7L352.5 520.8L357.4 520.6L362.2 521.5L368.2 523.7L374.9 528.5L379.2 533.3L382.8 538L388.4 547.5L392.9 557L396.6 566.6L401.9 585.6L405.5 604.6L408.3 623.6L410.7 647.4L413.3 690.2M868.3 690.2L869.7 656.9L870.6 647.4L873 633.1L876.2 618.9L880.1 604.6L890.8 571.3L899.8 547.5L912.3 518.5L943.3 457.1L968.4 404.8L982 371.5L989.6 347.7L995.5 324L998.5 304.9L998.5 295.4L996.9 276.4L995.7 252.6M809.7 690.2L810.6 685.5L811.7 666.4L814.3 652.2L821.3 628.4L824.5 618.9L828.5 609.4L867 542.8L907.5 481.4L950.9 411.1L965.4 385.4L975.1 365.2L979.9 353.3L986.8 333.5L990.9 319.2L992.9 309.7L993.7 300.2L991.9 276.4L990.7 252.6M159.5 527.1L164.3 526.5L183.6 525.7L193.3 524.6L202.9 522.4L217.4 517.6L231.9 511.7L251.2 502.7L265.7 494.7L289.8 480.1L309.1 469.7L323.6 463.2L333.2 460.2L342.9 458.6L347.7 458.4L352.5 458.6L362.2 460.1L376.7 464.2L393.8 471.4L402.5 476.2L410.4 481.5L415.5 485.7L424.6 495.2L431.7 504.7L440.8 519L448.7 533.3L455.7 547.5L463.9 566.6L471.3 585.6L479.1 609.4L487.6 637.9L490.9 652.2L492.2 661.7L493 685.5L493.6 690.2M159.5 475.1L193.3 470L202.9 467.5L217.4 462.8L236.7 455.5L251.2 449.5L293.4 428.6L305.3 423.8L318.8 419.6L328.4 417.4L338.1 416.3L347.7 416.6L360.5 419.1L415.3 437.8L434.6 443.6L445.1 447.6L453.9 452.6L466.1 461.9L504.5 495.2L514.7 504.7L523.8 514.2L555.2 548.9L569.7 563.9L579.3 573.1L593.8 585L613.1 598L627.6 606.1L637.3 610.5L646.9 614.1L656.6 617L666.2 619.1L675.9 620.4L685.5 620.3L695.2 618.6L704.8 615.3L714.5 610.8L729 602.7L738.6 596.4L748.3 589L769.2 571.3L830.3 522.6L854.4 501.5L883.4 474L902.7 453.8L922 431.2L931.6 418.7L941.3 405L960.6 374.1L965.4 365.3L971.7 352.5L984.7 320.6L987.8 309.7L988.7 300.2L986.8 276.4L985.7 252.6M159.5 440.1L183.6 437.7L193.3 436.3L202.9 434.2L217.4 430L247.8 419.1L258.9 414.3L285 401.9L294.6 398L309.1 393.2L323.6 389.8L333.2 388.4L342.9 388L352.5 388.7L371.8 392.2L424.9 405.1L482.8 416.5L502.1 421.5L511.8 424.8L521.4 429L535.9 437.5L558.3 452.4L584.2 470.5L613.1 488.1L627.6 496L642.1 503.2L651.7 507.4L666.2 512.6L675.9 515.2L685.5 517L700 518.7L714.5 519.8L733.8 519.9L743.4 519L753.1 517.2L772.4 511.5L786.9 505.8L815.8 492.7L835.1 482.2L849.6 472.5L888.2 444.2L902.7 430.7L917.2 415L926.8 403.4L936.5 390.8L953.1 366.8L964.7 347.7L974.7 328.7L981.3 314.4L983.6 304.9L983.8 300.2L981.8 276.4L980.8 252.6" fill="none" stroke="#06602a" stroke-width="1.4" stroke-opacity="0.7"/>
<path d="M159.5 413.4L183.6 412.3L193.3 411.2L202.9 409.2L212.6 406.4L246.4 393.7L260.8 387L280.4 376.3L294.6 370.2L306.1 366.8L318.8 364.2L328.4 362.8L342.9 362.3L352.5 363L367 365.2L410.4 373.9L434.6 378L468.4 382L511 385.8L531.1 390.1L545.6 394.9L556.9 400.1L569.7 407.6L608.3 431.7L622.8 440L651.7 454.2L666.2 460.6L675.9 464.3L690.3 468.5L709.6 472.8L724.1 475.4L738.6 477.2L748.3 477.6L757.9 477.4L767.6 476.6L782 474.4L801.3 469.6L820.6 462.4L844.8 451L864.1 439.9L883.4 426.8L897.9 415.2L917.2 397.4L931.6 381.7L941.3 369.7L953.4 352.5L968.2 328.7L975.9 314.4L978.7 304.9L979.1 300.2L976.8 276.4L975.8 252.6M159.5 390L178.8 390L198.1 389.4L217.4 387.8L231.9 385.8L241.5 383.3L247.5 381L256.3 376.3L280.1 361.4L289.8 356.7L299.4 353L313.9 348.7L328.4 345.8L342.9 344.8L352.5 345.2L371.8 347.9L424.9 358.1L449.1 361.5L463.5 362.7L478 363.2L521.4 361.7L535.9 362.6L545.6 364.1L555.3 366.8L569.7 372.9L585.2 381L618 400.6L642.1 413L666.2 423.8L685.5 430.7L704.8 436.4L724.1 441.4L738.6 444.4L748.3 445.7L757.9 446.5L772.4 446.6L786.9 445.5L796.5 444L815.8 439.3L835.1 432.7L854.4 424.5L873.7 414.3L888.2 405.1L907.4 390.6L917.2 382L926.8 372.8L936.5 362.4L946.1 350.3L964.7 324L970.5 314.4L972.2 309.7L974.1 300.2L972 281.1L970.7 257.4L970.9 252.6M159.5 368.6L202.9 366.6L217.4 365.3L227.1 363.6L236.7 360.9L241.5 359L274.8 343L289.8 336.9L300.9 333.5L313.9 330.2L328.4 327.5L338.1 326.4L347.7 326.3L357.4 327.1L381.5 331.3L424.9 339.9L439.4 342.2L453.9 343.6L478 343.6L526.3 339.1L540.7 338.9L550.4 340.1L555.2 341.3L569.7 346.7L589 356.6L613.1 371.3L627.6 379.3L666.2 398.1L675.9 402.3L690.3 407.3L704.8 411.5L724.1 416.3L738.6 419.2L748.3 420.5L762.7 421.5L777.2 421.6L791.7 420.9L806.2 419.2L825.5 415.4L839.9 411.2L854.4 405.7L868.9 398.9L888.2 388.1L907.5 375.6L922 364.4L931.6 355.5L941.3 344.8L950.2 333.5L960.3 319.2L965.7 309.7L967.5 300.2L966.8 295.4L965.9 281.1L965.8 257.4L966.3 252.6M159.5 355L198.1 353.5L212.6 351.6L227.1 348.5L241.5 343.1L265.7 330.5L285 321.9L294.6 318.4L323.6 309.3L333.2 306.6L342.9 304.7L352.5 304.1L357.4 304.5L362.2 305.8L381.5 312.8L405.6 319.3L424.9 322.9L444.2 324.8L458.7 325L478 323.8L526.3 317.2L545.6 315.2L550.4 315.4L555.2 316L564.9 318.3L574.5 322.3L584.9 328.7L624.2 357.3L639.6 366.8L658.4 376.3L669.8 381L683.7 385.8L704.8 390.7L724.1 392.8L738.6 393.4L762.7 393.4L796.5 396.5L811 396.2L820.6 395.2L839.9 391.9L859.3 387.4L873.7 383.2L888.2 378L902.7 370.9L907.5 367.9L917.2 361.3L927.2 352.5L935.7 343L945.6 328.7L950.4 319.2L952.1 314.4L955 304.9L955.3 300.2L956.9 295.4L957.3 290.7L959 281.1L961.9 252.6M159.5 341.8L183.6 341.1L198.1 340.1L212.6 337.7L222.2 335.4L231.9 332.2L241.5 328.2L270.5 313.5L289.8 304.9L304.3 300.1L320 295.4L333.2 292.6L342.9 291.5L352.5 291.2L367 292.4L420.1 303.3L434.6 305.1L453.9 306.2L473.2 306L526.3 303.9L550.4 300.7L564.9 300.1L574.5 300.5L584.2 301.8L603.5 306.1L608.3 305.4L613.6 300.2L618 298.8L622.8 298.1L627.6 298.3L632.4 299.7L637.3 303.1L638.7 304.9L640 309.7L638.9 314.4L638.6 319.2L644.5 324L654 328.7L671 340L680.7 345.8L690.3 350.9L709.6 360L724.1 365.2L733.8 367.7L743.4 369.4L757.9 371L777.2 372.4L830.3 375L854.4 375.1L868.9 374.3L878.6 372.6L888.2 369.8L897.9 366.1L905.9 362L912.3 358L919.6 352.5L926.8 345.4L932.8 338.2L939.2 328.7L941.8 324L945.7 314.4L948.5 304.9L953.7 281.1L957.9 252.6M159.5 329.3L202.9 325.4L217.4 323.1L227.1 320.8L246.4 313.8L256 309.2L275.3 298.7L294.6 290.5L308.3 285.9L318.8 283.1L338.1 279.5L352.5 278.3L371.8 278.6L386.3 279.8L420.1 284L439.4 285.9L458.7 287L478 287.3L516.6 286.3L569.7 280.7L589 279.6L603.5 279.7L613.1 280.5L622.8 282.2L632.4 285.3L637.3 287.6L642.1 290.9L646.4 295.4L649.1 300.2L650.5 304.9L651.7 307.2L654.2 309.7L656.6 311.1L674.9 319.2L709.6 336.8L719.3 340.9L729 344.2L743.4 348.4L757.9 351.8L801.3 359.4L835.1 363.4L854.4 364.2L868.9 364L878.6 362.7L888.2 360.4L897.9 356.9L907.5 352.4L917.2 345.9L922 341.9L926.8 336.9L931.6 331L936.2 324L938.6 319.2L941.3 312.7L943.7 304.9L949.4 281.1L953.9 252.6M159.5 318.5L174 317.9L188.5 316.5L201.7 314.4L212.6 312L241.5 302.5L251.2 298.1L275.3 285.9L294.6 277.9L304.3 274.7L318.8 270.7L328.4 268.6L342.9 266.3L362.2 264.6L381.5 264.3L449.1 267.1L482.8 267.3L511.8 266.2L564.9 262L579.3 261.6L593.8 261.8L608.3 263.2L622.8 265.9L632.4 268.8L642.1 272.9L648.1 276.4L654.5 281.1L659.3 285.9L666.6 295.4L671 300.1L675.9 303.3L687.8 309.7L709.6 320.4L733.8 330L757.9 336.8L796.5 345.8L820.6 350.8L835.1 352.9L844.8 353.9L859.3 354.3L868.9 354L878.6 352.8L888.2 350.6L902.7 345.4L912.3 340.2L917.2 336.9L922 332.8L926.8 327.6L931.6 321L935.2 314.4L940.8 300.2L943.4 290.7L946.1 277.4L950 252.6M159.5 310.8L169.1 311.4L178.8 310.6L198.7 304.9L213.1 300.2L231.9 293L275.3 272.7L294.6 265.1L318.8 258L333.2 254.8L346.3 252.6M638.7 252.6L651.7 257.9L659.7 262.1L667 266.9L673.1 271.6L678.2 276.4L695.9 295.4L707 304.9L715.4 309.7L726.8 314.4L740.6 319.2L767.6 325.5L791.7 333.5L811 338.8L825.5 341.6L839.9 343.6L864.1 344.9L873.7 344.3L883.4 343L897.9 338.5L907.5 333.9L912.3 330.9L917.2 327.2L922 322.7L928.8 314.4L931.6 309.8L936.2 300.2L940.2 285.9L944.6 262.1L946 252.6M159.5 303L169.1 303.8L174 303.3L183.8 300.2L218 285.9L270.5 261.1L292.2 252.6M685.9 252.6L700.1 262.1L719.3 276.2L729 282.3L738.6 286.7L753.1 291.4L762.7 295.4L773.7 304.9L786.4 314.4L793.8 319.2L803 324L815.8 328.7L830.3 332.1L844.8 334.3L859.3 335.1L873.7 334.3L883.4 332.6L893 330.1L902.7 326.4L907.5 324L912.3 321.1L920.4 314.4L924.5 309.7L930.2 300.2L935.8 285.9L936.4 281.1L940.9 262.1L942.2 252.6M159.5 292.1L169.1 291.3L174 290.3L186.7 285.9L207.9 276.4L256.7 252.6M734.6 252.6L762.7 268.5L772.4 274.7L777.2 278.4L782 283L788.1 290.7L796.8 300.2L806.2 308.3L811 311.6L820.6 316.3L835.1 320.6L849.6 322.9L864.1 323.8L878.6 323L893 320.5L902.7 317.3L907.5 315L912.3 312L917.2 308L923.4 300.2L931.3 285.9L932.3 281.1L935.3 271.6L936 266.9L937.7 262.1L938.9 252.6M159.5 277.6L169.1 275.6L183.6 270.9L198.1 264.7L223.1 252.6M774.2 252.6L784.6 262.1L791.7 270.4L795.2 276.4L799.1 285.9L802 290.7L807.2 295.4L813.8 300.2L825.5 305.7L839.9 309.9L854.4 312.7L864.1 313.7L873.7 314.2L888.2 313.5L897.9 311.1L907.5 306.8L912.3 303.5L917.2 299.3L922 293.4L927.1 285.9L932.2 271.6L934.7 262.1L935.5 257.4L935.6 252.6M159.5 260.2L170 257.4L183.4 252.6M800.6 252.6L806.2 261.1L809.3 266.9L814.3 281.1L815.8 283.9L817.1 285.9L822.3 290.7L830.3 295.5L839.9 299.7L844.8 301.3L854.4 303.7L864.1 305.4L878.6 306.4L888.2 305.7L897.9 303.5L907.5 299.1L912.3 295.9L917.2 291.7L922.4 285.9L925.1 281.1L929 271.6L930.7 266.9L932.7 257.4L932.5 252.6M821.7 252.6L825.5 262.5L829.8 276.4L833 281.1L838.1 285.9L845.1 290.7L856.1 295.4L868.9 298.3L878.6 299.1L888.2 298.5L897.9 296.3L907.5 291.9L912.3 288.9L917.2 284.9L922 278.8L927.7 266.9L929.5 257.4L928.8 252.6M841.5 252.6L840.2 257.4L840.5 262.1L842.4 271.6L845.2 276.4L854.4 284.2L859.3 287L868.9 290L873.7 290.8L883.4 291.2L893 290L897.9 288.6L907.5 284.5L912.7 281.1L917.2 276.7L923.4 266.9L925.5 257.4L923.9 252.6M902 252.6L897.9 256.1L894.6 257.4L873.7 257.6L868.9 258.2L864.1 259.5L859.3 261.9L854.4 266L853.9 266.9L853.6 271.6L859.3 277.5L865.7 281.1L873.7 282.8L878.6 283.1L888.2 282.6L893 281.6L897.9 279.8L903.9 276.4L908.2 271.6L914.2 266.9L917.5 262.1L917.8 257.4L917.2 256.3L911.8 252.6" fill="none" stroke="#3a2c08" stroke-width="1.4" stroke-opacity="0.55"/>
<text class="cl" transform="translate(188.3,326.7) rotate(3)" text-anchor="middle" y="9.5" stroke="#f5ad22">0.7</text>
<text class="cl" transform="translate(213.3,388.3) rotate(3)" text-anchor="middle" y="9.5" stroke="#d6de2c">0.6</text>
<text class="cl" transform="translate(676.7,343.3) rotate(30)" text-anchor="middle" y="9.5" stroke="#f4c21e">0.675</text>
<text class="cl" transform="translate(581.7,415) rotate(30)" text-anchor="middle" y="9.5" stroke="#d6de2c">0.575</text>
<text class="cl" transform="translate(486.7,480) rotate(45)" text-anchor="middle" y="9.5" stroke="#8cc63f">0.525</text>
<text class="cl" transform="translate(293.3,583.3) rotate(-60)" text-anchor="middle" y="9.5" stroke="#6fbd45">0.475</text>
<text class="cl" transform="translate(863.3,323.3) rotate(3)" text-anchor="middle" y="9.5" stroke="#f27024">0.8</text>
<text class="cl" transform="translate(871.7,381.7) rotate(-25)" text-anchor="middle" y="9.5" stroke="#f7d21c">0.65</text>
<text class="cl" transform="translate(895,438.3) rotate(-45)" text-anchor="middle" y="9.5" stroke="#9ccb3c">0.55</text>
<text class="cl" transform="translate(961.7,483.3) rotate(-70)" text-anchor="middle" y="9.5" stroke="#66bb45">0.45</text>
<text class="cl" transform="translate(1040,490) rotate(88)" text-anchor="middle" y="9.5" stroke="#12a15c">0.35</text>
<text class="cl" transform="translate(1180,485) rotate(60)" text-anchor="middle" y="9.5" stroke="#4657b4">0.2</text>
<text class="cl" transform="translate(1240,390) rotate(30)" text-anchor="middle" y="9.5" stroke="#625ebb">0.1</text>
<text class="cl" transform="translate(1263.3,335) rotate(12)" text-anchor="middle" y="9.5" stroke="#7866c2">0.05</text>
<text class="cl" transform="translate(840,590) rotate(-60)" text-anchor="middle" y="9.5" stroke="#7ac043">0.5</text>
<text class="cl" transform="translate(880,266.2) rotate(3)" text-anchor="middle" y="9.5" stroke="none">0.9</text>
<text class="cl" transform="translate(941.2,282.5) rotate(-75)" text-anchor="middle" y="9.5" stroke="none">0.75</text>
</g>
<path d="M162.9 307.4H1315.1" stroke="#0d0d0d" stroke-width="4.3" fill="none"/>
<path d="M738.7 308.9L843.2 255.9L1104.5 255.9L1184.8 308.9" stroke="#0d0d0d" stroke-width="4.2" fill="none" stroke-linejoin="miter"/>
<rect x="935.4" y="13.6" width="131.3" height="242.3" fill="#d2d5d5" stroke="#0d0d0d" stroke-width="3.6"/>
<text class="cai" transform="translate(1023.5,132.5) rotate(-90)" text-anchor="middle" textLength="194" lengthAdjust="spacingAndGlyphs">Caisson</text>
<path d="M143.8 677.3H160.4" stroke="#9c9c9c" stroke-width="2.8"/><path d="M152.6 640.4H160.4" stroke="#bdbdbd" stroke-width="1.8"/><path d="M152.6 603.4H160.4" stroke="#bdbdbd" stroke-width="1.8"/><path d="M152.6 566.5H160.4" stroke="#bdbdbd" stroke-width="1.8"/><path d="M152.6 529.6H160.4" stroke="#bdbdbd" stroke-width="1.8"/><path d="M143.8 492.6H160.4" stroke="#9c9c9c" stroke-width="2.8"/><path d="M152.6 455.7H160.4" stroke="#bdbdbd" stroke-width="1.8"/><path d="M152.6 418.8H160.4" stroke="#bdbdbd" stroke-width="1.8"/><path d="M152.6 381.9H160.4" stroke="#bdbdbd" stroke-width="1.8"/><path d="M152.6 344.9H160.4" stroke="#bdbdbd" stroke-width="1.8"/><path d="M143.8 308H160.4" stroke="#9c9c9c" stroke-width="2.8"/><path d="M152.6 271.1H160.4" stroke="#bdbdbd" stroke-width="1.8"/><path d="M152.6 234.1H160.4" stroke="#bdbdbd" stroke-width="1.8"/><path d="M152.6 197.2H160.4" stroke="#bdbdbd" stroke-width="1.8"/><path d="M152.6 160.3H160.4" stroke="#bdbdbd" stroke-width="1.8"/><path d="M143.8 123.3H160.4" stroke="#9c9c9c" stroke-width="2.8"/><path d="M152.6 86.4H160.4" stroke="#bdbdbd" stroke-width="1.8"/><path d="M152.6 49.5H160.4" stroke="#bdbdbd" stroke-width="1.8"/><path d="M152.6 12.6H160.4" stroke="#bdbdbd" stroke-width="1.8"/><path d="M172.7 689V704.5" stroke="#9c9c9c" stroke-width="2.8"/><path d="M210.4 689V696.5" stroke="#bdbdbd" stroke-width="1.8"/><path d="M248.2 689V696.5" stroke="#bdbdbd" stroke-width="1.8"/><path d="M285.9 689V696.5" stroke="#bdbdbd" stroke-width="1.8"/><path d="M323.6 689V696.5" stroke="#bdbdbd" stroke-width="1.8"/><path d="M361.3 689V704.5" stroke="#9c9c9c" stroke-width="2.8"/><path d="M399.1 689V696.5" stroke="#bdbdbd" stroke-width="1.8"/><path d="M436.8 689V696.5" stroke="#bdbdbd" stroke-width="1.8"/><path d="M474.5 689V696.5" stroke="#bdbdbd" stroke-width="1.8"/><path d="M512.2 689V696.5" stroke="#bdbdbd" stroke-width="1.8"/><path d="M550 689V704.5" stroke="#9c9c9c" stroke-width="2.8"/><path d="M587.7 689V696.5" stroke="#bdbdbd" stroke-width="1.8"/><path d="M625.4 689V696.5" stroke="#bdbdbd" stroke-width="1.8"/><path d="M663.2 689V696.5" stroke="#bdbdbd" stroke-width="1.8"/><path d="M700.9 689V696.5" stroke="#bdbdbd" stroke-width="1.8"/><path d="M738.6 689V704.5" stroke="#9c9c9c" stroke-width="2.8"/><path d="M776.3 689V696.5" stroke="#bdbdbd" stroke-width="1.8"/><path d="M814.1 689V696.5" stroke="#bdbdbd" stroke-width="1.8"/><path d="M851.8 689V696.5" stroke="#bdbdbd" stroke-width="1.8"/><path d="M889.5 689V696.5" stroke="#bdbdbd" stroke-width="1.8"/><path d="M927.2 689V704.5" stroke="#9c9c9c" stroke-width="2.8"/><path d="M965 689V696.5" stroke="#bdbdbd" stroke-width="1.8"/><path d="M1002.7 689V696.5" stroke="#bdbdbd" stroke-width="1.8"/><path d="M1040.4 689V696.5" stroke="#bdbdbd" stroke-width="1.8"/><path d="M1078.1 689V696.5" stroke="#bdbdbd" stroke-width="1.8"/><path d="M1115.9 689V704.5" stroke="#9c9c9c" stroke-width="2.8"/><path d="M1153.6 689V696.5" stroke="#bdbdbd" stroke-width="1.8"/><path d="M1191.3 689V696.5" stroke="#bdbdbd" stroke-width="1.8"/><path d="M1229.1 689V696.5" stroke="#bdbdbd" stroke-width="1.8"/><path d="M1266.8 689V696.5" stroke="#bdbdbd" stroke-width="1.8"/><path d="M1304.5 689V704.5" stroke="#9c9c9c" stroke-width="2.8"/>
<text class="tk" transform="translate(132.5,690.8) scale(0.94,1)" text-anchor="end">0</text>
<text class="tk" transform="translate(132.5,506.1) scale(0.94,1)" text-anchor="end">0.5</text>
<text class="tk" transform="translate(132.5,321.5) scale(0.94,1)" text-anchor="end">1</text>
<text class="tk" transform="translate(132.5,136.8) scale(0.94,1)" text-anchor="end">1.5</text>
<text class="tk" transform="translate(172.4,743.4) scale(0.94,1)" text-anchor="middle">22.5</text>
<text class="tk" transform="translate(361,743.4) scale(0.94,1)" text-anchor="middle">23</text>
<text class="tk" transform="translate(549.7,743.4) scale(0.94,1)" text-anchor="middle">23.5</text>
<text class="tk" transform="translate(738.3,743.4) scale(0.94,1)" text-anchor="middle">24</text>
<text class="tk" transform="translate(926.9,743.4) scale(0.94,1)" text-anchor="middle">24.5</text>
<text class="tk" transform="translate(1115.6,743.4) scale(0.94,1)" text-anchor="middle">25</text>
<text class="tk" transform="translate(1304.2,743.4) scale(0.94,1)" text-anchor="middle">25.5</text>
<text class="ax" x="737.6" y="830.9" text-anchor="middle">X(m)</text>
<text class="ax" transform="translate(42.5,346.2) rotate(-90)" text-anchor="middle">Z(m)</text>
<path d="M164 16.8H255" stroke="#3f50b2" stroke-width="2.9" fill="none"/><path d="M266.3 16.8L248 9.2L251.5 16.8L248 24.4Z" fill="#3f50b2"/>
<text class="wv" x="172.6" y="59.8" textLength="88.5" lengthAdjust="spacingAndGlyphs">Wave</text>
</g>
<g transform="translate(1936.8,1857.4)"><text class="cap" transform="translate(5.4,0) scale(0.70,1)">(b)</text><text class="capi" transform="translate(85.5,0) scale(1.12,1)">T</text><text class="caps" x="127.9" y="14.2">1<tspan style="font-size:50px" dy="3" dx="-2">/</tspan><tspan dy="-3" dx="-2">3</tspan></text><text class="cap" transform="translate(188.4,0) scale(0.755,1)">=1.5s</text></g>
<g transform="translate(0,1894.6)">
<rect x="162.9" y="4.9" width="1152.2" height="681.5" fill="#fff" stroke="#0d0d0d" stroke-width="5.2"/>
<clipPath id="c4"><path d="M163.4 307.4L741.7 307.4L843.2 255.9L1104.5 255.9L1181.8 307.4L1312.6 307.4L1312.6 686L163.4 686Z"/></clipPath>
<g clip-path="url(#c4)">
<rect x="163.4" y="253.9" width="1149.2" height="434.1" fill="#8169c5"/>
<path d="M159.5 690.2L1317.7 690.2L1317.7 309.1L1303.2 306.6L1293.6 305.8L1250.2 306.5L1226 305.6L1197.1 303.1L1179 300.2L1171.2 295.4L1163.1 285.9L1139.2 261L1136.1 257.4L1133.5 252.6L159.5 252.6L159.5 690.2Z" fill="#7866c2"/>
<path d="M159.5 690.2L1317.7 690.2L1317.7 349.7L1283.9 345.1L1259.8 340.4L1240.5 335.3L1201.9 324L1163.3 314.1L1148.8 309.1L1141.5 304.9L1136.5 300.2L1134.3 296.9L1127.8 281.1L1122.4 271.6L1113.4 257.4L1112.4 252.6L159.5 252.6L159.5 690.2Z" fill="#6c62be"/>
<path d="M159.5 690.2L1317.7 690.2L1317.7 394.3L1264.6 378.4L1245.3 371.5L1226 363.6L1201.9 352.5L1168.1 335.5L1144 322.5L1129.5 313.7L1119.9 306L1114.6 300.2L1112.6 295.4L1110.9 285.9L1108.4 276.4L1100.5 257.8L1099.8 252.6L159.5 252.6L159.5 690.2Z" fill="#625ebb"/>
<path d="M159.5 690.2L1317.7 690.2L1317.7 445.7L1293.6 435L1279.1 427.8L1197.1 382.7L1182.6 374.1L1172.9 367.7L1163.3 360.7L1148.8 348.9L1129.5 331.7L1115 317.6L1105.4 307.1L1100.6 300.2L1099 295.4L1096.3 276.4L1090.9 259.6L1089.8 252.6L159.5 252.6L159.5 690.2Z" fill="#595bb8"/>
<path d="M159.5 690.2L1317.7 690.2L1317.7 596.5L1313.3 576.1L1312.2 561.8L1312.9 553.4L1314 547.5L1317.7 535.7L1317.7 508.9L1293.6 499.8L1279.1 493.1L1259.8 481.9L1240.5 468.9L1221.2 453.9L1206.7 441.2L1182.6 418.2L1163.3 398.2L1144 376.2L1124.7 351.6L1105.4 324.9L1092.2 304.9L1089.9 300.2L1088.5 295.4L1087.6 290.7L1086.4 276.4L1081.6 257.4L1081.2 252.6L159.5 252.6L159.5 690.2Z" fill="#5159b6"/>
<path d="M159.5 690.2L1288.4 690.2L1281.5 652.2L1278.2 637.9L1273.4 623.6L1267.2 609.4L1251.8 580.8L1223.1 533.3L1185.3 476.2L1139.2 409.6L1124.7 386.5L1115 369.6L1095.7 332.6L1086.1 312.5L1081.2 301.2L1079 290.7L1077.9 276.4L1074.8 262.1L1073.4 252.6L159.5 252.6L159.5 690.2Z" fill="#4b58b5"/>
<path d="M159.5 690.2L1246.6 690.2L1237 647.4L1233.1 633.1L1226.6 614.1L1216.5 590.3L1202.6 561.8L1187.4 533.3L1116.7 409.6L1105.4 387.1L1098.6 371.5L1086.1 339L1073 300.2L1071.3 290.7L1069.9 276.4L1067.2 262.1L1066 252.6L159.5 252.6L159.5 690.2Z" fill="#4657b4"/>
<path d="M159.5 690.2L1200.2 690.2L1184.1 628.4L1174.9 595.1L1164.3 561.8L1152.5 528.5L1139.9 495.2L1111.5 438.1L1100.5 415.3L1090.9 392.3L1086.1 378.7L1076.4 345.6L1065.1 300.2L1058.5 252.6L159.5 252.6L159.5 690.2Z" fill="#4356b3"/>
<path d="M159.5 690.2L1163.3 690.2L1146.1 623.6L1136.8 590.3L1127.7 561.8L1110.2 510.6L1100.5 480.2L1086.1 430.9L1075.2 390.6L1066.8 352.2L1058 304.9L1051.4 257.4L1051.2 252.6L159.5 252.6L159.5 690.2Z" fill="#4154b1"/>
<path d="M159.5 690.2L1125.1 690.2L1113.2 623.6L1106.7 590.3L1074.5 452.4L1062.5 395.3L1058.5 371.5L1053.9 338.2L1046.5 276.4L1044.4 262.1L1044 252.6L159.5 252.6L159.5 690.2Z" fill="#3f52ad"/>
<path d="M159.5 690.2L1090.1 690.2L1083.9 623.6L1079.4 585.6L1061.9 479.4L1053.2 423.8L1048.5 390.6L1044.7 352.5L1040.1 290.7L1037.1 262.1L1036.8 257.4L1037.3 252.6L159.5 252.6L159.5 690.2Z" fill="#0e6bb0"/>
<path d="M159.5 690.2L1058.3 690.2L1054.1 590.3L1050.2 523.7L1046.8 480.9L1044.3 457.1L1039.4 419.1L1036.3 385.8L1035.1 357.3L1033.6 295.4L1031 257.4L1031.6 252.6L159.5 252.6L159.5 690.2Z" fill="#1b8b88"/>
<path d="M159.5 690.2L1025 690.2L1022.8 566.6L1022.8 533.3L1023.2 490.4L1026.2 395.3L1028.3 304.9L1026.5 257.4L1027 252.6L159.5 252.6L159.5 690.2Z" fill="#12a15c"/>
<path d="M159.5 690.2L990.1 690.2L991.9 618.9L998.7 519L1001 500L1008.7 457.1L1013.6 423.8L1017.5 390.6L1019.6 366.8L1023.5 300.2L1022.7 262.1L1022.9 252.6L159.5 252.6L159.5 690.2Z" fill="#2cb04c"/>
<path d="M159.5 690.2L958.3 690.2L959.4 652.2L961.3 623.6L967.2 571.3L971.9 538L975.6 519L981.4 495.2L996.4 442.9L1001.4 423.8L1008.6 390.6L1012.3 366.8L1016 333.5L1018.7 300.2L1019 252.6L159.5 252.6L159.5 690.2Z" fill="#46b549"/>
<path d="M159.5 690.2L923.3 690.2L927.7 637.9L931.6 604.6L936.1 576.1L943.4 542.8L951.3 514.2L959.1 490.4L964.9 476.2L981.7 438.1L989.6 418.5L999.9 385.8L1005.6 362L1009.6 338.2L1013.5 304.9L1014.2 290.7L1015.1 252.6L159.5 252.6L159.5 690.2Z" fill="#5ab847"/>
<path d="M159.5 690.2L884.9 690.2L887.4 656.9L891.4 633.1L900.4 595.1L905.7 576.1L913.3 552.3L924.5 523.7L939.5 490.4L980.4 409.6L989.6 387.6L996.8 366.8L1000.7 352.5L1002.8 343L1005.4 328.7L1008.6 304.9L1009.4 295.4L1011 252.6L159.5 252.6L159.5 690.2Z" fill="#66bb45"/>
<path d="M159.5 690.2L840 690.2L841.9 652.2L843 642.7L845.7 628.4L850.8 609.4L861.1 576.1L869.3 552.3L875.2 538L877.6 533.3L883.5 523.7L893 510.4L919.1 471.4L946.1 435.4L960.6 415.3L970.2 401L979.9 384.2L989.9 362L994.4 349.8L998.8 333.5L1003.7 304.9L1004.6 295.4L1006.9 252.6L159.5 252.6L159.5 690.2Z" fill="#6fbd45"/>
<path d="M159.5 690.2L786.5 690.2L787.2 666.4L788.3 656.9L790.7 642.7L795 623.6L800.7 604.6L809.1 580.8L816.7 561.8L825.3 542.8L833.1 528.5L844.8 510.4L856.1 495.2L868.9 479.5L883.4 463.6L903.9 442.9L931.6 418.2L955.8 395.5L965.4 384.3L970.2 377.7L975.1 369.9L984.7 352.8L986.7 347.7L989.2 343L990.4 338.2L992.2 333.5L996 319.2L999 304.9L999.5 300.2L1002.7 252.6L159.5 252.6L159.5 690.2Z" fill="#7ac043"/>
<path d="M228.5 690.2L685.1 690.2L685 676L685.9 666.4L689.1 656.9L693.3 647.4L703.1 628.4L711.7 614.1L721.7 599.8L736.9 580.8L750.2 566.6L767.6 551.9L782 538.2L796.5 523.7L811 507.9L872.4 438.1L878.6 432.4L897.9 418.2L917.2 403L941.3 382.5L948 376.3L955.8 370.7L959.9 366.8L967.6 357.3L970.1 352.5L979.7 338.2L984.7 329.6L991.4 314.4L994.9 300.2L996 281.1L998.5 252.6L159.5 252.6L159.5 514.6L175.1 523.7L181.2 528.5L185.6 533.3L188.5 538L195.3 552.3L211.2 576.1L215.8 585.6L219.2 595.1L221.8 604.6L225 623.6L226.6 642.7L228.5 690.2Z" fill="#8cc63f"/>
<path d="M393.3 690.2L471.8 690.2L470.4 666.4L471.5 661.7L473.2 657.5L478 648.5L492.5 625.2L512.9 595.1L523.9 580.8L532 571.3L540.9 561.8L551 552.3L557.3 547.5L564.9 543.5L569.7 541.8L574.5 540.8L584.2 540.1L593.8 540.6L637.3 545.9L651.7 547.1L661.4 547L675.9 544.9L685.5 542.2L695.2 538.9L709.6 533L729 524.4L748.7 514.2L757.9 508.7L767.6 502L782 489.8L801.1 471.4L811.7 461.9L829.3 447.6L864.1 420.7L880 409.6L907.5 392.5L938.8 371.5L946.1 368.2L950.9 365.3L954.6 362L958.3 357.3L960.6 352L970.6 338.2L979.7 324L984.7 314.4L986.6 309.7L989.6 300.2L991.7 276.4L994.2 257.4L994.2 252.6L159.5 252.6L159.5 419.9L201.3 438.1L212.6 444.3L222.2 450.5L236.9 461.9L247.8 471.4L262.5 485.7L280.1 504.7L307.4 538L322 557L335.8 576.1L358.5 609.4L381.8 647.4L392 661.7L394.4 666.4L395 671.2L393.3 690.2Z" fill="#9ccb3c"/>
<path d="M594.2 485.7L608.3 488.9L618 489.8L627.6 489.6L642.1 487.5L695.2 473.1L724.1 463.8L762.7 450.7L782 443.4L801.3 434.7L873.7 395.6L884.9 390.6L917.2 377.3L936.5 366.5L945.9 362L950.4 357.3L956 347.7L961 343L967 333.5L972 324L980.8 304.9L983.8 295.4L984.7 290.7L989.6 258.8L989.8 252.6L159.5 252.6L159.5 370L193.3 379.3L212.6 385.3L226.9 390.6L265.7 406.5L285 413.8L313.9 423.2L347.7 432.7L386.3 442.2L413 447.6L434.6 450.7L473.2 454.9L487.7 457.2L502.1 460.1L550.4 471.9L594.2 485.7Z" fill="#b4d334"/>
<path d="M624.3 452.4L632.4 453.1L642.1 453.2L656.6 451.1L706 438.1L753.1 424.6L782 415.4L801.3 408.7L872.2 381L885.2 376.3L912.3 367.6L922 363.9L937.1 357.3L941.3 354.8L943.7 352.5L947.9 347.7L953.1 343L957 338.2L962.7 328.7L973.7 304.9L977.3 295.4L979.9 284.7L984.3 262.1L985 257.4L985 252.6L159.5 252.6L159.5 338.4L178.8 340.3L197.9 343L217.4 347.3L260.8 358L275.3 360.5L285 361.5L299.4 362.1L323.6 361.7L367 358.3L381.5 357.7L391.1 358.3L400.8 360L415.3 365L434.6 373.9L449.1 381.5L492.5 406.1L521.4 420.8L545.6 432L564.9 439.3L584.2 444.9L603.5 449.2L624.3 452.4Z" fill="#d6de2c"/>
<path d="M591.8 419.1L608.3 421.6L622.8 422.9L637.3 423.2L646.9 422.1L675.9 413.6L733.8 402.2L854.4 374.4L873.7 369.1L902.7 360.4L926.8 352L936.5 347.3L946.1 340.1L951.9 333.5L957.7 324L969.3 300.2L971 295.4L974.8 281.1L979 262.1L979.9 257.4L980 252.6L159.5 252.6L159.5 319.2L198.1 322.6L212.6 324.5L227.1 327.2L265.7 336.6L285 339.7L299.4 340.7L309.1 340.4L318.8 339.4L338.1 335.7L357.4 330L376.7 321.6L381.5 320.3L386.3 320.4L397.8 324L408.2 328.7L440.5 347.7L482.8 373.8L502.1 384.6L526.3 397L545.6 405.7L560 411.2L574.5 415.5L591.8 419.1Z" fill="#f0e620"/>
<path d="M608 400.1L627.6 401.4L637.3 401.6L646.9 401L656.6 399.8L724.1 386.6L786.9 372.5L801.3 370.4L835.1 367.1L859.3 363.4L873.7 360.2L897.9 353.7L912.3 349.2L922 345.7L931.6 341.2L936.5 338.2L941.3 334.3L946.4 328.7L952.7 319.2L960.6 304.2L964.3 295.4L969.8 276.4L974.3 257.4L974.5 252.6L159.5 252.6L159.5 296.9L198.1 302.4L212.6 305.1L222.2 307.6L240.9 314.4L256 318.3L270.5 320.2L285 321L309.1 320.7L328.4 318.7L342.9 315.3L376.7 304.2L381.5 303.6L386.3 304.2L391.1 306.2L404.3 314.4L434.6 330.4L482.8 357.7L500.5 366.8L526.3 378.7L545.6 386.5L564.9 392.7L584.2 396.9L608 400.1Z" fill="#f6e418"/>
<path d="M589.9 376.3L608.3 379.6L618 380.3L642.1 380L666.2 378.3L685.5 375.7L708.2 371.5L731.7 366.8L767.6 358.3L786.9 354.7L801.3 353.8L830.3 354.5L859.3 353.6L878.6 350.7L893 347.3L908.2 343L922 337.9L931.6 332.6L936.8 328.7L944.6 319.2L950.4 309.7L955.8 299.2L960 285.9L966.5 262.1L968.1 252.6L159.5 252.6L159.5 271.2L202.9 279.3L251.2 289.4L265.7 291.1L318.8 294.1L333.2 293.9L362.2 291.3L371.8 290.8L381.5 291.3L391.1 293.1L400.8 296.4L424.9 308.1L460.7 324L479.8 333.5L506.9 347.7L526.8 357.3L538.8 362L555.2 367.4L574.5 372.7L589.9 376.3Z" fill="#f7d21c"/>
<path d="M599.5 357.3L613.1 359.6L632.4 361.5L646.9 361.7L661.4 360.6L685.5 356.8L714.5 350.9L738.6 345.4L767.6 337.5L786.9 333.8L791.7 333.6L801.3 334.2L835.1 339.9L849.6 341.8L864.1 342.8L878.6 341.9L897.9 337.6L912.3 332.9L922 328.5L928.9 324L933.8 319.2L937.9 314.4L944.1 304.9L948.9 295.4L959.5 262.1L961.6 252.6L210 252.6L241.5 258.6L270.5 263.2L309.1 267.7L367 272.6L381.5 274.6L396 277.8L405.6 280.7L420.1 286.1L564.9 346.9L581.1 352.5L599.5 357.3Z" fill="#f4c21e"/>
<path d="M632.4 343L642.1 344.1L656.6 344.3L666.2 343.4L680.7 341.4L699.7 338.2L723.5 333.5L744 328.7L767.6 322.1L777.2 320.4L786.9 319.5L796.5 319.4L806.2 320.4L815.8 322.7L818.6 324L838.7 328.7L864.1 332.8L873.7 333.3L878.6 333L888.2 331.5L897.9 329.3L907.5 326.3L917.2 322.1L922.2 319.2L932.5 309.7L939.2 300.2L941.7 295.4L945.7 285.9L949 276.4L953.1 262.1L955.2 252.6L376.9 252.6L391.1 256L405.6 260.1L429.7 268.6L453.9 278.8L516.6 307.2L545.6 319.2L558.6 324L579.3 330.5L598.7 335.7L618 340.3L632.4 343Z" fill="#f5ad22"/>
<path d="M616.6 324L632.4 326.2L642.1 326.5L651.7 326.2L666.2 324.6L680.7 322.1L690.3 319.8L709.6 313.4L723.5 309.7L729 305.8L733.8 296.6L738.6 290.4L743.4 285.7L748.3 282L753.1 279.1L762.7 275.2L772.4 273.5L777.2 273.4L782 274L786.9 275.2L791.7 277.2L801.3 283.6L809.7 290.7L816.6 295.4L825.5 302.6L830.6 304.9L839.9 312.1L845.4 314.4L849.6 316.9L864.1 321.7L873.7 323.3L883.4 323.9L897.9 322.6L902.7 321.4L912.3 317.7L917.2 314.6L926.8 307.1L932.5 300.2L936 295.4L940.7 285.9L944.1 276.4L945.5 271.6L946.3 266.9L947.9 262.1L949.3 252.6L452 252.6L478 264.8L529.8 290.7L561 304.9L584.2 314.4L593.8 317.9L603.5 320.8L616.6 324Z" fill="#f49d22"/>
<path d="M861.7 314.4L873.7 317.2L883.4 318.4L893 318.3L897.9 317.8L902.7 316.8L909.3 314.4L912.3 312.7L922 305.8L926.1 300.2L931 295.4L933.3 290.7L936.2 285.9L941.5 271.6L943.5 262.1L944.4 252.6L792.9 252.6L801.3 257.3L806.2 261L811 266L813.7 271.6L816 281.1L818.7 285.9L822.1 290.7L830.3 298.1L832.9 300.2L839.9 304.2L844.8 307.5L849.6 310L861.7 314.4ZM618.5 300.2L632.4 301.8L646.9 301.1L656.6 299.3L671 294.8L680 290.7L687.7 285.9L695.2 279.9L708.6 266.9L714.2 262.1L720.8 257.4L729.1 252.6L516.4 252.6L551.4 271.6L579.6 285.9L602 295.4L618.5 300.2Z" fill="#f58d22"/>
<path d="M865.8 309.7L873.7 311.7L883.4 313.4L893 313.8L897.9 313.4L902.7 312.4L907.5 310.6L917.1 304.9L926.2 295.4L932 285.9L936.2 276.4L937.6 271.6L940.1 257.4L939.8 252.6L819.9 252.6L825.5 262.1L826.9 266.9L828.4 276.4L830.3 281.1L832.8 285.9L836.3 290.7L840.9 295.4L849.6 301.9L854.5 304.9L865.8 309.7Z" fill="#f47d23"/>
<path d="M871.8 304.9L883.4 307.9L893 308.6L897.9 308.3L902.7 307.1L907.5 305.4L912.3 302.7L917.2 299L922 294.3L926.8 288L932.4 276.4L934.4 266.9L935.5 257.4L934.5 252.6L835.3 252.6L837.9 262.1L839.1 271.6L840.5 276.4L845.5 285.9L849.7 290.7L854.4 295.1L859.3 298.7L864.1 301.6L871.8 304.9Z" fill="#f27024"/>
<path d="M877 300.2L883.4 302L888.2 302.7L897.9 302.4L902.7 301.2L912.3 296.8L922 288.5L924 285.9L925.6 281.1L928.5 276.4L929 271.6L929.2 257.4L926.8 252.7L849.9 252.6L848.6 257.4L849 262.1L848.2 271.6L849.3 276.4L851.9 281.1L853.5 285.9L865.6 295.4L868.9 297.4L877 300.2Z" fill="#ef6626"/>
<path d="M878.4 295.4L888.2 297L893 297.1L902.7 295.7L907.5 293.6L918.4 285.9L920.2 281.1L923.1 276.4L922.8 271.6L922 269.4L917.2 262.1L912.3 259.7L907.5 258.9L897.9 257.5L888.2 257.1L883.4 257.3L873.7 259L868.9 260.4L864.1 262.7L859.7 266.9L856.9 271.6L856.5 276.4L861.8 285.9L873.7 293.7L878.4 295.4Z" fill="#ee5d27"/>
<path d="M880.2 285.9L888.2 287.3L893 287.7L897.9 287L902.7 285.3L907.5 283L910 281.1L912.3 277.6L912.9 276.4L911.6 271.6L905.2 266.9L897.9 265.2L888.2 264.4L883.4 264.8L875.7 266.9L868.5 271.6L867.6 276.4L870.7 281.1L873.7 283.2L880.2 285.9Z" fill="#ec5328"/>
<path d="M1317.7 309.1L1303.2 306.6L1293.6 305.8L1250.2 306.5L1226 305.6L1197.1 303.1L1179 300.2L1171.2 295.4L1163.1 285.9L1139.2 261L1136.1 257.4L1133.5 252.6M1317.7 349.7L1283.9 345.1L1259.8 340.4L1240.5 335.3L1201.9 324L1163.3 314.1L1148.8 309.1L1141.5 304.9L1136.5 300.2L1134.3 296.9L1127.8 281.1L1122.4 271.6L1113.4 257.4L1112.4 252.6M1317.7 394.3L1264.6 378.4L1245.3 371.5L1226 363.6L1201.9 352.5L1168.1 335.5L1144 322.5L1129.5 313.7L1119.9 306L1114.6 300.2L1112.6 295.4L1110.9 285.9L1108.4 276.4L1100.5 257.8L1099.8 252.6M1317.7 445.7L1293.6 435L1279.1 427.8L1197.1 382.7L1182.6 374.1L1172.9 367.7L1163.3 360.7L1148.8 348.9L1129.5 331.7L1115 317.6L1105.4 307.1L1100.6 300.2L1099 295.4L1096.3 276.4L1090.9 259.6L1089.8 252.6M1317.7 596.5L1313.3 576.1L1312.2 561.8L1312.9 553.4L1314 547.5L1317.7 535.7M1317.7 508.9L1293.6 499.8L1279.1 493.1L1259.8 481.9L1240.5 468.9L1221.2 453.9L1206.7 441.2L1182.6 418.2L1163.3 398.2L1144 376.2L1124.7 351.6L1105.4 324.9L1092.2 304.9L1089.9 300.2L1088.5 295.4L1087.6 290.7L1086.4 276.4L1081.6 257.4L1081.2 252.6M1288.4 690.2L1281.5 652.2L1278.2 637.9L1273.4 623.6L1267.2 609.4L1251.8 580.8L1223.1 533.3L1185.3 476.2L1139.2 409.6L1124.7 386.5L1115 369.6L1095.7 332.6L1086.1 312.5L1081.2 301.2L1079 290.7L1077.9 276.4L1074.8 262.1L1073.4 252.6M1246.6 690.2L1237 647.4L1233.1 633.1L1226.6 614.1L1216.5 590.3L1202.6 561.8L1187.4 533.3L1116.7 409.6L1105.4 387.1L1098.6 371.5L1086.1 339L1073 300.2L1071.3 290.7L1069.9 276.4L1067.2 262.1L1066 252.6M1200.2 690.2L1184.1 628.4L1174.9 595.1L1164.3 561.8L1152.5 528.5L1139.9 495.2L1111.5 438.1L1100.5 415.3L1090.9 392.3L1086.1 378.7L1076.4 345.6L1065.1 300.2L1058.5 252.6M1163.3 690.2L1146.1 623.6L1136.8 590.3L1127.7 561.8L1110.2 510.6L1100.5 480.2L1086.1 430.9L1075.2 390.6L1066.8 352.2L1058 304.9L1051.4 257.4L1051.2 252.6M1125.1 690.2L1113.2 623.6L1106.7 590.3L1074.5 452.4L1062.5 395.3L1058.5 371.5L1053.9 338.2L1046.5 276.4L1044.4 262.1L1044 252.6M1090.1 690.2L1083.9 623.6L1079.4 585.6L1061.9 479.4L1053.2 423.8L1048.5 390.6L1044.7 352.5L1040.1 290.7L1037.1 262.1L1036.8 257.4L1037.3 252.6" fill="none" stroke="#181a7c" stroke-width="1.3" stroke-opacity="0.75"/>
<path d="M1058.3 690.2L1054.1 590.3L1050.2 523.7L1046.8 480.9L1044.3 457.1L1039.4 419.1L1036.3 385.8L1035.1 357.3L1033.6 295.4L1031 257.4L1031.6 252.6M1025 690.2L1022.8 566.6L1022.8 533.3L1023.2 490.4L1026.2 395.3L1028.3 304.9L1026.5 257.4L1027 252.6M990.1 690.2L991.9 618.9L998.7 519L1001 500L1008.7 457.1L1013.6 423.8L1017.5 390.6L1019.6 366.8L1023.5 300.2L1022.7 262.1L1022.9 252.6M958.3 690.2L959.4 652.2L961.3 623.6L967.2 571.3L971.9 538L975.6 519L981.4 495.2L996.4 442.9L1001.4 423.8L1008.6 390.6L1012.3 366.8L1016 333.5L1018.7 300.2L1019 252.6M923.3 690.2L927.7 637.9L931.6 604.6L936.1 576.1L943.4 542.8L951.3 514.2L959.1 490.4L964.9 476.2L981.7 438.1L989.6 418.5L999.9 385.8L1005.6 362L1009.6 338.2L1013.5 304.9L1014.2 290.7L1015.1 252.6M884.9 690.2L887.4 656.9L891.4 633.1L900.4 595.1L905.7 576.1L913.3 552.3L924.5 523.7L939.5 490.4L980.4 409.6L989.6 387.6L996.8 366.8L1000.7 352.5L1002.8 343L1005.4 328.7L1008.6 304.9L1009.4 295.4L1011 252.6M840 690.2L841.9 652.2L843 642.7L845.7 628.4L850.8 609.4L861.1 576.1L869.3 552.3L875.2 538L877.6 533.3L883.5 523.7L893 510.4L919.1 471.4L946.1 435.4L960.6 415.3L970.2 401L979.9 384.2L989.9 362L994.4 349.8L998.8 333.5L1003.7 304.9L1004.6 295.4L1006.9 252.6M786.5 690.2L787.2 666.4L788.3 656.9L790.7 642.7L795 623.6L800.7 604.6L809.1 580.8L816.7 561.8L825.3 542.8L833.1 528.5L844.8 510.4L856.1 495.2L868.9 479.5L883.4 463.6L903.9 442.9L931.6 418.2L955.8 395.5L965.4 384.3L970.2 377.7L975.1 369.9L984.7 352.8L986.7 347.7L989.2 343L990.4 338.2L992.2 333.5L996 319.2L999 304.9L999.5 300.2L1002.7 252.6M685.1 690.2L685 676L685.9 666.4L689.1 656.9L693.3 647.4L703.1 628.4L711.7 614.1L721.7 599.8L736.9 580.8L750.2 566.6L767.6 551.9L782 538.2L796.5 523.7L811 507.9L872.4 438.1L878.6 432.4L897.9 418.2L917.2 403L941.3 382.5L948 376.3L955.8 370.7L959.9 366.8L967.6 357.3L970.1 352.5L979.7 338.2L984.7 329.6L991.4 314.4L994.9 300.2L996 281.1L998.5 252.6M159.5 514.6L175.1 523.7L181.2 528.5L185.6 533.3L188.5 538L195.3 552.3L211.2 576.1L215.8 585.6L219.2 595.1L221.8 604.6L225 623.6L226.6 642.7L228.5 690.2M471.8 690.2L470.4 666.4L471.5 661.7L473.2 657.5L478 648.5L502.1 610.5L520.1 585.6L532 571.3L540.9 561.8L551 552.3L557.3 547.5L564.9 543.5L569.7 541.8L574.5 540.8L584.2 540.1L593.8 540.6L646.9 546.9L656.6 547.2L666.2 546.6L675.9 544.9L690.3 540.6L709.6 533L729 524.4L739.9 519L753.1 511.6L762.7 505.5L770.2 500L782 489.8L801.1 471.4L811.7 461.9L829.3 447.6L866.2 419.1L880 409.6L907.5 392.5L938.8 371.5L946.1 368.2L950.9 365.3L954.6 362L958.3 357.3L960.3 352.5L973.8 333.5L979.7 324L984.7 314.4L986.6 309.7L989.6 300.2L991.7 276.4L994.2 257.4L994.2 252.6M159.5 419.9L201.3 438.1L212.6 444.3L222.2 450.5L236.9 461.9L247.8 471.4L262.5 485.7L280.1 504.7L307.4 538L322 557L335.8 576.1L358.5 609.4L381.8 647.4L392 661.7L394.4 666.4L395 671.2L393.3 690.2M159.5 370L193.3 379.3L214 385.8L231.9 392.5L275.3 410.3L299.4 418.7L333.2 428.8L367 437.7L391.1 443.3L415.3 448L434.6 450.7L473.2 454.9L487.7 457.2L502.1 460.1L550.4 471.9L589 484.2L603.5 488L613.1 489.5L618 489.8L632.4 489.2L642.1 487.5L651.7 485.2L695.2 473.1L748.3 455.7L782 443.4L806.2 432.3L864.9 400.1L874.3 395.3L917.2 377.3L936.5 366.5L945.9 362L950.4 357.3L956 347.7L961 343L967 333.5L972 324L980.8 304.9L983.8 295.4L984.7 290.7L989.6 258.8L989.8 252.6" fill="none" stroke="#06602a" stroke-width="1.4" stroke-opacity="0.7"/>
<path d="M159.5 338.4L178.8 340.3L197.9 343L217.4 347.3L260.8 358L275.3 360.5L285 361.5L299.4 362.1L323.6 361.7L367 358.3L381.5 357.7L391.1 358.3L400.8 360L415.3 365L434.6 373.9L449.1 381.5L482.8 400.8L502.1 411.1L531.1 425.5L555.2 435.9L579.3 443.7L603.5 449.2L627.6 452.8L637.3 453.3L646.9 452.8L661.4 449.9L706 438.1L739.6 428.6L782 415.4L811 405.1L872.2 381L885.2 376.3L912.3 367.6L936.5 357.6L941.3 354.8L946.1 350.1L947.9 347.7L953.1 343L957 338.2L962.7 328.7L973.7 304.9L977.3 295.4L979.9 284.7L984.3 262.1L985 257.4L985 252.6M159.5 319.2L198.1 322.6L212.6 324.5L227.1 327.2L265.7 336.6L285 339.7L299.4 340.7L309.1 340.4L318.8 339.4L338.1 335.7L357.4 330L376.7 321.6L381.5 320.3L386.3 320.4L397.8 324L408.2 328.7L440.5 347.7L473.2 368L492.5 379.3L526.3 397L550.4 407.7L564.9 412.7L574.5 415.5L593.8 419.5L608.3 421.6L622.8 422.9L632.4 423.3L642.1 422.8L651.7 420.9L675.9 413.6L733.8 402.2L854.4 374.4L873.7 369.1L907.5 358.9L922 353.9L931.6 349.9L941.3 344L948 338.2L950.9 334.8L955.1 328.7L960.2 319.2L969.3 300.2L971 295.4L974.8 281.1L979 262.1L979.9 257.4L980 252.6M159.5 296.9L198.1 302.4L212.6 305.1L222.2 307.6L240.9 314.4L256 318.3L270.5 320.2L285 321L309.1 320.7L328.4 318.7L342.9 315.3L376.7 304.2L381.5 303.6L386.3 304.2L391.1 306.2L404.3 314.4L434.6 330.4L473.4 352.5L491.1 362L521.4 376.6L543.7 385.8L555.2 389.9L564.9 392.7L574.5 395.1L589 397.7L603.5 399.6L618 400.9L632.4 401.6L642.1 401.4L656.6 399.8L704.8 390.5L733.8 384.5L772.4 375.4L786.9 372.5L801.3 370.4L835.1 367.1L859.3 363.4L873.7 360.2L897.9 353.7L912.3 349.2L926.8 343.7L936.5 338.2L941.3 334.3L946.1 329.1L952.7 319.2L960.2 304.9L964.3 295.4L968.5 281.1L974.3 257.4L974.5 252.6M159.5 271.2L202.9 279.3L246.4 288.6L260.8 290.7L318.8 294.1L333.2 293.9L362.2 291.3L371.8 290.8L381.5 291.3L391.1 293.1L400.8 296.4L424.9 308.1L460.7 324L516.4 352.5L526.8 357.3L540.7 362.7L555.2 367.4L569.7 371.5L598.7 378.1L613.1 380.1L637.3 380.1L661.4 378.8L685.5 375.7L729 367.3L767.6 358.3L786.9 354.7L801.3 353.8L825.5 354.5L849.6 354.1L859.3 353.6L868.9 352.5L893 347.3L907.5 343.2L921.3 338.2L930.3 333.5L936.8 328.7L944.6 319.2L950.4 309.7L955.4 300.2L958.6 290.7L966.5 262.1L968.1 252.6M210 252.6L241.5 258.6L270.5 263.2L309.1 267.7L367 272.6L381.5 274.6L396 277.8L405.6 280.7L420.1 286.1L550.4 341.1L574.5 350.4L589 354.8L608.3 358.9L627.6 361.2L642.1 361.8L661.4 360.6L695.2 355L733.8 346.5L772.4 336.3L786.9 333.8L791.7 333.6L801.3 334.2L835.1 339.9L849.6 341.8L864.1 342.8L873.7 342.4L883.4 341.1L897.9 337.6L907.5 334.6L917.2 330.9L926.8 325.6L931.6 321.5L936.5 316.3L941.1 309.7L944.1 304.9L948.9 295.4L959.5 262.1L961.6 252.6M376.9 252.6L391.1 256L405.6 260.1L429.7 268.6L453.9 278.8L516.6 307.2L545.6 319.2L560 324.5L584.2 331.9L618 340.3L637.3 343.7L651.7 344.4L661.4 343.9L671 342.8L699.7 338.2L723.5 333.5L743.4 328.9L767.6 322.1L782 319.8L796.5 319.4L806.2 320.4L815.8 322.7L818.6 324L838.7 328.7L864.1 332.8L873.7 333.3L878.6 333L893 330.5L902.7 327.9L917.2 322.1L922 319.3L931.6 310.7L936.5 304.1L941.7 295.4L945.7 285.9L949 276.4L953.1 262.1L955.2 252.6M452 252.6L478 264.8L539.7 295.4L561 304.9L584.2 314.4L598.7 319.5L616.6 324L632.4 326.2L642.1 326.5L661.4 325.2L680.7 322.1L692.4 319.2L709.6 313.4L724.1 309.4L729 305.8L733.8 296.6L738.4 290.7L743.4 285.7L748.3 282L753.1 279.1L759.1 276.4L767.6 274.1L772.4 273.5L782 274L786.9 275.2L791.7 277.2L801.3 283.6L809.7 290.7L816.6 295.4L825.5 302.6L830.6 304.9L839.9 312.1L845.4 314.4L849.6 316.9L864.1 321.7L868.9 322.7L878.6 323.8L888.2 323.7L897.9 322.6L902.7 321.4L912.3 317.7L923.8 309.7L928.7 304.9L936 295.4L940.7 285.9L944.1 276.4L945.5 271.6L946.3 266.9L947.9 262.1L949.3 252.6M516.4 252.6L560.4 276.4L579.6 285.9L593.8 292.2L603.5 295.9L618 300.1L627.6 301.5L637.3 301.9L646.9 301.1L656.6 299.3L669.4 295.4L680 290.7L687.7 285.9L693.7 281.1L708.6 266.9L714.5 261.9L720.8 257.4L729.1 252.6M792.9 252.6L801.3 257.3L806.2 261L811 266L813.7 271.6L816 281.1L818.7 285.9L822.1 290.7L832.9 300.2L849 309.7L859.3 313.7L873.7 317.2L883.4 318.4L888.2 318.5L897.9 317.8L907.5 315.3L912.3 312.7L922.9 304.9L926.1 300.2L931 295.4L933.3 290.7L936.2 285.9L941.5 271.6L943.5 262.1L944.4 252.6M819.9 252.6L825.5 262.1L826.9 266.9L828.4 276.4L830.3 281.1L832.8 285.9L836.3 290.7L840.9 295.4L847 300.2L854.4 304.9L865.8 309.7L873.7 311.7L883.4 313.4L893 313.8L902.7 312.4L907.5 310.6L912.3 308L917.2 304.8L926.8 294.6L932 285.9L936.2 276.4L937.6 271.6L939.4 262.1L940.1 257.4L939.8 252.6M835.3 252.6L837.9 262.1L839.1 271.6L840.5 276.4L845.5 285.9L849.7 290.7L854.4 295.1L859.3 298.7L868.9 303.8L873.7 305.6L883.4 307.9L893 308.6L897.9 308.3L902.7 307.1L908.4 304.9L912.3 302.7L917.2 299L922 294.3L924.9 290.7L928.1 285.9L932.4 276.4L934.4 266.9L935.5 257.4L934.5 252.6M849.9 252.6L848.6 257.4L849 262.1L848.2 271.6L849.3 276.4L851.9 281.1L853.5 285.9L865.6 295.4L868.9 297.4L883.4 302L893 302.8L897.9 302.4L902.7 301.2L912.3 296.8L922 288.5L924 285.9L925.6 281.1L928.5 276.4L929 271.6L929.2 257.4L926.8 252.6M878.4 295.4L888.2 297L893 297.1L902.7 295.7L907.5 293.6L918.4 285.9L920.2 281.1L923.1 276.4L922.8 271.6L922 269.4L917.2 262.1L912.3 259.7L907.5 258.9L897.9 257.5L888.2 257.1L883.4 257.3L873.7 259L868.9 260.4L864.1 262.7L859.7 266.9L856.9 271.6L856.5 276.4L861.8 285.9L873.7 293.7L878.4 295.4M880.2 285.9L888.2 287.3L893 287.7L897.9 287L902.7 285.3L907.5 283L910 281.1L912.3 277.6L912.9 276.4L911.6 271.6L905.2 266.9L897.9 265.2L888.2 264.4L883.4 264.8L875.7 266.9L868.5 271.6L867.6 276.4L870.7 281.1L873.7 283.2L880.2 285.9" fill="none" stroke="#3a2c08" stroke-width="1.4" stroke-opacity="0.55"/>
<text class="cl" transform="translate(286.7,321.3) rotate(3)" text-anchor="middle" y="9.5" stroke="#f0e620">0.625</text>
<text class="cl" transform="translate(271.7,360.7) rotate(8)" text-anchor="middle" y="9.5" stroke="#b4d334">0.575</text>
<text class="cl" transform="translate(638.3,326.7) rotate(3)" text-anchor="middle" y="9.5" stroke="#f5ad22">0.725</text>
<text class="cl" transform="translate(635,380) rotate(3)" text-anchor="middle" y="9.5" stroke="#f7d21c">0.65</text>
<text class="cl" transform="translate(485,456.7) rotate(8)" text-anchor="middle" y="9.5" stroke="#b4d334">0.55</text>
<text class="cl" transform="translate(196.7,555) rotate(60)" text-anchor="middle" y="9.5" stroke="#7ac043">0.5</text>
<text class="cl" transform="translate(878.3,316.7) rotate(5)" text-anchor="middle" y="9.5" stroke="#f58d22">0.725</text>
<text class="cl" transform="translate(871.7,368.3) rotate(5)" text-anchor="middle" y="9.5" stroke="#f0e620">0.6</text>
<text class="cl" transform="translate(893.3,421.7) rotate(-40)" text-anchor="middle" y="9.5" stroke="#7ac043">0.5</text>
<text class="cl" transform="translate(965,460) rotate(-65)" text-anchor="middle" y="9.5" stroke="#5ab847">0.4</text>
<text class="cl" transform="translate(1045,475) rotate(85)" text-anchor="middle" y="9.5" stroke="#1b8b88">0.3</text>
<text class="cl" transform="translate(1143.3,471.7) rotate(65)" text-anchor="middle" y="9.5" stroke="#4657b4">0.2</text>
<text class="cl" transform="translate(1235,403.3) rotate(35)" text-anchor="middle" y="9.5" stroke="#625ebb">0.1</text>
<text class="cl" transform="translate(1265,341.7) rotate(15)" text-anchor="middle" y="9.5" stroke="#6c62be">0.05</text>
<text class="cl" transform="translate(875,538.3) rotate(-62)" text-anchor="middle" y="9.5" stroke="#6fbd45">0.45</text>
<text class="cl" transform="translate(892.5,263.8) rotate(3)" text-anchor="middle" y="9.5" stroke="none">0.825</text>
<text class="cl" transform="translate(945,282.5) rotate(-70)" text-anchor="middle" y="9.5" stroke="none">0.7</text>
</g>
<path d="M162.9 307.4H1315.1" stroke="#0d0d0d" stroke-width="4.3" fill="none"/>
<path d="M738.7 308.9L843.2 255.9L1104.5 255.9L1184.8 308.9" stroke="#0d0d0d" stroke-width="4.2" fill="none" stroke-linejoin="miter"/>
<rect x="935.4" y="13.6" width="131.3" height="242.3" fill="#d2d5d5" stroke="#0d0d0d" stroke-width="3.6"/>
<text class="cai" transform="translate(1023.5,132.5) rotate(-90)" text-anchor="middle" textLength="194" lengthAdjust="spacingAndGlyphs">Caisson</text>
<path d="M143.8 677.3H160.4" stroke="#9c9c9c" stroke-width="2.8"/><path d="M152.6 640.4H160.4" stroke="#bdbdbd" stroke-width="1.8"/><path d="M152.6 603.4H160.4" stroke="#bdbdbd" stroke-width="1.8"/><path d="M152.6 566.5H160.4" stroke="#bdbdbd" stroke-width="1.8"/><path d="M152.6 529.6H160.4" stroke="#bdbdbd" stroke-width="1.8"/><path d="M143.8 492.6H160.4" stroke="#9c9c9c" stroke-width="2.8"/><path d="M152.6 455.7H160.4" stroke="#bdbdbd" stroke-width="1.8"/><path d="M152.6 418.8H160.4" stroke="#bdbdbd" stroke-width="1.8"/><path d="M152.6 381.9H160.4" stroke="#bdbdbd" stroke-width="1.8"/><path d="M152.6 344.9H160.4" stroke="#bdbdbd" stroke-width="1.8"/><path d="M143.8 308H160.4" stroke="#9c9c9c" stroke-width="2.8"/><path d="M152.6 271.1H160.4" stroke="#bdbdbd" stroke-width="1.8"/><path d="M152.6 234.1H160.4" stroke="#bdbdbd" stroke-width="1.8"/><path d="M152.6 197.2H160.4" stroke="#bdbdbd" stroke-width="1.8"/><path d="M152.6 160.3H160.4" stroke="#bdbdbd" stroke-width="1.8"/><path d="M143.8 123.3H160.4" stroke="#9c9c9c" stroke-width="2.8"/><path d="M152.6 86.4H160.4" stroke="#bdbdbd" stroke-width="1.8"/><path d="M152.6 49.5H160.4" stroke="#bdbdbd" stroke-width="1.8"/><path d="M152.6 12.6H160.4" stroke="#bdbdbd" stroke-width="1.8"/><path d="M172.7 689V704.5" stroke="#9c9c9c" stroke-width="2.8"/><path d="M210.4 689V696.5" stroke="#bdbdbd" stroke-width="1.8"/><path d="M248.2 689V696.5" stroke="#bdbdbd" stroke-width="1.8"/><path d="M285.9 689V696.5" stroke="#bdbdbd" stroke-width="1.8"/><path d="M323.6 689V696.5" stroke="#bdbdbd" stroke-width="1.8"/><path d="M361.3 689V704.5" stroke="#9c9c9c" stroke-width="2.8"/><path d="M399.1 689V696.5" stroke="#bdbdbd" stroke-width="1.8"/><path d="M436.8 689V696.5" stroke="#bdbdbd" stroke-width="1.8"/><path d="M474.5 689V696.5" stroke="#bdbdbd" stroke-width="1.8"/><path d="M512.2 689V696.5" stroke="#bdbdbd" stroke-width="1.8"/><path d="M550 689V704.5" stroke="#9c9c9c" stroke-width="2.8"/><path d="M587.7 689V696.5" stroke="#bdbdbd" stroke-width="1.8"/><path d="M625.4 689V696.5" stroke="#bdbdbd" stroke-width="1.8"/><path d="M663.2 689V696.5" stroke="#bdbdbd" stroke-width="1.8"/><path d="M700.9 689V696.5" stroke="#bdbdbd" stroke-width="1.8"/><path d="M738.6 689V704.5" stroke="#9c9c9c" stroke-width="2.8"/><path d="M776.3 689V696.5" stroke="#bdbdbd" stroke-width="1.8"/><path d="M814.1 689V696.5" stroke="#bdbdbd" stroke-width="1.8"/><path d="M851.8 689V696.5" stroke="#bdbdbd" stroke-width="1.8"/><path d="M889.5 689V696.5" stroke="#bdbdbd" stroke-width="1.8"/><path d="M927.2 689V704.5" stroke="#9c9c9c" stroke-width="2.8"/><path d="M965 689V696.5" stroke="#bdbdbd" stroke-width="1.8"/><path d="M1002.7 689V696.5" stroke="#bdbdbd" stroke-width="1.8"/><path d="M1040.4 689V696.5" stroke="#bdbdbd" stroke-width="1.8"/><path d="M1078.1 689V696.5" stroke="#bdbdbd" stroke-width="1.8"/><path d="M1115.9 689V704.5" stroke="#9c9c9c" stroke-width="2.8"/><path d="M1153.6 689V696.5" stroke="#bdbdbd" stroke-width="1.8"/><path d="M1191.3 689V696.5" stroke="#bdbdbd" stroke-width="1.8"/><path d="M1229.1 689V696.5" stroke="#bdbdbd" stroke-width="1.8"/><path d="M1266.8 689V696.5" stroke="#bdbdbd" stroke-width="1.8"/><path d="M1304.5 689V704.5" stroke="#9c9c9c" stroke-width="2.8"/>
<text class="tk" transform="translate(132.5,690.8) scale(0.94,1)" text-anchor="end">0</text>
<text class="tk" transform="translate(132.5,506.1) scale(0.94,1)" text-anchor="end">0.5</text>
<text class="tk" transform="translate(132.5,321.5) scale(0.94,1)" text-anchor="end">1</text>
<text class="tk" transform="translate(132.5,136.8) scale(0.94,1)" text-anchor="end">1.5</text>
<text class="tk" transform="translate(172.4,743.4) scale(0.94,1)" text-anchor="middle">22.5</text>
<text class="tk" transform="translate(361,743.4) scale(0.94,1)" text-anchor="middle">23</text>
<text class="tk" transform="translate(549.7,743.4) scale(0.94,1)" text-anchor="middle">23.5</text>
<text class="tk" transform="translate(738.3,743.4) scale(0.94,1)" text-anchor="middle">24</text>
<text class="tk" transform="translate(926.9,743.4) scale(0.94,1)" text-anchor="middle">24.5</text>
<text class="tk" transform="translate(1115.6,743.4) scale(0.94,1)" text-anchor="middle">25</text>
<text class="tk" transform="translate(1304.2,743.4) scale(0.94,1)" text-anchor="middle">25.5</text>
<text class="ax" x="737.6" y="830.9" text-anchor="middle">X(m)</text>
<text class="ax" transform="translate(42.5,346.2) rotate(-90)" text-anchor="middle">Z(m)</text>
<path d="M168.4 16.8H259.4" stroke="#3f50b2" stroke-width="2.9" fill="none"/><path d="M270.7 16.8L252.4 9.2L255.9 16.8L252.4 24.4Z" fill="#3f50b2"/>
<text class="wv" x="177" y="59.8" textLength="88.5" lengthAdjust="spacingAndGlyphs">Wave</text>
</g>
<g transform="translate(519,2805.2)"><text class="cap" transform="translate(0,0) scale(0.70,1)">(c)</text><text class="capi" transform="translate(71.4,0) scale(1.1,1)">H</text><text class="caps" x="122.5" y="14.2">1<tspan style="font-size:50px" dy="3" dx="-2">/</tspan><tspan dy="-3" dx="-2">3</tspan></text><text class="cap" transform="translate(186,0) scale(0.755,1)">=15cm</text></g>
<g transform="translate(1417.8,1894.6)">
<rect x="162.9" y="4.9" width="1152.2" height="681.5" fill="#fff" stroke="#0d0d0d" stroke-width="5.2"/>
<clipPath id="c5"><path d="M163.4 307.4L741.7 307.4L843.2 255.9L1104.5 255.9L1181.8 307.4L1312.6 307.4L1312.6 686L163.4 686Z"/></clipPath>
<g clip-path="url(#c5)">
<rect x="163.4" y="253.9" width="1149.2" height="434.1" fill="#8169c5"/>
<path d="M159.5 690.2L1317.7 690.2L1317.7 308.8L1303.2 306.6L1293.6 306.3L1255 309.9L1245.3 310.3L1230.8 309.9L1221.2 309L1206.7 306.9L1197 304.9L1187.4 302.2L1181.9 300.2L1177.8 297.7L1172.9 293.6L1157.5 276.4L1143.6 262.1L1139.8 257.4L1137.8 252.6L159.5 252.6L159.5 690.2Z" fill="#7866c2"/>
<path d="M159.5 690.2L1317.7 690.2L1317.7 351.6L1274.3 346.1L1259.8 343.4L1245.3 339.9L1221.2 333L1197.1 325.3L1168.1 314.9L1156 309.7L1149 304.9L1144 299.4L1133.2 281.1L1119.9 261.1L1117.9 257.4L1117.1 252.6L159.5 252.6L159.5 690.2Z" fill="#6c62be"/>
<path d="M159.5 690.2L1317.7 690.2L1317.7 399.3L1293.6 390.5L1279.1 384.6L1197.1 346.6L1177.8 337.1L1148.8 322L1135.4 314.4L1129.5 310.5L1124.1 304.9L1121.4 300.2L1112.7 276.4L1106.3 262.1L1104.7 257.4L1104.2 252.6L159.5 252.6L159.5 690.2Z" fill="#625ebb"/>
<path d="M159.5 690.2L1317.7 690.2L1317.7 475L1312.9 468.7L1289.1 442.9L1279.3 433.4L1267.9 423.8L1248.7 409.6L1234.8 400.1L1177.8 364.8L1158.5 352L1134.3 333.9L1124.7 326.2L1115 317.4L1108.8 309.7L1106.1 304.9L1104.2 300.2L1099.3 276.4L1094.1 257.4L1093.7 252.6L159.5 252.6L159.5 690.2Z" fill="#595bb8"/>
<path d="M159.5 690.2L1317.7 690.2L1317.7 569.2L1305 547.5L1292 528.5L1281.2 514.2L1265.9 495.2L1241.6 466.7L1224.4 447.6L1210.5 433.4L1172.9 398.2L1134.3 360.3L1118.6 343L1110.2 332.6L1100.6 319.2L1097.8 314.4L1095 309.7L1091.2 300.2L1090.2 295.4L1088.3 276.4L1085.5 262.1L1084.5 252.6L159.5 252.6L159.5 690.2Z" fill="#5159b6"/>
<path d="M159.5 690.2L1306.7 690.2L1303.2 642.7L1301.9 633.1L1298.9 618.9L1293.6 601.1L1287.9 585.6L1279.6 566.6L1270 547.5L1259 528.5L1249.9 514.2L1236.6 495.2L1222.1 476.2L1197.7 447.6L1124.7 365.8L1109.7 347.7L1100.5 335.5L1092.7 324L1084.3 309.7L1080.5 300.2L1079.8 295.4L1078.9 276.4L1076.4 259.5L1076 252.6L159.5 252.6L159.5 690.2Z" fill="#4b58b5"/>
<path d="M159.5 690.2L1263.3 690.2L1259.7 642.7L1257.7 628.4L1255.7 618.9L1252.1 604.6L1246.2 585.6L1239.1 566.6L1233.2 552.3L1224.3 533.3L1214.2 514.2L1203.3 495.2L1191.3 476.2L1178.1 457.1L1150.3 419.1L1105.4 359.4L1090.9 337.9L1081.2 322L1074.8 309.7L1071.4 300.2L1070.8 295.4L1070.4 276.4L1068.2 257.4L1068 252.6L1066.8 252.6L159.5 252.6L159.5 690.2Z" fill="#4657b4"/>
<path d="M159.5 690.2L1220 690.2L1217.3 642.7L1214.2 618.9L1210.4 599.8L1205.7 580.8L1200 561.8L1195 547.5L1189.4 533.3L1179 509.5L1168 485.7L1160.6 471.4L1137.9 433.4L1093.1 362L1081.2 341.2L1070.1 319.2L1066 309.7L1063.2 300.2L1062.7 295.4L1062.4 276.4L1060.4 252.6L159.5 252.6L159.5 690.2Z" fill="#4356b3"/>
<path d="M159.5 690.2L1180.2 690.2L1178 637.9L1175.1 609.4L1172.1 590.3L1168.5 571.3L1165.1 557L1160 538L1148.9 504.7L1141.5 485.7L1135.2 471.4L1109.4 419.1L1081.2 365.6L1071.6 345L1060.8 319.2L1057.1 308.5L1055.2 300.2L1054.6 276.4L1052.9 252.6L159.5 252.6L159.5 690.2Z" fill="#4154b1"/>
<path d="M159.5 690.2L1146.7 690.2L1146 642.7L1144.5 618.9L1142.3 599.8L1139.5 580.8L1132.9 547.5L1124.1 514.2L1111.9 476.2L1090.1 419.1L1066.8 361.5L1057.1 335L1050.5 314.4L1047.3 300.2L1046.8 276.4L1045.7 262.1L1045.5 252.6L159.5 252.6L159.5 690.2Z" fill="#3f52ad"/>
<path d="M159.5 690.2L1115 690.2L1114.3 642.7L1113 618.9L1109.4 585.6L1102.7 542.8L1095.2 504.7L1087.2 471.4L1072 419.1L1054.8 362L1047.5 335.7L1042.6 316.4L1039.8 300.2L1039.2 276.4L1037.9 257.4L1038.1 252.6L159.5 252.6L159.5 690.2Z" fill="#0e6bb0"/>
<path d="M159.5 690.2L1083.2 690.2L1082.3 642.7L1080.8 609.4L1077.5 566.6L1071.8 509.5L1066.9 476.2L1056 428.6L1049 395.3L1042.4 362L1034.9 319.2L1032.5 300.2L1031.8 276.4L1030.7 257.4L1031.1 252.6L159.5 252.6L159.5 690.2Z" fill="#1b8b88"/>
<path d="M159.5 690.2L1050.1 690.2L1047.3 571.3L1044.6 504.7L1042 471.4L1033 387L1027 319.2L1025.7 300.2L1024.1 262.1L1024 257.4L1024.6 252.6L159.5 252.6L159.5 690.2Z" fill="#12a15c"/>
<path d="M159.5 690.2L1018.3 690.2L1018.3 618.9L1021.3 500L1021.8 428.6L1020.3 338.2L1018.1 262.1L1018.1 257.4L1018.8 252.6L159.5 252.6L159.5 690.2Z" fill="#2cb04c"/>
<path d="M159.5 690.2L984.9 690.2L986.2 633.1L988.7 599.8L994.7 547.5L1006.5 461.9L1009.7 428.6L1011.2 404.8L1012.3 371.5L1013.6 304.9L1012.9 257.4L1013.6 252.6L159.5 252.6L159.5 690.2Z" fill="#46b549"/>
<path d="M159.5 690.2L946.6 690.2L948.3 656.9L951.6 633.1L955 614.1L959 595.1L967.1 561.8L973.3 538L989.6 480.5L994.6 457.1L995.9 447.6L999.1 423.8L1002 390.6L1006.1 328.7L1008.1 309.7L1008.5 295.4L1008.2 257.4L1008.9 252.6L159.5 252.6L159.5 690.2Z" fill="#5ab847"/>
<path d="M223.4 690.2L901.5 690.2L903.3 656.9L904.7 642.7L908.1 623.6L914.1 599.8L921.1 576.1L930.9 547.5L936.5 532.7L952 495.2L967.5 452.4L977.9 419.1L988.1 381L993.4 357.3L1003 309.7L1003.9 295.4L1004 257.4L1004.6 252.6L159.5 252.6L159.5 571.3L169.1 573L178.8 575.4L188.5 579.2L193.3 581.9L198.4 585.6L203 590.3L206.1 595.1L208.4 599.8L211.5 609.4L215.8 628.4L220 656.9L223.4 690.2Z" fill="#66bb45"/>
<path d="M311.3 690.2L583.2 690.2L580.1 685.5L579.1 680.7L578.8 676L579.7 671.2L584.2 665L589 659.6L592.3 656.9L593.8 656.3L598.7 656.1L603.5 658.3L608.3 663.1L614 671.2L615.2 676L615.7 680.7L615.5 685.5L613.7 690.2L842.6 690.2L843.7 685.5L845.1 666.4L847.8 652.2L853.7 633.1L863 609.4L876.2 580.8L912.3 512.5L953.9 428.6L968.9 395.3L981.9 362L997.2 314.4L998.3 309.7L999.7 295.4L1000.1 257.4L1000.6 252.6L159.5 252.6L159.5 515L178.8 516.5L195.2 519L207.8 522.7L222.2 529.5L234.9 538L245.7 547.5L259.3 561.8L276.3 580.8L283.8 590.3L289.8 599.8L294.4 609.4L297.9 618.9L300.6 628.4L303.9 642.7L306.3 656.9L309.1 683L309.5 685.5L311.3 690.2Z" fill="#6fbd45"/>
<path d="M733.5 599.8L748.3 601.2L757.9 601.3L762.7 601L772.4 599.2L777.2 597.8L786.9 593.8L811 581.9L820.6 576.3L830.3 569.9L844.8 558.1L859.3 543.3L878.6 519.4L893 499.3L914 466.7L928.3 447.6L943.4 423.8L954.3 404.8L961.7 390.6L970.7 371.5L980.6 347.7L992.7 314.4L993.9 309.7L995.4 300.2L996 290.7L996.9 252.6L159.5 252.6L159.5 478.5L183.6 479.9L198.1 481.3L212.6 483.9L227.1 488L244.1 495.2L262.3 504.7L287.2 519L323.6 541.4L342.9 551L362.2 558.6L376.7 563.2L391.1 566.6L405.6 568.3L420.1 568.6L429.7 568.2L439.4 567.1L449.1 565L458.7 561.9L468.4 557.9L497.3 544.6L530.3 528.5L540.8 523.7L552.9 519L567.1 514.2L584.2 510L593.8 508.9L603.5 509.5L608.3 510.9L613.1 513L622.8 519.5L627.7 523.7L650.8 547.5L666.2 562.1L680.7 574.6L695.2 585.6L704.8 591.4L714.5 595.6L724.1 598.3L733.5 599.8Z" fill="#7ac043"/>
<path d="M716.4 533.3L729 535.5L743.4 536.9L757.9 537.5L767.6 537.2L777.2 536.3L786.9 534.3L801.3 529.4L811 524.7L820.6 519L830.3 512.3L839.9 504.7L859.3 487.2L879 466.7L884.5 461.9L893 457.1L902.7 454.6L907.5 452.8L912.3 450L915 447.6L922 439.6L936.5 420.1L949.3 400.1L960.6 380L967.2 366.8L975.9 347.7L988.5 314.4L990.8 304.9L992.4 285.9L993.2 252.6L159.5 252.6L159.5 451.7L198.1 453.9L207.8 455.2L217.4 457.1L231.9 462L252.5 471.4L264.6 476.2L299.4 486.7L338.1 500L347.7 502.7L362.2 505.7L371.8 507.1L386.3 508.2L400.8 508.2L420.1 506L497.3 490.6L545.6 483.9L564.9 480.7L579.3 477.8L605.3 471.4L613.1 470.7L618 471.4L627.6 475.1L637.2 480.9L642.1 484.4L655.6 495.2L675.9 514L685.5 521.2L695.2 526.4L700 528.5L709.6 531.7L716.4 533.3Z" fill="#8cc63f"/>
<path d="M703 495.2L709.6 497L719.3 498.7L733.8 499.4L748.3 498.6L757.9 497L764.2 495.2L772.4 491.9L777.2 489.4L786.9 483.3L803.7 471.4L811.3 466.7L820.4 461.9L830.9 457.1L849.6 450.5L859.3 448L878.6 444.5L883.4 442.9L888.2 440.1L890.8 438.1L909.2 428.6L922 419.4L931.6 410.4L940.5 400.1L950.9 385.4L962.2 366.8L964.2 362L967.2 357.3L968.9 352.5L971.7 347.7L977.7 333.5L984.6 314.4L986.8 304.9L989 281.1L989.7 252.6L159.5 252.6L159.5 428.5L198.1 429.9L212.6 431.4L222.2 433L241.3 438.1L299.4 458L323.6 465.1L338.1 468.5L352.5 471.3L367 473.3L381.5 474.2L400.8 474.2L420.1 472.9L478 465.4L550.4 458.7L569.7 455.9L603.5 448L613.1 447.1L618 447.4L622.8 448.2L627.6 449.8L637.3 454.6L651.7 464.3L680.7 484.7L690.3 490.1L703 495.2Z" fill="#9ccb3c"/>
<path d="M716 466.7L729 467.9L743.4 468L753.1 467.2L762.7 465.4L772.4 462.3L777.2 460.3L810.1 442.9L820.6 438.4L830.3 435.1L844.8 430.8L859.3 427.7L868.9 427L888.2 426.8L893 426.1L897.9 424.7L902.7 422.6L907.5 419.8L912.3 416.1L922 407.8L924.6 404.8L931.6 398.4L933.9 395.3L941.3 387.6L950.2 376.3L953.2 371.5L957 366.8L959.2 362L962.8 357.3L964.6 352.5L967.9 347.7L969.7 343L972.2 338.2L978 324L980.9 314.4L982.9 304.9L985.3 281.1L986.1 252.6L159.5 252.6L159.5 410L198.1 411.6L222.2 414.1L236.7 416.5L256 420.8L309.1 434.9L328.4 439L357.4 443.1L371.8 444.4L386.3 445.1L405.6 445.2L424.9 444.6L468.4 441.7L521.4 439.5L550.4 437.3L564.9 435.9L579.3 433.8L593.8 430.4L613.1 425.1L622.8 424.2L627.6 424.8L632.4 426.3L637.3 428.5L671 449.8L685.5 457.6L700 463.2L709.6 465.7L716 466.7Z" fill="#b4d334"/>
<path d="M704.3 438.1L714.5 440.5L729 442.2L743.4 442.6L757.9 441.4L767.6 439.4L777.2 436.5L811 423.3L825.4 419.1L839.9 415.6L854.4 412.9L864.1 411.9L873.7 411.9L888.2 413.1L897.9 412.9L902.7 411.8L907.5 409.8L912.3 406.8L917.2 403.5L926.8 395.4L936.5 385.8L940.2 381L944.8 376.3L947.9 371.5L952.2 366.8L954.8 362L958.6 357.3L965.4 345.3L971.1 333.5L975.1 322.6L978.3 309.7L979 304.9L981.6 281.1L982.6 252.6L159.5 252.6L159.5 393.4L198.1 394L222.2 395.7L241.5 398.5L260.8 402.1L309.1 413.3L333.2 417.8L367 421.7L400.8 423.3L424.9 423.3L463.5 421.9L507 421.1L560 417.8L574.5 416.2L584.2 414.5L593.8 411.8L613.1 404.8L622.8 402.8L627.6 402.7L632.4 403.4L637.3 405.1L645.9 409.6L661.4 419L675.9 426.9L690.3 433.4L704.3 438.1Z" fill="#d6de2c"/>
<path d="M712.2 419.1L724.1 421.3L733.8 422.1L748.3 422.1L757.9 421.2L767.6 419.6L777.2 417.4L811 407.9L825.3 404.8L839.9 402.3L854.4 400.2L864.1 399.5L873.7 399.4L893 401L902.7 400.7L907.5 399.5L917.2 394.8L922 391.5L931.6 383.5L941.3 373.7L947.2 366.8L955.8 355.2L963.1 343L967.7 333.5L971.2 324L972.5 319.2L975.1 304.9L977.9 281.1L979.1 252.6L159.5 252.6L159.5 378.5L202.9 378.9L227.1 380.4L280.1 387.7L294.6 390.2L333.2 398.2L362.2 402.7L391.1 405.5L429.7 406.9L502.1 405.9L535.9 403.8L560 401.7L574.5 399.9L584.2 398L598.7 393.6L618 386.3L622.8 385L627.6 384.4L632.4 384.5L637.3 385.5L642.1 387.3L661.4 398.7L680.7 408.3L700 415.7L712.2 419.1Z" fill="#f0e620"/>
<path d="M709.8 400.1L719.3 402L733.8 403.7L748.3 404.3L757.9 403.9L772.4 402.2L809.3 395.3L835.1 391.8L849.6 390.3L864.1 389.5L897.9 390.6L907.5 389.3L917.2 385.6L926.8 379.7L931.6 375.9L936.5 371.8L946.1 361.6L955.8 348.5L959.3 343L964.1 333.5L967.5 324L970.4 309.7L974.1 281.1L975.5 252.6L159.5 252.6L159.5 366.1L202.9 366.2L231.9 367.8L294.6 375.1L362.2 386L391.1 389.6L415.3 391.6L434.6 392.7L482.8 393.7L502.1 393.5L521.4 392.4L550.4 389.8L569.7 387.4L584.2 384.5L593.8 381.7L622.8 370.8L632.4 369.4L637.3 369.6L642.1 370.7L646.9 372.8L666.2 384.2L680.7 390.8L695.2 396.1L709.8 400.1Z" fill="#f6e418"/>
<path d="M727.2 385.8L738.6 386.9L753.1 387.2L772.4 386.4L815.8 383.1L849.6 381.4L864.1 381.1L888.2 382L897.9 381.8L907.5 380.1L912.3 378.7L922 374.4L931.6 368.3L936.5 364.4L946.1 354.7L954.8 343L960.6 332.1L964.8 319.2L968.9 290.7L970.7 276.4L971.9 252.6L159.5 252.6L159.5 355.1L217.4 355.4L241.5 356.6L265.7 358.3L294.6 360.8L313.9 363L371.8 372.5L410.4 377.7L444.2 380.4L492.5 382.2L511.8 381.7L526.3 380.5L550.4 377.5L569.7 374.4L584.2 371.3L593.8 368.4L622.8 357.9L632.4 355.9L637.3 355.6L642.1 356.1L646.9 357.5L651.7 359.6L671 370L685.5 375.6L695.2 378.7L709.6 382.5L727.2 385.8Z" fill="#f7d21c"/>
<path d="M760.6 371.5L859.3 373.2L883.4 374.1L893 374L902.7 372.8L912.3 370.2L922 366.2L926.8 363.6L936.5 356.8L941.3 352.4L946.1 347.2L950.9 340.7L955.2 333.5L957.4 328.7L960.4 319.2L965.5 285.9L967.5 266.9L968.2 252.6L159.5 252.6L159.5 345L202.9 344.9L231.9 345.3L299.4 348.6L328.4 351.8L396 363.2L420.1 366.4L453.9 369.1L497.3 370.5L511.8 370L526.3 368.5L550.4 364.9L569.7 361.3L579.3 359.3L593.8 355.4L618 347L627.6 344.1L637.3 342.5L642.1 342.4L646.9 343.2L651.7 344.8L656.6 347L671 354.8L675.9 356.9L685.5 360.2L700 364.2L714.5 367.1L729 369.2L743.4 370.7L760.6 371.5Z" fill="#f4c21e"/>
<path d="M808.7 362L873.7 366L883.4 366.3L893 365.9L902.7 364.5L912.3 361.9L922 358L931.6 352.4L936.5 348.7L941.3 344.2L946.1 338.6L950.9 331.2L954.2 324L955.8 318.8L961.9 281.1L964.3 257.4L964.3 252.6L159.5 252.6L159.5 334.9L231.9 335.2L289.8 336.4L309.1 337.3L323.6 338.6L338.1 340.7L400.8 352.3L424.9 356L458.7 359.4L482.8 360.8L497.3 361.1L511.8 360.5L521.4 359.4L545.6 355.3L569.7 350L589 345.2L622.8 334.4L632.4 331.9L642.1 330.5L646.9 330.7L651.7 331.5L656.6 332.9L671 340L680.7 343.8L690.3 346.6L704.8 349.7L733.8 354L808.7 362Z" fill="#f5ad22"/>
<path d="M854.3 357.3L868.9 358.4L883.4 358.7L893 358.1L902.7 356.5L912.3 353.8L922 349.8L931.6 344L938.4 338.2L941.3 335.2L946.1 328.9L948.6 324L950.4 319.2L957.4 281.1L960.2 257.4L960.2 252.6L159.5 252.6L159.5 325.1L260.8 325L299.4 324.2L318.8 324.6L333.2 326.2L346.6 328.7L400.8 341.3L424.9 346L458.7 350.4L482.8 352.3L497.3 352.8L516.6 351.6L540.7 347.2L564.9 341.4L589 335L632.4 321L642.1 319L651.7 318.6L656.6 319.2L661.4 320.6L675.9 327.1L685.5 330.4L704.8 334.9L743.4 340.3L806.2 351.8L825.5 354.4L854.3 357.3Z" fill="#f49d22"/>
<path d="M835.1 347.7L868.9 351.3L883.4 351.4L893 350.5L902.7 348.7L912.3 345.8L922 341.5L931.6 335.3L936.5 331L941.3 325.1L944.2 319.2L945.8 314.4L952.4 281.1L955.7 257.4L955.9 252.6L159.5 252.6L159.5 316.6L280.1 314L309.1 314.5L338.1 316.2L347.7 317.5L367 321.3L409.9 333.5L434.6 338.5L453.9 341.4L473.2 343.4L487.7 344.4L502.1 344.5L511.8 343.9L521.4 342.6L545.6 337.5L569.7 331L589 325.1L632.4 309.9L642.1 307.8L651.7 307.1L661.4 308.2L666.2 309.7L680.7 316.1L685.5 317.8L714.5 325.3L748.3 332L757.9 333.5L767.6 335.8L796.5 341.8L815.8 345.2L835.1 347.7Z" fill="#f58d22"/>
<path d="M849.6 343L859.3 343.9L873.7 344.5L888.2 343.5L897.9 341.8L907.5 339.2L917.2 335.2L922 332.6L926.8 329.4L931.6 325.2L936.5 318.8L940 309.7L946.1 285.7L950.2 262.1L951.2 252.6L159.5 252.6L159.5 309.3L174 309.5L188.5 308L212.6 306.4L265.7 303.8L338.1 303.2L352.5 303.9L371.8 306.3L381.5 308.8L403.6 319.2L410.4 321.9L415.9 324L433.3 328.7L453.9 332.5L468.4 334.3L487.7 335.6L502.1 335.7L511.8 335.1L524.6 333.5L545.6 329L563.6 324L577.8 319.2L608.3 306.9L622.8 302.1L637.3 299L646.9 298.3L651.7 298.4L661.4 299.7L666.2 301L685.5 309.4L695.2 312.1L701 314.4L709.6 316.6L719.3 320.1L729 321.7L733.8 323.4L743.4 324.5L753.1 326.9L762.7 328.3L767.6 329.7L777.2 331L786.9 333.6L791.7 334.3L801.3 336.6L820.6 339.9L849.6 343Z" fill="#f47d23"/>
<path d="M817.6 333.5L839.9 336.2L854.4 337.2L868.9 337.3L878.6 336.6L888.2 335.1L897.9 332.7L907.9 328.7L916.6 324L922 320.2L926.8 315.4L930.8 309.7L933.2 304.9L937.1 295.4L940.2 285.9L945.3 262.1L946.6 252.6L159.5 252.6L159.5 301.2L174 301.2L222.2 296.3L265.7 293.3L338.1 290.8L362.2 291.4L381.5 293.8L396 297.4L424.9 307.5L452.6 319.2L463.5 322.2L478 324.5L502.1 325.1L526.3 323.1L545.6 319.4L564.9 313.4L598.7 299.5L613.1 294.6L622.8 292.2L632.4 290.7L646.9 290L661.4 291.7L671 294.3L690.3 302.5L700 305.2L704.8 307.5L724.1 314.5L738.6 317.7L748.3 318.7L753.1 320L762.7 321.5L777.2 324.5L786.9 327.1L796.5 329L806.2 331.5L817.6 333.5Z" fill="#f27024"/>
<path d="M839.6 328.7L854.4 329.3L864.1 329.2L873.7 328.6L883.4 327.1L893 324.6L902.7 321.1L912.3 316L917.2 312.5L922 308L926.8 301.7L932.6 290.7L934.5 285.9L937.3 276.4L940.7 262.1L942.1 252.6L159.5 252.6L159.5 291.5L178.8 290.9L241.5 284.4L285 281.2L333.2 278.8L362.2 279.2L386.3 281.7L400.8 284.5L410.4 286.8L429.7 292.7L463.5 306.1L478 310.4L497.3 313.7L511.8 314L521.4 313.3L531.1 311.9L545.6 308.6L556.5 304.9L591.8 290.7L608.3 285.5L618 283.4L627.6 282L637.3 281.3L646.9 281.4L661.4 283.1L675.9 286.9L700 296.9L716.1 304.9L729.2 309.7L767.6 316.4L811 325.4L825.5 327.4L839.6 328.7Z" fill="#ef6626"/>
<path d="M844.6 319.2L864.1 319.7L873.7 319L883.4 317.5L897.9 313.5L907.5 309.2L912.3 306.1L917.2 302.1L922 296.8L926.8 289.7L928.8 285.9L931.6 279.1L933.8 271.6L936.5 261.9L937.9 252.6L159.5 252.6L159.5 280.5L183.6 279.5L256 272L304.3 268.2L338.1 266.8L367 267.4L391.1 269.9L415.3 274.4L439.4 281.1L473.2 293.2L487.7 297.7L502.1 300.8L511.8 301.6L521.4 301L535.9 298.1L550.4 293.5L584.3 281.1L598.7 277L608.3 274.8L622.8 272.7L632.4 272L642.1 271.9L651.7 272.4L666.2 274.5L675.9 276.9L685.5 280L700 286.1L724.1 298.1L733.8 301.4L801.3 314.5L820.6 317.1L844.6 319.2Z" fill="#ee5d27"/>
<path d="M818.1 304.9L830.3 306.5L844.8 307.8L859.3 308.2L868.9 307.9L878.6 307.2L888.2 305.7L897.9 303.3L902.7 301.4L912.3 296L917.2 291.9L922.2 285.9L926.8 277.7L930.7 266.9L933.4 257.4L933.7 252.6L159.5 252.6L159.5 268.5L188.5 267.1L270.5 258.7L313.9 255.5L347.7 254.7L367 255.2L381.5 256.2L405.6 259.3L424.9 262.9L444.2 267.7L487.7 280.3L502.1 283.2L511.8 284L521.4 283.8L535.9 281.5L579.3 269.5L603.5 264.3L613.1 262.9L627.6 261.7L642.1 261.5L651.7 262.1L671 264.7L685.5 268.3L700 273.1L729 284.9L738.6 287.9L748.3 289.9L767.6 293L796.5 300.6L818.1 304.9Z" fill="#ec5328"/>
<path d="M836.9 295.4L854.4 297.2L873.7 297.4L888.2 296.1L897.9 293.9L902.7 292.2L907.5 289.9L912.3 286.7L917.2 282.1L921.2 276.4L927.6 262.1L929 257.4L929.2 252.6L671.4 252.6L695.2 257.5L729 267.2L743.4 270.9L777.2 277L786.9 279.3L792.8 281.1L816.5 290.7L825.5 293.1L836.9 295.4ZM488.7 262.1L507 264.5L516.6 264.9L526.3 264.5L545.6 262L579.3 255.4L596.9 252.6L444.4 252.6L488.7 262.1ZM159.5 252.6L159.5 255.6L183.6 254.6L207.9 252.6L159.5 252.6Z" fill="#ea4828"/>
<path d="M855.5 285.9L868.9 287.6L883.4 287.8L893 286.4L902.7 283.5L907.5 281L912.3 277.2L917.2 271.3L922.3 262.1L924 257.4L924 252.6L747 252.6L782 258.9L801.3 263.8L815.8 269.7L827.9 276.4L838.3 281.1L855.5 285.9Z" fill="#e83e28"/>
<path d="M874.3 276.4L883.4 277.7L888.2 277.6L893 277.1L897.9 275.9L902.7 273.9L907.5 270.8L912.3 266L915 262.1L917.4 257.4L917.3 252.6L839.4 252.6L846.6 257.4L855.7 266.9L859.3 269.6L864.1 272.5L874.3 276.4Z" fill="#e73427"/>
<path d="M881.6 262.1L888.2 264.1L893 264.1L897.9 263L902.7 259.7L904.5 257.4L904.4 252.6L872.1 252.6L875.4 257.4L881.6 262.1Z" fill="#e72d26"/>
<path d="M1317.7 308.8L1303.2 306.6L1293.6 306.3L1255 309.9L1245.3 310.3L1230.8 309.9L1221.2 309L1206.7 306.9L1197 304.9L1187.4 302.2L1181.9 300.2L1177.8 297.7L1172.9 293.6L1157.5 276.4L1143.6 262.1L1139.8 257.4L1137.8 252.6M1317.7 351.6L1274.3 346.1L1259.8 343.4L1245.3 339.9L1221.2 333L1197.1 325.3L1168.1 314.9L1156 309.7L1149 304.9L1144 299.4L1133.2 281.1L1119.9 261.1L1117.9 257.4L1117.1 252.6M1317.7 399.3L1293.6 390.5L1279.1 384.6L1197.1 346.6L1177.8 337.1L1148.8 322L1135.4 314.4L1129.5 310.5L1124.1 304.9L1121.4 300.2L1112.7 276.4L1106.3 262.1L1104.7 257.4L1104.2 252.6M1317.7 475L1312.9 468.7L1289.1 442.9L1279.3 433.4L1267.9 423.8L1248.7 409.6L1234.8 400.1L1177.8 364.8L1158.5 352L1134.3 333.9L1124.7 326.2L1115 317.4L1108.8 309.7L1106.1 304.9L1104.2 300.2L1099.3 276.4L1094.1 257.4L1093.7 252.6M1317.7 569.2L1305 547.5L1292 528.5L1281.2 514.2L1265.9 495.2L1241.6 466.7L1224.4 447.6L1210.5 433.4L1172.9 398.2L1134.3 360.3L1118.6 343L1110.2 332.6L1100.6 319.2L1097.8 314.4L1095 309.7L1091.2 300.2L1090.2 295.4L1088.3 276.4L1085.5 262.1L1084.5 252.6M1306.7 690.2L1303.2 642.7L1301.9 633.1L1298.9 618.9L1293.6 601.1L1287.9 585.6L1279.6 566.6L1270 547.5L1259 528.5L1249.9 514.2L1236.6 495.2L1222.1 476.2L1197.7 447.6L1124.7 365.8L1109.7 347.7L1100.5 335.5L1092.7 324L1084.3 309.7L1080.5 300.2L1079.8 295.4L1078.9 276.4L1076.4 259.5L1076 252.6M1263.3 690.2L1259.7 642.7L1257.7 628.4L1255.7 618.9L1252.1 604.6L1246.2 585.6L1239.1 566.6L1233.2 552.3L1224.3 533.3L1214.2 514.2L1203.3 495.2L1191.3 476.2L1178.1 457.1L1150.3 419.1L1105.4 359.4L1090.9 337.9L1079.7 319.2L1074.8 309.7L1071.4 300.2L1070.8 295.4L1070.4 276.4L1068.2 257.4L1068 252.6M1220 690.2L1217.3 642.7L1214.2 618.9L1210.4 599.8L1205.7 580.8L1200 561.8L1195 547.5L1189.4 533.3L1179 509.5L1168 485.7L1160.6 471.4L1137.9 433.4L1093.1 362L1081.2 341.2L1070.1 319.2L1066 309.7L1063.2 300.2L1062.7 295.4L1062.4 276.4L1060.4 252.6M1180.2 690.2L1178 637.9L1175.1 609.4L1172.1 590.3L1168.5 571.3L1165.1 557L1160 538L1148.9 504.7L1141.5 485.7L1135.2 471.4L1109.4 419.1L1081.2 365.6L1071.6 345L1060.8 319.2L1057.1 308.5L1055.2 300.2L1054.6 276.4L1052.9 252.6M1146.7 690.2L1146 642.7L1144.5 618.9L1142.3 599.8L1139.5 580.8L1132.9 547.5L1124.1 514.2L1111.9 476.2L1090.1 419.1L1066.8 361.5L1057.1 335L1050.5 314.4L1047.3 300.2L1046.8 276.4L1045.7 262.1L1045.5 252.6M1115 690.2L1114.3 642.7L1113 618.9L1109.4 585.6L1102.7 542.8L1095.2 504.7L1087.2 471.4L1072 419.1L1054.8 362L1047.5 335.7L1042.6 316.4L1039.8 300.2L1039.2 276.4L1037.9 257.4L1038.1 252.6" fill="none" stroke="#181a7c" stroke-width="1.3" stroke-opacity="0.75"/>
<path d="M1083.2 690.2L1082.3 642.7L1080.8 609.4L1077.5 566.6L1071.8 509.5L1066.9 476.2L1056 428.6L1049 395.3L1042.4 362L1034.9 319.2L1032.5 300.2L1031.8 276.4L1030.7 257.4L1031.1 252.6M1050.1 690.2L1047.3 571.3L1044.6 504.7L1042 471.4L1033 387L1027 319.2L1025.7 300.2L1024.1 262.1L1024 257.4L1024.6 252.6M1018.3 690.2L1018.3 618.9L1021.3 500L1021.8 428.6L1020.3 338.2L1018.1 262.1L1018.1 257.4L1018.8 252.6M984.9 690.2L986.2 633.1L988.7 599.8L994.7 547.5L1006.5 461.9L1009.7 428.6L1011.2 404.8L1012.3 371.5L1013.6 304.9L1012.9 257.4L1013.6 252.6M946.6 690.2L948.3 656.9L951.6 633.1L955 614.1L959 595.1L967.1 561.8L973.3 538L989.6 480.5L994.6 457.1L995.9 447.6L999.1 423.8L1002 390.6L1006.1 328.7L1008.1 309.7L1008.5 295.4L1008.2 257.4L1008.9 252.6M901.5 690.2L903.3 656.9L904.7 642.7L908.1 623.6L914.1 599.8L921.1 576.1L930.9 547.5L936.5 532.7L952 495.2L967.5 452.4L977.9 419.1L988.1 381L993.4 357.3L1003 309.7L1003.9 295.4L1004 257.4L1004.6 252.6M159.5 571.3L169.1 573L178.8 575.4L188.5 579.2L193.3 581.9L198.4 585.6L203 590.3L206.1 595.1L208.4 599.8L211.5 609.4L215.8 628.4L220 656.9L223.4 690.2M583.2 690.2L580.1 685.5L579.1 680.7L578.8 676L579.7 671.2L584.2 665L589 659.6L592.3 656.9L593.8 656.3L598.7 656.1L603.5 658.3L608.3 663.1L614 671.2L615.2 676L615.7 680.7L615.5 685.5L613.7 690.2M842.6 690.2L843.7 685.5L845.1 666.4L847.8 652.2L853.7 633.1L863 609.4L876.2 580.8L912.3 512.5L953.9 428.6L968.9 395.3L981.9 362L997.2 314.4L998.3 309.7L999.7 295.4L1000.1 257.4L1000.6 252.6M159.5 515L178.8 516.5L195.2 519L207.8 522.7L222.2 529.5L234.9 538L245.7 547.5L259.3 561.8L276.3 580.8L283.8 590.3L289.8 599.8L294.4 609.4L297.9 618.9L300.6 628.4L303.9 642.7L306.3 656.9L309.1 683L309.5 685.5L311.3 690.2M159.5 478.5L183.6 479.9L198.1 481.3L212.6 483.9L227.1 488L244.1 495.2L262.3 504.7L287.2 519L323.6 541.4L342.9 551L362.2 558.6L376.7 563.2L391.1 566.6L405.6 568.3L420.1 568.6L429.7 568.2L439.4 567.1L449.1 565L458.7 561.9L468.4 557.9L497.3 544.6L530.3 528.5L540.8 523.7L552.9 519L567.1 514.2L584.2 510L593.8 508.9L603.5 509.5L608.3 510.9L613.1 513L622.8 519.5L632.4 528.4L651.7 548.5L671 566.4L690.3 582.1L700 588.7L704.8 591.4L713.1 595.1L719.3 597.1L729 599.2L738.6 600.5L757.9 601.3L762.7 601L772.4 599.2L777.2 597.8L786.9 593.8L801.3 586.9L815.8 579.2L825.5 573.2L835.1 566.3L849.6 553.5L864.1 537.6L883.4 513L897.9 492.1L914 466.7L928.3 447.6L949 414.3L966.3 381L980.6 347.7L992.7 314.4L994.8 304.9L995.7 295.4L996.9 252.6M159.5 451.7L198.1 453.9L207.8 455.2L217.4 457.1L231.9 462L252.5 471.4L264.6 476.2L299.4 486.7L338.1 500L347.7 502.7L362.2 505.7L371.8 507.1L386.3 508.2L400.8 508.2L420.1 506L497.3 490.6L555.2 482.4L579.3 477.8L603.5 471.8L608.3 470.9L613.1 470.7L618 471.4L622.8 473L629.5 476.2L637.3 481L651.7 491.9L671 509.7L680.7 517.9L690.3 524L700 528.5L709.6 531.7L719.3 533.9L729 535.5L743.4 536.9L757.9 537.5L767.6 537.2L777.2 536.3L786.9 534.3L796.5 531.3L803.4 528.5L811 524.7L820.6 519L834 509.5L845.5 500L859.3 487.2L879 466.7L884.5 461.9L893 457.1L902.7 454.6L907.5 452.8L912.3 450L917.2 445.4L922 439.6L936.5 420.1L943.5 409.6L954.8 390.6L967.2 366.8L975.9 347.7L988.5 314.4L990.8 304.9L991.8 295.4L992.8 276.4L993.2 252.6M159.5 428.5L198.1 429.9L212.6 431.4L222.2 433L241.3 438.1L299.4 458L323.6 465.1L338.1 468.5L352.5 471.3L367 473.3L381.5 474.2L400.8 474.2L420.1 472.9L478 465.4L550.4 458.7L569.7 455.9L603.5 448L613.1 447.1L618 447.4L622.8 448.2L627.6 449.8L637.3 454.6L651.7 464.3L680.7 484.7L690.3 490.1L700 494.2L714.5 498L729 499.3L743.4 499.1L757.9 497L767.6 494L777.2 489.4L811.3 466.7L820.4 461.9L830.9 457.1L843.4 452.4L854.4 449.1L873.7 445.5L883.4 442.9L888.2 440.1L890.8 438.1L899.4 433.4L907.5 429.6L912.3 426.6L922 419.4L931.6 410.4L940.5 400.1L946.1 392.6L955.8 377.8L962.2 366.8L964.2 362L967.2 357.3L968.9 352.5L971.7 347.7L981.4 324L986 309.7L987.5 300.2L989 281.1L989.7 252.6M159.5 410L198.1 411.6L222.2 414.1L236.7 416.5L256 420.8L309.1 434.9L328.4 439L357.4 443.1L371.8 444.4L386.3 445.1L405.6 445.2L424.9 444.6L468.4 441.7L521.4 439.5L550.4 437.3L564.9 435.9L579.3 433.8L593.8 430.4L613.1 425.1L622.8 424.2L627.6 424.8L632.4 426.3L637.3 428.5L675.9 452.6L690.3 459.8L700 463.2L714.5 466.5L729 467.9L743.4 468L757.9 466.4L767.6 464L773.4 461.9L782 457.9L810.1 442.9L821.5 438.1L835.6 433.4L849.6 429.6L859.3 427.7L868.9 427L888.2 426.8L893 426.1L897.9 424.7L902.7 422.6L907.5 419.8L922 407.8L924.6 404.8L931.6 398.4L936.5 392.5L938.8 390.6L950.2 376.3L953.2 371.5L957 366.8L959.2 362L962.8 357.3L964.6 352.5L967.9 347.7L974.3 333.5L978 324L980.9 314.4L982.9 304.9L985.3 281.1L986.1 252.6" fill="none" stroke="#06602a" stroke-width="1.4" stroke-opacity="0.7"/>
<path d="M159.5 393.4L198.1 394L222.2 395.7L241.5 398.5L260.8 402.1L309.1 413.3L333.2 417.8L367 421.7L400.8 423.3L424.9 423.3L463.5 421.9L507 421.1L560 417.8L574.5 416.2L584.2 414.5L593.8 411.8L613.1 404.8L622.8 402.8L627.6 402.7L632.4 403.4L637.3 405.1L645.9 409.6L661.4 419L675.9 426.9L685.5 431.5L700 436.9L714.5 440.5L729 442.2L743.4 442.6L757.9 441.4L772.4 438L782 434.7L809.4 423.8L825.4 419.1L835.1 416.7L849.6 413.6L864.1 411.9L873.7 411.9L888.2 413.1L897.9 412.9L902.7 411.8L907.5 409.8L917.2 403.5L926.8 395.4L936.5 385.8L940.2 381L944.8 376.3L947.9 371.5L952.2 366.8L954.8 362L958.6 357.3L964.1 347.7L971.1 333.5L975.1 322.6L978.3 309.7L979 304.9L981.6 281.1L982.6 252.6M159.5 378.5L202.9 378.9L227.1 380.4L280.1 387.7L294.6 390.2L333.2 398.2L362.2 402.7L391.1 405.5L429.7 406.9L502.1 405.9L535.9 403.8L560 401.7L574.5 399.9L584.2 398L598.7 393.6L618 386.3L622.8 385L627.6 384.4L632.4 384.5L637.3 385.5L642.1 387.3L661.4 398.7L671 403.8L680.7 408.3L695.2 414L709.6 418.5L719.3 420.5L729 421.8L738.6 422.3L753.1 421.7L767.6 419.6L777.2 417.4L811 407.9L825.5 404.8L849.6 400.8L859.3 399.8L868.9 399.4L878.6 399.7L893 401L902.7 400.7L907.5 399.5L917.2 394.8L922 391.5L931.6 383.5L941.3 373.7L947.2 366.8L955.8 355.2L963.1 343L967.7 333.5L971.2 324L974.4 309.7L977.9 281.1L979.1 252.6M159.5 366.1L202.9 366.2L231.9 367.8L294.6 375.1L362.2 386L391.1 389.6L415.3 391.6L434.6 392.7L482.8 393.7L502.1 393.5L521.4 392.4L550.4 389.8L569.7 387.4L584.2 384.5L593.8 381.7L622.8 370.8L632.4 369.4L637.3 369.6L642.1 370.7L646.9 372.8L671 386.6L680.7 390.8L695.2 396.1L709.6 400L719.3 402L733.8 403.7L743.4 404.2L757.9 403.9L767.6 402.9L811 395L849.6 390.3L868.9 389.5L893 390.7L902.7 390.2L907.5 389.3L917.2 385.6L926.8 379.7L931.6 375.9L936.5 371.8L946.1 361.6L953.2 352.5L959.3 343L964.1 333.5L967.5 324L968.8 319.2L974.1 281.1L975.5 252.6M159.5 355.1L217.4 355.4L241.5 356.6L265.7 358.3L294.6 360.8L313.9 363L371.8 372.5L410.4 377.7L444.2 380.4L492.5 382.2L511.8 381.7L526.3 380.5L550.4 377.5L569.7 374.4L584.2 371.3L593.8 368.4L622.8 357.9L632.4 355.9L637.3 355.6L642.1 356.1L646.9 357.5L651.7 359.6L671 370L690.3 377.2L700 380.1L714.5 383.6L733.8 386.6L748.3 387.3L762.7 386.9L815.8 383.1L854.4 381.2L868.9 381.2L888.2 382L897.9 381.8L907.5 380.1L917.2 376.8L922 374.4L931.6 368.3L941.3 360L946.1 354.7L950.9 348.6L955.8 341.4L960.6 332.1L964.8 319.2L970.2 281.1L971.9 252.6M159.5 345L202.9 344.9L231.9 345.3L299.4 348.6L328.4 351.8L396 363.2L420.1 366.4L453.9 369.1L497.3 370.5L511.8 370L526.3 368.5L550.4 364.9L569.7 361.3L579.3 359.3L593.8 355.4L618 347L627.6 344.1L637.3 342.5L642.1 342.4L646.9 343.2L651.7 344.8L656.6 347L671 354.8L685.5 360.2L704.8 365.2L729 369.2L748.3 371L772.4 371.9L859.3 373.2L883.4 374.1L897.9 373.5L907.5 371.7L917.2 368.4L926.8 363.6L931.6 360.5L941.3 352.4L946.1 347.2L952.5 338.2L957.4 328.7L960.4 319.2L966.2 281.1L967.8 262.1L968.2 252.6M159.5 334.9L231.9 335.2L289.8 336.4L309.1 337.3L323.6 338.6L338.1 340.7L400.8 352.3L424.9 356L458.7 359.4L482.8 360.8L497.3 361.1L511.8 360.5L521.4 359.4L545.6 355.3L569.7 350L589 345.2L622.8 334.4L632.4 331.9L642.1 330.5L646.9 330.7L651.7 331.5L656.6 332.9L675.9 342.1L685.5 345.3L700 348.8L719.3 352.1L753.1 356.3L815.8 362.6L873.7 366L883.4 366.3L893 365.9L902.7 364.5L912.3 361.9L922 358L926.8 355.5L936.5 348.7L941.3 344.2L946.1 338.6L949.6 333.5L952.3 328.7L955.8 318.8L961.9 281.1L964.3 257.4L964.3 252.6M159.5 325.1L260.8 325L299.4 324.2L318.8 324.6L333.2 326.2L346.6 328.7L400.8 341.3L424.9 346L458.7 350.4L482.8 352.3L497.3 352.8L516.6 351.6L540.7 347.2L564.9 341.4L589 335L632.4 321L642.1 319L651.7 318.6L656.6 319.2L661.4 320.6L675.9 327.1L685.5 330.4L704.8 334.9L743.4 340.3L791.7 349.4L820.6 353.8L864.1 358.1L878.6 358.8L888.2 358.5L897.9 357.4L907.5 355.3L917.2 351.9L922 349.8L931.6 344L936.5 340.1L941.3 335.2L946.1 328.9L948.6 324L950.4 319.2L951.5 314.4L957.4 281.1L960.2 257.4L960.2 252.6M159.5 316.6L280.1 314L309.1 314.5L338.1 316.2L347.7 317.5L367 321.3L409.9 333.5L434.6 338.5L453.9 341.4L473.2 343.4L487.7 344.4L502.1 344.5L511.8 343.9L521.4 342.6L545.6 337.5L569.7 331L589 325.1L632.4 309.9L642.1 307.8L651.7 307.1L661.4 308.2L666.2 309.7L680.7 316.1L685.5 317.8L714.5 325.3L748.3 332L757.9 333.5L767.6 335.8L801.3 342.7L820.6 345.9L859.3 350.6L873.7 351.6L888.2 351.1L902.7 348.7L912.3 345.8L919 343L926.8 338.8L931.6 335.3L936.5 331L941.3 325.1L944.2 319.2L945.8 314.4L950.9 289.3L954.5 266.9L955.9 252.6M159.5 309.3L174 309.5L188.5 308L212.6 306.4L265.7 303.8L338.1 303.2L352.5 303.9L371.8 306.3L381.5 308.8L403.6 319.2L410.4 321.9L415.9 324L433.3 328.7L453.9 332.5L468.4 334.3L487.7 335.6L502.1 335.7L511.8 335.1L524.6 333.5L545.6 329L563.6 324L577.8 319.2L608.3 306.9L622.8 302.1L637.3 299L646.9 298.3L651.7 298.4L661.4 299.7L666.2 301L685.5 309.4L695.2 312.1L701 314.4L709.6 316.6L719.3 320.1L729 321.7L733.8 323.4L743.4 324.5L753.1 326.9L762.7 328.3L767.6 329.7L777.2 331L786.9 333.6L791.7 334.3L801.3 336.6L820.6 339.9L859.3 343.9L873.7 344.5L883.4 344L897.9 341.8L912.3 337.4L922 332.6L927.7 328.7L932.8 324L936.5 318.8L940 309.7L946.1 285.7L950.2 262.1L951.2 252.6M159.5 301.2L174 301.2L222.2 296.3L265.7 293.3L338.1 290.8L362.2 291.4L381.5 293.8L396 297.4L424.9 307.5L452.6 319.2L463.5 322.2L478 324.5L502.1 325.1L526.3 323.1L545.6 319.4L564.9 313.4L598.7 299.5L613.1 294.6L622.8 292.2L632.4 290.7L646.9 290L656.6 290.8L666.2 292.8L675.9 296.2L690.3 302.5L700 305.2L704.8 307.5L719.3 313.1L733.8 316.7L738.6 317.7L748.3 318.7L753.1 320L762.7 321.5L777.2 324.5L786.9 327.1L796.5 329L806.2 331.5L820.6 334.1L839.9 336.2L854.4 337.2L873.7 337.1L888.2 335.1L895.1 333.5L902.7 330.9L912.3 326.6L917.2 323.6L922 320.2L926.8 315.4L930.8 309.7L933.2 304.9L937.1 295.4L940.2 285.9L945.3 262.1L946.6 252.6M159.5 291.5L178.8 290.9L241.5 284.4L285 281.2L333.2 278.8L362.2 279.2L386.3 281.7L400.8 284.5L410.4 286.8L429.7 292.7L463.5 306.1L478 310.4L497.3 313.7L511.8 314L521.4 313.3L531.1 311.9L545.6 308.6L556.5 304.9L591.8 290.7L608.3 285.5L618 283.4L627.6 282L637.3 281.3L646.9 281.4L661.4 283.1L675.9 286.9L700 296.9L716.1 304.9L729.2 309.7L767.6 316.4L802.9 324L820.6 326.8L844.8 329L859.3 329.3L868.9 329L883.4 327.1L897.9 323L907.5 318.7L912.3 316L917.2 312.5L922 308L927.7 300.2L931.6 292.8L934.5 285.9L936.5 279.8L940.7 262.1L942.1 252.6M159.5 280.5L183.6 279.5L256 272L304.3 268.2L338.1 266.8L367 267.4L391.1 269.9L415.3 274.4L439.4 281.1L473.2 293.2L487.7 297.7L502.1 300.8L511.8 301.6L526.3 300.3L540.7 296.7L584.2 281.2L603.5 275.8L618 273.2L627.6 272.2L637.3 271.8L646.9 272.1L656.6 272.9L666.2 274.5L680.7 278.3L695.2 283.9L724.1 298.1L729.3 300.2L738.6 302.5L796.5 313.6L811 315.9L839.9 318.9L864.1 319.7L878.6 318.4L888.2 316.4L895.1 314.4L907.5 309.2L912.3 306.1L917.2 302.1L922 296.8L926.2 290.7L930.9 281.1L936.4 262.1L937.9 252.6M159.5 268.5L174 268.1L193.3 266.7L260.8 259.7L299.4 256.4L333.2 254.8L362.2 255L391.1 257.2L415.3 261L441.2 266.9L478 277.6L492.5 281.4L507 283.8L516.6 284.1L526.3 283.3L535.9 281.5L579.3 269.5L603.5 264.3L613.1 262.9L627.6 261.7L646.9 261.7L666.2 263.9L680.7 267L700 273.1L733.8 286.5L748.3 289.9L767.6 293L806.2 302.8L820.6 305.3L835.1 307L849.6 308L864.1 308.1L878.6 307.2L893 304.6L902.7 301.4L912.3 296L917.2 291.9L922 286.2L926.8 277.7L932.2 262.1L933.4 257.4L933.7 252.6M159.5 255.6L183.6 254.6L207.9 252.6M444.4 252.6L478 260L492.5 262.8L507 264.5L516.6 264.9L526.3 264.5L540.7 262.8L579.3 255.4L596.9 252.6M671.4 252.6L695.2 257.5L729 267.2L743.4 270.9L777.2 277L786.9 279.3L792.8 281.1L815.8 290.4L825.5 293.1L835.1 295.1L844.8 296.4L864.1 297.6L878.6 297.2L893 295.1L902.7 292.2L907.5 289.9L912.3 286.7L917.2 282.1L922 275.1L927.6 262.1L929 257.4L929.2 252.6M747 252.6L782 258.9L801.3 263.8L815.8 269.7L827.9 276.4L838.3 281.1L849.6 284.5L864.1 287.2L878.6 288L888.2 287.3L893 286.4L902.7 283.5L907.5 281L913.1 276.4L917.2 271.3L919.8 266.9L922 262.9L924 257.4L924 252.6M839.4 252.6L846.6 257.4L855.7 266.9L862.4 271.6L873.7 276.3L883.4 277.7L893 277.1L897.9 275.9L902.7 273.9L907.5 270.8L912.3 266L915 262.1L917.4 257.4L917.3 252.6M872.1 252.6L875.4 257.4L881.6 262.1L888.2 264.1L893 264.1L897.9 263L902.7 259.7L904.5 257.4L904.4 252.6" fill="none" stroke="#3a2c08" stroke-width="1.4" stroke-opacity="0.55"/>
<text class="cl" transform="translate(323.3,324) rotate(3)" text-anchor="middle" y="9.5" stroke="#f49d22">0.725</text>
<text class="cl" transform="translate(513.3,324) rotate(3)" text-anchor="middle" y="9.5" stroke="#f27024">0.8</text>
<text class="cl" transform="translate(516.7,370) rotate(3)" text-anchor="middle" y="9.5" stroke="#f7d21c">0.675</text>
<text class="cl" transform="translate(286.7,388.3) rotate(12)" text-anchor="middle" y="9.5" stroke="#f0e620">0.6</text>
<text class="cl" transform="translate(525,440) rotate(2)" text-anchor="middle" y="9.5" stroke="#9ccb3c">0.55</text>
<text class="cl" transform="translate(260,475) rotate(25)" text-anchor="middle" y="9.5" stroke="#7ac043">0.5</text>
<text class="cl" transform="translate(265,568.3) rotate(50)" text-anchor="middle" y="9.5" stroke="#66bb45">0.45</text>
<text class="cl" transform="translate(863.3,319.3) rotate(3)" text-anchor="middle" y="9.5" stroke="#ee5d27">0.85</text>
<text class="cl" transform="translate(876.7,365) rotate(-25)" text-anchor="middle" y="9.5" stroke="#f5ad22">0.7</text>
<text class="cl" transform="translate(898.3,400) rotate(-35)" text-anchor="middle" y="9.5" stroke="#f0e620">0.6</text>
<text class="cl" transform="translate(995,465) rotate(-75)" text-anchor="middle" y="9.5" stroke="#46b549">0.4</text>
<text class="cl" transform="translate(1068.3,481.7) rotate(85)" text-anchor="middle" y="9.5" stroke="#0e6bb0">0.3</text>
<text class="cl" transform="translate(1155,461.7) rotate(60)" text-anchor="middle" y="9.5" stroke="#4356b3">0.2</text>
<text class="cl" transform="translate(1220,390) rotate(30)" text-anchor="middle" y="9.5" stroke="#625ebb">0.1</text>
<text class="cl" transform="translate(1266.7,345) rotate(12)" text-anchor="middle" y="9.5" stroke="#6c62be">0.05</text>
<text class="cl" transform="translate(820,576.7) rotate(-30)" text-anchor="middle" y="9.5" stroke="#6fbd45">0.475</text>
<text class="cl" transform="translate(885,265) rotate(3)" text-anchor="middle" y="9.5" stroke="none">0.95</text>
<text class="cl" transform="translate(941.2,283.8) rotate(-75)" text-anchor="middle" y="9.5" stroke="none">0.8</text>
</g>
<path d="M162.9 307.4H1315.1" stroke="#0d0d0d" stroke-width="4.3" fill="none"/>
<path d="M738.7 308.9L843.2 255.9L1104.5 255.9L1184.8 308.9" stroke="#0d0d0d" stroke-width="4.2" fill="none" stroke-linejoin="miter"/>
<rect x="935.4" y="13.6" width="131.3" height="242.3" fill="#d2d5d5" stroke="#0d0d0d" stroke-width="3.6"/>
<text class="cai" transform="translate(1023.5,132.5) rotate(-90)" text-anchor="middle" textLength="194" lengthAdjust="spacingAndGlyphs">Caisson</text>
<path d="M143.8 677.3H160.4" stroke="#9c9c9c" stroke-width="2.8"/><path d="M152.6 640.4H160.4" stroke="#bdbdbd" stroke-width="1.8"/><path d="M152.6 603.4H160.4" stroke="#bdbdbd" stroke-width="1.8"/><path d="M152.6 566.5H160.4" stroke="#bdbdbd" stroke-width="1.8"/><path d="M152.6 529.6H160.4" stroke="#bdbdbd" stroke-width="1.8"/><path d="M143.8 492.6H160.4" stroke="#9c9c9c" stroke-width="2.8"/><path d="M152.6 455.7H160.4" stroke="#bdbdbd" stroke-width="1.8"/><path d="M152.6 418.8H160.4" stroke="#bdbdbd" stroke-width="1.8"/><path d="M152.6 381.9H160.4" stroke="#bdbdbd" stroke-width="1.8"/><path d="M152.6 344.9H160.4" stroke="#bdbdbd" stroke-width="1.8"/><path d="M143.8 308H160.4" stroke="#9c9c9c" stroke-width="2.8"/><path d="M152.6 271.1H160.4" stroke="#bdbdbd" stroke-width="1.8"/><path d="M152.6 234.1H160.4" stroke="#bdbdbd" stroke-width="1.8"/><path d="M152.6 197.2H160.4" stroke="#bdbdbd" stroke-width="1.8"/><path d="M152.6 160.3H160.4" stroke="#bdbdbd" stroke-width="1.8"/><path d="M143.8 123.3H160.4" stroke="#9c9c9c" stroke-width="2.8"/><path d="M152.6 86.4H160.4" stroke="#bdbdbd" stroke-width="1.8"/><path d="M152.6 49.5H160.4" stroke="#bdbdbd" stroke-width="1.8"/><path d="M152.6 12.6H160.4" stroke="#bdbdbd" stroke-width="1.8"/><path d="M172.7 689V704.5" stroke="#9c9c9c" stroke-width="2.8"/><path d="M210.4 689V696.5" stroke="#bdbdbd" stroke-width="1.8"/><path d="M248.2 689V696.5" stroke="#bdbdbd" stroke-width="1.8"/><path d="M285.9 689V696.5" stroke="#bdbdbd" stroke-width="1.8"/><path d="M323.6 689V696.5" stroke="#bdbdbd" stroke-width="1.8"/><path d="M361.3 689V704.5" stroke="#9c9c9c" stroke-width="2.8"/><path d="M399.1 689V696.5" stroke="#bdbdbd" stroke-width="1.8"/><path d="M436.8 689V696.5" stroke="#bdbdbd" stroke-width="1.8"/><path d="M474.5 689V696.5" stroke="#bdbdbd" stroke-width="1.8"/><path d="M512.2 689V696.5" stroke="#bdbdbd" stroke-width="1.8"/><path d="M550 689V704.5" stroke="#9c9c9c" stroke-width="2.8"/><path d="M587.7 689V696.5" stroke="#bdbdbd" stroke-width="1.8"/><path d="M625.4 689V696.5" stroke="#bdbdbd" stroke-width="1.8"/><path d="M663.2 689V696.5" stroke="#bdbdbd" stroke-width="1.8"/><path d="M700.9 689V696.5" stroke="#bdbdbd" stroke-width="1.8"/><path d="M738.6 689V704.5" stroke="#9c9c9c" stroke-width="2.8"/><path d="M776.3 689V696.5" stroke="#bdbdbd" stroke-width="1.8"/><path d="M814.1 689V696.5" stroke="#bdbdbd" stroke-width="1.8"/><path d="M851.8 689V696.5" stroke="#bdbdbd" stroke-width="1.8"/><path d="M889.5 689V696.5" stroke="#bdbdbd" stroke-width="1.8"/><path d="M927.2 689V704.5" stroke="#9c9c9c" stroke-width="2.8"/><path d="M965 689V696.5" stroke="#bdbdbd" stroke-width="1.8"/><path d="M1002.7 689V696.5" stroke="#bdbdbd" stroke-width="1.8"/><path d="M1040.4 689V696.5" stroke="#bdbdbd" stroke-width="1.8"/><path d="M1078.1 689V696.5" stroke="#bdbdbd" stroke-width="1.8"/><path d="M1115.9 689V704.5" stroke="#9c9c9c" stroke-width="2.8"/><path d="M1153.6 689V696.5" stroke="#bdbdbd" stroke-width="1.8"/><path d="M1191.3 689V696.5" stroke="#bdbdbd" stroke-width="1.8"/><path d="M1229.1 689V696.5" stroke="#bdbdbd" stroke-width="1.8"/><path d="M1266.8 689V696.5" stroke="#bdbdbd" stroke-width="1.8"/><path d="M1304.5 689V704.5" stroke="#9c9c9c" stroke-width="2.8"/>
<text class="tk" transform="translate(132.5,690.8) scale(0.94,1)" text-anchor="end">0</text>
<text class="tk" transform="translate(132.5,506.1) scale(0.94,1)" text-anchor="end">0.5</text>
<text class="tk" transform="translate(132.5,321.5) scale(0.94,1)" text-anchor="end">1</text>
<text class="tk" transform="translate(132.5,136.8) scale(0.94,1)" text-anchor="end">1.5</text>
<text class="tk" transform="translate(172.4,743.4) scale(0.94,1)" text-anchor="middle">22.5</text>
<text class="tk" transform="translate(361,743.4) scale(0.94,1)" text-anchor="middle">23</text>
<text class="tk" transform="translate(549.7,743.4) scale(0.94,1)" text-anchor="middle">23.5</text>
<text class="tk" transform="translate(738.3,743.4) scale(0.94,1)" text-anchor="middle">24</text>
<text class="tk" transform="translate(926.9,743.4) scale(0.94,1)" text-anchor="middle">24.5</text>
<text class="tk" transform="translate(1115.6,743.4) scale(0.94,1)" text-anchor="middle">25</text>
<text class="tk" transform="translate(1304.2,743.4) scale(0.94,1)" text-anchor="middle">25.5</text>
<text class="ax" x="737.6" y="830.9" text-anchor="middle">X(m)</text>
<text class="ax" transform="translate(42.5,346.2) rotate(-90)" text-anchor="middle">Z(m)</text>
<path d="M164 16.8H255" stroke="#3f50b2" stroke-width="2.9" fill="none"/><path d="M266.3 16.8L248 9.2L251.5 16.8L248 24.4Z" fill="#3f50b2"/>
<text class="wv" x="172.6" y="59.8" textLength="88.5" lengthAdjust="spacingAndGlyphs">Wave</text>
</g>
<g transform="translate(1936.8,2805.2)"><text class="cap" transform="translate(5.4,0) scale(0.70,1)">(c)</text><text class="capi" transform="translate(85.5,0) scale(1.12,1)">T</text><text class="caps" x="127.9" y="14.2">1<tspan style="font-size:50px" dy="3" dx="-2">/</tspan><tspan dy="-3" dx="-2">3</tspan></text><text class="cap" transform="translate(188.4,0) scale(0.755,1)">=1.8s</text></g>
<rect x="725" y="2842.5" width="32.5" height="41.2" fill="#8169c5"/><rect x="757" y="2842.5" width="32.5" height="41.2" fill="#7866c2"/><rect x="788.9" y="2842.5" width="32.5" height="41.2" fill="#6c62be"/><rect x="820.9" y="2842.5" width="32.5" height="41.2" fill="#625ebb"/><rect x="852.8" y="2842.5" width="32.5" height="41.2" fill="#595bb8"/><rect x="884.8" y="2842.5" width="32.5" height="41.2" fill="#5159b6"/><rect x="916.8" y="2842.5" width="32.5" height="41.2" fill="#4b58b5"/><rect x="948.7" y="2842.5" width="32.5" height="41.2" fill="#4657b4"/><rect x="980.7" y="2842.5" width="32.5" height="41.2" fill="#4356b3"/><rect x="1012.6" y="2842.5" width="32.5" height="41.2" fill="#4154b1"/><rect x="1044.6" y="2842.5" width="32.5" height="41.2" fill="#3f52ad"/><rect x="1076.6" y="2842.5" width="32.5" height="41.2" fill="#0e6bb0"/><rect x="1108.5" y="2842.5" width="32.5" height="41.2" fill="#1b8b88"/><rect x="1140.5" y="2842.5" width="32.5" height="41.2" fill="#12a15c"/><rect x="1172.4" y="2842.5" width="32.5" height="41.2" fill="#2cb04c"/><rect x="1204.4" y="2842.5" width="32.5" height="41.2" fill="#46b549"/><rect x="1236.4" y="2842.5" width="32.5" height="41.2" fill="#5ab847"/><rect x="1268.3" y="2842.5" width="32.5" height="41.2" fill="#66bb45"/><rect x="1300.3" y="2842.5" width="32.5" height="41.2" fill="#6fbd45"/><rect x="1332.2" y="2842.5" width="32.5" height="41.2" fill="#7ac043"/><rect x="1364.2" y="2842.5" width="32.5" height="41.2" fill="#8cc63f"/><rect x="1396.2" y="2842.5" width="32.5" height="41.2" fill="#9ccb3c"/><rect x="1428.1" y="2842.5" width="32.5" height="41.2" fill="#b4d334"/><rect x="1460.1" y="2842.5" width="32.5" height="41.2" fill="#d6de2c"/><rect x="1492" y="2842.5" width="32.5" height="41.2" fill="#f0e620"/><rect x="1524" y="2842.5" width="32.5" height="41.2" fill="#f6e418"/><rect x="1556" y="2842.5" width="32.5" height="41.2" fill="#f7d21c"/><rect x="1587.9" y="2842.5" width="32.5" height="41.2" fill="#f4c21e"/><rect x="1619.9" y="2842.5" width="32.5" height="41.2" fill="#f5ad22"/><rect x="1651.8" y="2842.5" width="32.5" height="41.2" fill="#f49d22"/><rect x="1683.8" y="2842.5" width="32.5" height="41.2" fill="#f58d22"/><rect x="1715.8" y="2842.5" width="32.5" height="41.2" fill="#f47d23"/><rect x="1747.7" y="2842.5" width="32.5" height="41.2" fill="#f27024"/><rect x="1779.7" y="2842.5" width="32.5" height="41.2" fill="#ef6626"/><rect x="1811.6" y="2842.5" width="32.5" height="41.2" fill="#ee5d27"/><rect x="1843.6" y="2842.5" width="32.5" height="41.2" fill="#ec5328"/><rect x="1875.6" y="2842.5" width="32.5" height="41.2" fill="#ea4828"/><rect x="1907.5" y="2842.5" width="32.5" height="41.2" fill="#e83e28"/><rect x="1939.5" y="2842.5" width="32.5" height="41.2" fill="#e73427"/><rect x="1971.4" y="2842.5" width="32.5" height="41.2" fill="#e72d26"/><rect x="2003.4" y="2842.5" width="32" height="41.2" fill="#e62a25"/><path d="M757 2842.5V2883.7M788.9 2842.5V2883.7M820.9 2842.5V2883.7M852.8 2842.5V2883.7M884.8 2842.5V2883.7M916.8 2842.5V2883.7M948.7 2842.5V2883.7M980.7 2842.5V2883.7M1012.6 2842.5V2883.7M1044.6 2842.5V2883.7M1076.6 2842.5V2883.7M1108.5 2842.5V2883.7M1140.5 2842.5V2883.7M1172.4 2842.5V2883.7M1204.4 2842.5V2883.7M1236.4 2842.5V2883.7M1268.3 2842.5V2883.7M1300.3 2842.5V2883.7M1332.2 2842.5V2883.7M1364.2 2842.5V2883.7M1396.2 2842.5V2883.7M1428.1 2842.5V2883.7M1460.1 2842.5V2883.7M1492 2842.5V2883.7M1524 2842.5V2883.7M1556 2842.5V2883.7M1587.9 2842.5V2883.7M1619.9 2842.5V2883.7M1651.8 2842.5V2883.7M1683.8 2842.5V2883.7M1715.8 2842.5V2883.7M1747.7 2842.5V2883.7M1779.7 2842.5V2883.7M1811.6 2842.5V2883.7M1843.6 2842.5V2883.7M1875.6 2842.5V2883.7M1907.5 2842.5V2883.7M1939.5 2842.5V2883.7M1971.4 2842.5V2883.7M2003.4 2842.5V2883.7" stroke="#30307a" stroke-opacity="0.45" stroke-width="1.2" fill="none"/>
<text class="cbt" text-anchor="middle" transform="translate(725.8,2916) scale(2.0,1)">0</text>
<text class="cbt" text-anchor="middle" transform="translate(853.4,2916) scale(2.0,1)">0.1</text>
<text class="cbt" text-anchor="middle" transform="translate(981,2916) scale(2.0,1)">0.2</text>
<text class="cbt" text-anchor="middle" transform="translate(1108.6,2916) scale(2.0,1)">0.3</text>
<text class="cbt" text-anchor="middle" transform="translate(1236.2,2916) scale(2.0,1)">0.4</text>
<text class="cbt" text-anchor="middle" transform="translate(1363.8,2916) scale(2.0,1)">0.5</text>
<text class="cbt" text-anchor="middle" transform="translate(1491.4,2916) scale(2.0,1)">0.6</text>
<text class="cbt" text-anchor="middle" transform="translate(1619,2916) scale(2.0,1)">0.7</text>
<text class="cbt" text-anchor="middle" transform="translate(1746.6,2916) scale(2.0,1)">0.8</text>
<text class="cbt" text-anchor="middle" transform="translate(1874.2,2916) scale(2.0,1)">0.9</text>
<text class="cbt" text-anchor="middle" transform="translate(2001.8,2916) scale(2.0,1)">1</text>
<text class="cbl" x="894" y="2961.4" textLength="707.6" lengthAdjust="spacingAndGlyphs">Contour of maximum pore water pressure</text>
<text class="cbl cbi" x="1603" y="2961.4" textLength="24" lengthAdjust="spacingAndGlyphs">(p</text>
<text class="cbs" x="1632" y="2967.5" textLength="41.5" lengthAdjust="spacingAndGlyphs">max</text>
<text class="cbl cbi" x="1686" y="2961.4">/</text>
<text class="cbl cbi" x="1712.5" y="2961.4" textLength="22" lengthAdjust="spacingAndGlyphs">ρ</text>
<text class="cbl cbi" x="1740" y="2961.4" textLength="60" lengthAdjust="spacingAndGlyphs">gH</text>
<text class="cbs" x="1797" y="2967.5" textLength="34" lengthAdjust="spacingAndGlyphs">1/3</text>
<text class="cbl cbi" x="1839.5" y="2961.4">)</text>
</svg></body></html>
